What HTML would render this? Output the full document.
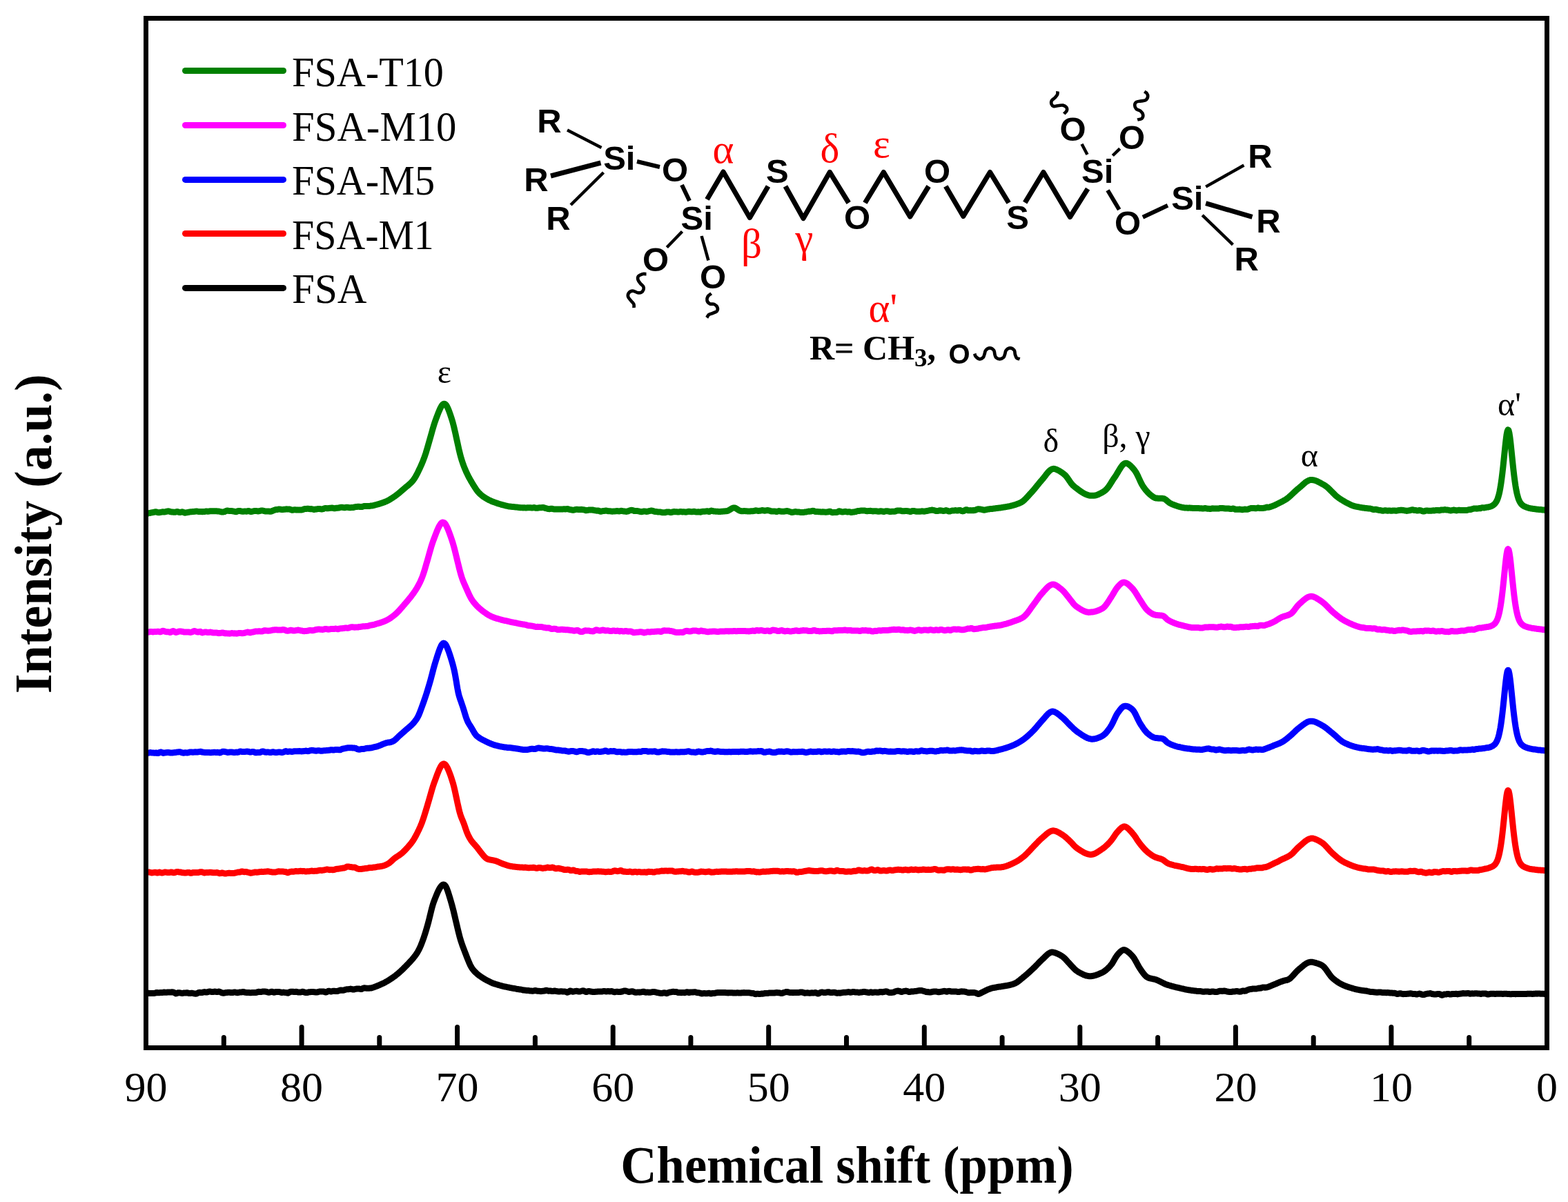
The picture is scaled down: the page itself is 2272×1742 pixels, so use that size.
<!DOCTYPE html>
<html><head><meta charset="utf-8"><title>Chemical shift NMR spectra</title>
<style>
html,body{margin:0;padding:0;background:#fff;}
svg{display:block;}
.serif{font-family:"Liberation Serif","Times New Roman",serif;}
.sans{font-family:"Liberation Sans",Arial,sans-serif;font-weight:bold;}
</style></head><body>
<svg width="2272" height="1742" viewBox="0 0 2272 1742">
<rect width="2272" height="1742" fill="#fff"/>

<g fill="none" stroke-width="9" stroke-linejoin="round" stroke-linecap="butt">
<path d="M212.0 743.6 L213.0 743.8 L214.0 744.0 L215.0 743.9 L216.0 743.7 L217.0 743.5 L218.0 743.3 L219.0 743.0 L220.0 742.8 L221.0 742.7 L222.0 742.6 L223.0 742.3 L224.0 742.0 L225.0 741.8 L226.0 741.8 L227.0 742.1 L228.0 742.4 L229.0 742.7 L230.0 742.8 L231.0 742.7 L232.0 742.6 L233.0 742.3 L234.0 742.1 L235.0 741.9 L236.0 741.8 L237.0 741.9 L238.0 742.0 L239.0 741.9 L240.0 741.7 L241.0 741.4 L242.0 741.1 L243.0 740.9 L244.0 740.8 L245.0 741.0 L246.0 741.3 L247.0 741.7 L248.0 741.9 L249.0 742.0 L250.0 742.0 L251.0 742.2 L252.0 742.3 L253.0 742.3 L254.0 742.2 L255.0 741.9 L256.0 741.7 L257.0 741.5 L258.0 741.8 L259.0 742.2 L260.0 742.6 L261.0 742.6 L262.0 742.3 L263.0 742.0 L264.0 741.8 L265.0 742.1 L266.0 742.6 L267.0 743.1 L268.0 743.2 L269.0 743.1 L270.0 742.9 L271.0 742.7 L272.0 742.6 L273.0 742.4 L274.0 742.1 L275.0 741.9 L276.0 741.8 L277.0 741.7 L278.0 741.7 L279.0 741.6 L280.0 741.5 L281.0 741.4 L282.0 741.3 L283.0 741.2 L284.0 741.1 L285.0 741.0 L286.0 741.2 L287.0 741.4 L288.0 741.6 L289.0 741.5 L290.0 741.4 L291.0 741.5 L292.0 741.6 L293.0 741.7 L294.0 741.6 L295.0 741.6 L296.0 741.6 L297.0 741.3 L298.0 741.1 L299.0 741.0 L300.0 741.1 L301.0 741.3 L302.0 741.2 L303.0 741.0 L304.0 740.8 L305.0 740.7 L306.0 740.7 L307.0 740.7 L308.0 740.7 L309.0 740.8 L310.0 740.8 L311.0 740.8 L312.0 740.8 L313.0 740.7 L314.0 740.8 L315.0 740.9 L316.0 741.0 L317.0 741.1 L318.0 741.2 L319.0 741.5 L320.0 741.8 L321.0 741.9 L322.0 741.9 L323.0 741.9 L324.0 741.9 L325.0 741.7 L326.0 741.3 L327.0 740.8 L328.0 740.4 L329.0 740.1 L330.0 740.1 L331.0 740.3 L332.0 740.4 L333.0 740.5 L334.0 740.5 L335.0 740.5 L336.0 740.6 L337.0 740.8 L338.0 740.9 L339.0 741.1 L340.0 741.3 L341.0 741.6 L342.0 741.7 L343.0 741.4 L344.0 740.9 L345.0 740.6 L346.0 740.4 L347.0 740.5 L348.0 740.6 L349.0 740.9 L350.0 741.1 L351.0 741.2 L352.0 741.2 L353.0 741.2 L354.0 741.1 L355.0 741.0 L356.0 741.1 L357.0 741.2 L358.0 741.1 L359.0 740.7 L360.0 740.5 L361.0 740.7 L362.0 741.1 L363.0 741.4 L364.0 741.5 L365.0 741.3 L366.0 741.1 L367.0 740.9 L368.0 740.7 L369.0 740.5 L370.0 740.4 L371.0 740.4 L372.0 740.6 L373.0 740.8 L374.0 740.9 L375.0 740.8 L376.0 740.6 L377.0 740.3 L378.0 740.1 L379.0 740.0 L380.0 740.0 L381.0 740.2 L382.0 740.4 L383.0 740.7 L384.0 740.9 L385.0 741.0 L386.0 741.0 L387.0 740.9 L388.0 740.9 L389.0 741.0 L390.0 741.1 L391.0 741.3 L392.0 741.3 L393.0 741.1 L394.0 740.7 L395.0 740.3 L396.0 739.9 L397.0 739.5 L398.0 739.1 L399.0 738.7 L400.0 738.6 L401.0 738.6 L402.0 738.5 L403.0 738.2 L404.0 738.0 L405.0 738.0 L406.0 738.2 L407.0 738.3 L408.0 738.4 L409.0 738.4 L410.0 738.4 L411.0 738.3 L412.0 738.3 L413.0 738.2 L414.0 738.0 L415.0 737.8 L416.0 737.9 L417.0 738.0 L418.0 738.0 L419.0 738.0 L420.0 738.1 L421.0 738.5 L422.0 738.9 L423.0 739.2 L424.0 739.2 L425.0 739.1 L426.0 738.9 L427.0 738.7 L428.0 738.8 L429.0 738.9 L430.0 739.1 L431.0 739.1 L432.0 739.1 L433.0 739.0 L434.0 739.0 L435.0 739.0 L436.0 739.0 L437.0 738.9 L438.0 738.8 L439.0 738.5 L440.0 738.0 L441.0 737.6 L442.0 737.4 L443.0 737.4 L444.0 737.4 L445.0 737.3 L446.0 737.2 L447.0 737.3 L448.0 737.5 L449.0 737.7 L450.0 737.7 L451.0 737.6 L452.0 737.7 L453.0 738.0 L454.0 738.3 L455.0 738.4 L456.0 738.3 L457.0 738.1 L458.0 738.0 L459.0 737.9 L460.0 737.7 L461.0 737.5 L462.0 737.4 L463.0 737.5 L464.0 737.7 L465.0 737.8 L466.0 737.9 L467.0 737.9 L468.0 737.7 L469.0 737.3 L470.0 736.8 L471.0 736.5 L472.0 736.5 L473.0 736.7 L474.0 736.8 L475.0 736.8 L476.0 736.6 L477.0 736.5 L478.0 736.3 L479.0 736.2 L480.0 736.2 L481.0 736.1 L482.0 736.2 L483.0 736.4 L484.0 736.7 L485.0 736.8 L486.0 736.6 L487.0 736.3 L488.0 736.2 L489.0 736.2 L490.0 736.2 L491.0 736.0 L492.0 735.6 L493.0 735.4 L494.0 735.3 L495.0 735.3 L496.0 735.3 L497.0 735.4 L498.0 735.6 L499.0 735.8 L500.0 735.7 L501.0 735.4 L502.0 735.2 L503.0 735.2 L504.0 735.3 L505.0 735.5 L506.0 735.7 L507.0 735.8 L508.0 735.7 L509.0 735.6 L510.0 735.6 L511.0 735.6 L512.0 735.5 L513.0 735.2 L514.0 734.8 L515.0 734.6 L516.0 734.6 L517.0 734.5 L518.0 734.3 L519.0 734.2 L520.0 734.2 L521.0 734.4 L522.0 734.5 L523.0 734.6 L524.0 734.5 L525.0 734.4 L526.0 734.0 L527.0 733.7 L528.0 733.5 L529.0 733.6 L530.0 733.6 L531.0 733.5 L532.0 733.5 L533.0 733.5 L534.0 733.6 L535.0 733.5 L536.0 733.3 L537.0 733.1 L538.0 733.0 L539.0 732.9 L540.0 732.8 L541.0 732.6 L542.0 732.3 L543.0 732.0 L544.0 731.8 L545.0 731.5 L546.0 731.2 L547.0 731.0 L548.0 730.7 L549.0 730.4 L550.0 730.1 L551.0 729.8 L552.0 729.4 L553.0 729.1 L554.0 728.8 L555.0 728.4 L556.0 728.1 L557.0 727.7 L558.0 727.3 L559.0 726.9 L560.0 726.4 L561.0 725.9 L562.0 725.4 L563.0 724.9 L564.0 724.4 L565.0 723.8 L566.0 723.2 L567.0 722.6 L568.0 721.9 L569.0 721.3 L570.0 720.6 L571.0 719.9 L572.0 719.3 L573.0 718.6 L574.0 717.8 L575.0 717.1 L576.0 716.3 L577.0 715.5 L578.0 714.7 L579.0 713.8 L580.0 713.0 L581.0 712.1 L582.0 711.3 L583.0 710.4 L584.0 709.5 L585.0 708.7 L586.0 707.8 L587.0 707.0 L588.0 706.1 L589.0 705.3 L590.0 704.5 L591.0 703.7 L592.0 702.8 L593.0 701.9 L594.0 701.0 L595.0 700.1 L596.0 699.1 L597.0 698.0 L598.0 696.8 L599.0 695.6 L600.0 694.2 L601.0 692.7 L602.0 691.0 L603.0 689.2 L604.0 687.4 L605.0 685.4 L606.0 683.4 L607.0 681.3 L608.0 679.2 L609.0 677.1 L610.0 674.9 L611.0 672.6 L612.0 670.3 L613.0 667.8 L614.0 665.2 L615.0 662.5 L616.0 659.6 L617.0 656.6 L618.0 653.3 L619.0 650.0 L620.0 646.6 L621.0 643.1 L622.0 639.6 L623.0 636.1 L624.0 632.5 L625.0 629.0 L626.0 625.4 L627.0 621.8 L628.0 618.4 L629.0 615.1 L630.0 612.1 L631.0 609.2 L632.0 606.5 L633.0 603.9 L634.0 601.2 L635.0 598.7 L636.0 596.2 L637.0 593.9 L638.0 591.7 L639.0 589.8 L640.0 588.1 L641.0 586.8 L642.0 585.8 L643.0 585.3 L644.0 585.3 L645.0 585.6 L646.0 586.5 L647.0 587.8 L648.0 589.6 L649.0 591.7 L650.0 594.1 L651.0 596.7 L652.0 599.5 L653.0 602.5 L654.0 605.5 L655.0 608.7 L656.0 612.1 L657.0 615.8 L658.0 619.9 L659.0 624.2 L660.0 628.6 L661.0 633.2 L662.0 637.7 L663.0 642.3 L664.0 646.9 L665.0 651.4 L666.0 655.6 L667.0 659.6 L668.0 663.3 L669.0 666.6 L670.0 669.7 L671.0 672.6 L672.0 675.3 L673.0 677.8 L674.0 680.2 L675.0 682.6 L676.0 684.8 L677.0 686.9 L678.0 688.9 L679.0 690.9 L680.0 692.8 L681.0 694.6 L682.0 696.4 L683.0 698.1 L684.0 699.8 L685.0 701.5 L686.0 703.1 L687.0 704.7 L688.0 706.3 L689.0 707.8 L690.0 709.3 L691.0 710.7 L692.0 712.0 L693.0 713.2 L694.0 714.3 L695.0 715.3 L696.0 716.3 L697.0 717.1 L698.0 717.9 L699.0 718.7 L700.0 719.5 L701.0 720.2 L702.0 720.8 L703.0 721.5 L704.0 722.1 L705.0 722.7 L706.0 723.3 L707.0 723.8 L708.0 724.4 L709.0 724.9 L710.0 725.3 L711.0 725.8 L712.0 726.3 L713.0 726.7 L714.0 727.1 L715.0 727.4 L716.0 727.8 L717.0 728.1 L718.0 728.5 L719.0 728.8 L720.0 729.2 L721.0 729.6 L722.0 729.9 L723.0 730.2 L724.0 730.5 L725.0 730.8 L726.0 731.1 L727.0 731.4 L728.0 731.7 L729.0 731.9 L730.0 732.2 L731.0 732.4 L732.0 732.7 L733.0 733.0 L734.0 733.2 L735.0 733.4 L736.0 733.6 L737.0 733.8 L738.0 734.0 L739.0 734.1 L740.0 734.2 L741.0 734.3 L742.0 734.4 L743.0 734.6 L744.0 734.6 L745.0 734.7 L746.0 734.8 L747.0 734.9 L748.0 735.0 L749.0 735.1 L750.0 735.2 L751.0 735.3 L752.0 735.5 L753.0 735.6 L754.0 735.8 L755.0 735.8 L756.0 735.8 L757.0 735.8 L758.0 735.9 L759.0 735.8 L760.0 735.8 L761.0 735.9 L762.0 735.9 L763.0 735.9 L764.0 735.8 L765.0 735.7 L766.0 735.7 L767.0 735.7 L768.0 735.7 L769.0 735.8 L770.0 735.9 L771.0 736.0 L772.0 735.9 L773.0 735.7 L774.0 735.6 L775.0 735.9 L776.0 736.2 L777.0 736.3 L778.0 736.3 L779.0 736.2 L780.0 736.1 L781.0 735.9 L782.0 735.7 L783.0 735.7 L784.0 735.8 L785.0 735.7 L786.0 735.5 L787.0 735.5 L788.0 735.7 L789.0 736.1 L790.0 736.4 L791.0 736.7 L792.0 736.9 L793.0 737.2 L794.0 737.5 L795.0 737.6 L796.0 737.7 L797.0 737.6 L798.0 737.3 L799.0 737.2 L800.0 737.3 L801.0 737.6 L802.0 737.8 L803.0 737.9 L804.0 738.0 L805.0 738.1 L806.0 738.1 L807.0 738.0 L808.0 737.9 L809.0 737.9 L810.0 738.0 L811.0 738.0 L812.0 738.0 L813.0 738.0 L814.0 738.1 L815.0 738.0 L816.0 737.8 L817.0 737.8 L818.0 737.8 L819.0 737.9 L820.0 737.8 L821.0 737.7 L822.0 737.6 L823.0 737.6 L824.0 738.0 L825.0 738.4 L826.0 738.6 L827.0 738.7 L828.0 738.8 L829.0 739.1 L830.0 739.3 L831.0 739.3 L832.0 739.0 L833.0 738.6 L834.0 738.4 L835.0 738.3 L836.0 738.3 L837.0 738.3 L838.0 738.5 L839.0 738.6 L840.0 738.6 L841.0 738.5 L842.0 738.3 L843.0 738.4 L844.0 738.6 L845.0 738.7 L846.0 738.8 L847.0 739.0 L848.0 739.3 L849.0 739.7 L850.0 739.7 L851.0 739.5 L852.0 739.3 L853.0 739.1 L854.0 739.0 L855.0 739.0 L856.0 739.0 L857.0 739.0 L858.0 739.0 L859.0 739.1 L860.0 739.4 L861.0 739.6 L862.0 739.7 L863.0 739.9 L864.0 740.1 L865.0 740.2 L866.0 740.1 L867.0 740.0 L868.0 740.3 L869.0 740.9 L870.0 741.2 L871.0 741.2 L872.0 740.9 L873.0 740.7 L874.0 740.6 L875.0 740.5 L876.0 740.3 L877.0 740.2 L878.0 740.1 L879.0 740.2 L880.0 740.4 L881.0 740.7 L882.0 740.8 L883.0 740.8 L884.0 740.8 L885.0 740.9 L886.0 741.1 L887.0 741.2 L888.0 741.2 L889.0 741.0 L890.0 740.9 L891.0 740.9 L892.0 740.8 L893.0 740.7 L894.0 740.6 L895.0 740.7 L896.0 740.8 L897.0 740.9 L898.0 740.8 L899.0 740.6 L900.0 740.3 L901.0 740.4 L902.0 740.7 L903.0 740.9 L904.0 741.1 L905.0 741.1 L906.0 741.2 L907.0 741.3 L908.0 741.4 L909.0 741.2 L910.0 740.9 L911.0 740.4 L912.0 740.0 L913.0 739.7 L914.0 739.5 L915.0 739.3 L916.0 739.4 L917.0 739.6 L918.0 740.1 L919.0 740.5 L920.0 740.6 L921.0 740.5 L922.0 740.4 L923.0 740.5 L924.0 740.6 L925.0 740.8 L926.0 741.0 L927.0 741.3 L928.0 741.5 L929.0 741.7 L930.0 741.7 L931.0 741.5 L932.0 741.2 L933.0 740.9 L934.0 741.0 L935.0 741.2 L936.0 741.3 L937.0 741.4 L938.0 741.3 L939.0 741.1 L940.0 740.8 L941.0 740.5 L942.0 740.3 L943.0 740.1 L944.0 740.1 L945.0 740.2 L946.0 740.4 L947.0 740.8 L948.0 741.2 L949.0 741.5 L950.0 741.6 L951.0 741.6 L952.0 741.7 L953.0 741.9 L954.0 742.0 L955.0 742.0 L956.0 742.0 L957.0 742.0 L958.0 742.3 L959.0 742.6 L960.0 742.8 L961.0 742.8 L962.0 742.8 L963.0 742.8 L964.0 742.7 L965.0 742.4 L966.0 742.0 L967.0 741.9 L968.0 741.9 L969.0 742.0 L970.0 742.2 L971.0 742.5 L972.0 742.7 L973.0 742.5 L974.0 742.2 L975.0 741.8 L976.0 741.6 L977.0 741.6 L978.0 741.7 L979.0 741.7 L980.0 741.7 L981.0 741.8 L982.0 742.0 L983.0 742.0 L984.0 741.9 L985.0 741.7 L986.0 741.5 L987.0 741.6 L988.0 741.8 L989.0 741.9 L990.0 741.8 L991.0 741.8 L992.0 741.9 L993.0 742.1 L994.0 742.2 L995.0 742.0 L996.0 741.7 L997.0 741.4 L998.0 741.3 L999.0 741.3 L1000.0 741.5 L1001.0 741.7 L1002.0 741.8 L1003.0 741.8 L1004.0 741.5 L1005.0 741.3 L1006.0 741.3 L1007.0 741.6 L1008.0 741.9 L1009.0 742.1 L1010.0 742.0 L1011.0 741.8 L1012.0 741.8 L1013.0 741.9 L1014.0 742.1 L1015.0 742.2 L1016.0 741.9 L1017.0 741.5 L1018.0 741.3 L1019.0 741.2 L1020.0 741.2 L1021.0 741.2 L1022.0 741.2 L1023.0 741.0 L1024.0 740.7 L1025.0 740.8 L1026.0 741.2 L1027.0 741.5 L1028.0 741.4 L1029.0 740.8 L1030.0 740.2 L1031.0 740.1 L1032.0 740.3 L1033.0 740.7 L1034.0 741.0 L1035.0 741.1 L1036.0 741.1 L1037.0 741.2 L1038.0 741.2 L1039.0 741.3 L1040.0 741.3 L1041.0 741.4 L1042.0 741.4 L1043.0 741.4 L1044.0 741.4 L1045.0 741.3 L1046.0 741.2 L1047.0 741.2 L1048.0 741.1 L1049.0 741.0 L1050.0 740.9 L1051.0 740.8 L1052.0 740.8 L1053.0 740.7 L1054.0 740.5 L1055.0 740.2 L1056.0 739.6 L1057.0 739.1 L1058.0 738.4 L1059.0 737.8 L1060.0 737.1 L1061.0 736.5 L1062.0 736.2 L1063.0 736.0 L1064.0 736.0 L1065.0 736.1 L1066.0 736.5 L1067.0 737.1 L1068.0 737.8 L1069.0 738.5 L1070.0 739.1 L1071.0 739.7 L1072.0 740.1 L1073.0 740.4 L1074.0 740.7 L1075.0 740.8 L1076.0 740.8 L1077.0 740.7 L1078.0 740.6 L1079.0 740.6 L1080.0 740.7 L1081.0 740.8 L1082.0 740.8 L1083.0 740.9 L1084.0 741.0 L1085.0 741.0 L1086.0 740.9 L1087.0 740.9 L1088.0 740.8 L1089.0 740.8 L1090.0 740.7 L1091.0 740.7 L1092.0 740.6 L1093.0 740.4 L1094.0 740.1 L1095.0 739.8 L1096.0 739.9 L1097.0 740.2 L1098.0 740.4 L1099.0 740.4 L1100.0 740.3 L1101.0 740.3 L1102.0 740.1 L1103.0 739.8 L1104.0 739.6 L1105.0 739.5 L1106.0 739.8 L1107.0 740.1 L1108.0 740.2 L1109.0 740.1 L1110.0 739.9 L1111.0 739.7 L1112.0 739.6 L1113.0 739.6 L1114.0 739.8 L1115.0 740.1 L1116.0 740.4 L1117.0 740.8 L1118.0 741.0 L1119.0 741.1 L1120.0 741.1 L1121.0 741.0 L1122.0 740.9 L1123.0 741.0 L1124.0 741.3 L1125.0 741.5 L1126.0 741.4 L1127.0 741.0 L1128.0 740.7 L1129.0 740.6 L1130.0 740.8 L1131.0 741.1 L1132.0 741.2 L1133.0 741.3 L1134.0 741.3 L1135.0 741.3 L1136.0 741.2 L1137.0 741.1 L1138.0 740.9 L1139.0 740.7 L1140.0 740.6 L1141.0 740.6 L1142.0 740.8 L1143.0 741.1 L1144.0 741.5 L1145.0 741.8 L1146.0 742.1 L1147.0 742.4 L1148.0 742.4 L1149.0 742.3 L1150.0 742.1 L1151.0 741.8 L1152.0 741.6 L1153.0 741.6 L1154.0 741.8 L1155.0 741.9 L1156.0 742.0 L1157.0 742.0 L1158.0 742.1 L1159.0 742.3 L1160.0 742.4 L1161.0 742.5 L1162.0 742.6 L1163.0 742.6 L1164.0 742.5 L1165.0 742.3 L1166.0 742.1 L1167.0 742.0 L1168.0 741.9 L1169.0 741.8 L1170.0 741.5 L1171.0 741.2 L1172.0 741.1 L1173.0 741.2 L1174.0 741.2 L1175.0 741.0 L1176.0 740.6 L1177.0 740.4 L1178.0 740.3 L1179.0 740.5 L1180.0 740.9 L1181.0 741.3 L1182.0 741.5 L1183.0 741.5 L1184.0 741.5 L1185.0 741.6 L1186.0 741.7 L1187.0 741.7 L1188.0 741.7 L1189.0 741.9 L1190.0 742.0 L1191.0 741.9 L1192.0 741.8 L1193.0 741.8 L1194.0 742.0 L1195.0 742.1 L1196.0 742.2 L1197.0 742.2 L1198.0 742.1 L1199.0 742.0 L1200.0 741.8 L1201.0 741.4 L1202.0 741.2 L1203.0 741.3 L1204.0 741.8 L1205.0 742.4 L1206.0 742.7 L1207.0 742.7 L1208.0 742.6 L1209.0 742.4 L1210.0 742.4 L1211.0 742.5 L1212.0 742.6 L1213.0 742.4 L1214.0 741.8 L1215.0 741.2 L1216.0 740.8 L1217.0 740.9 L1218.0 741.3 L1219.0 741.7 L1220.0 742.0 L1221.0 742.1 L1222.0 741.9 L1223.0 741.6 L1224.0 741.4 L1225.0 741.3 L1226.0 741.5 L1227.0 741.8 L1228.0 742.0 L1229.0 741.9 L1230.0 741.7 L1231.0 741.8 L1232.0 742.1 L1233.0 742.4 L1234.0 742.4 L1235.0 742.3 L1236.0 742.1 L1237.0 742.0 L1238.0 741.9 L1239.0 741.7 L1240.0 741.5 L1241.0 741.1 L1242.0 740.8 L1243.0 740.5 L1244.0 740.4 L1245.0 740.4 L1246.0 740.3 L1247.0 740.1 L1248.0 739.9 L1249.0 739.9 L1250.0 739.9 L1251.0 740.0 L1252.0 739.9 L1253.0 740.0 L1254.0 740.3 L1255.0 740.6 L1256.0 740.7 L1257.0 740.7 L1258.0 740.6 L1259.0 740.5 L1260.0 740.4 L1261.0 740.3 L1262.0 740.4 L1263.0 740.6 L1264.0 740.8 L1265.0 740.9 L1266.0 740.8 L1267.0 740.7 L1268.0 740.7 L1269.0 740.7 L1270.0 740.8 L1271.0 741.0 L1272.0 741.2 L1273.0 741.3 L1274.0 741.2 L1275.0 740.9 L1276.0 740.7 L1277.0 740.8 L1278.0 741.0 L1279.0 741.3 L1280.0 741.4 L1281.0 741.4 L1282.0 741.1 L1283.0 740.9 L1284.0 740.7 L1285.0 740.7 L1286.0 740.8 L1287.0 740.9 L1288.0 741.1 L1289.0 741.4 L1290.0 741.5 L1291.0 741.4 L1292.0 741.3 L1293.0 741.2 L1294.0 741.3 L1295.0 741.3 L1296.0 741.3 L1297.0 741.1 L1298.0 740.7 L1299.0 740.3 L1300.0 740.0 L1301.0 739.9 L1302.0 740.0 L1303.0 740.0 L1304.0 740.0 L1305.0 740.1 L1306.0 740.4 L1307.0 740.7 L1308.0 740.8 L1309.0 740.8 L1310.0 740.8 L1311.0 740.6 L1312.0 740.4 L1313.0 740.4 L1314.0 740.6 L1315.0 740.7 L1316.0 740.8 L1317.0 741.0 L1318.0 741.3 L1319.0 741.5 L1320.0 741.3 L1321.0 740.9 L1322.0 740.5 L1323.0 740.5 L1324.0 740.6 L1325.0 740.6 L1326.0 740.8 L1327.0 741.1 L1328.0 741.3 L1329.0 741.3 L1330.0 741.2 L1331.0 741.3 L1332.0 741.3 L1333.0 741.3 L1334.0 741.1 L1335.0 740.9 L1336.0 740.8 L1337.0 740.9 L1338.0 741.1 L1339.0 741.2 L1340.0 741.1 L1341.0 740.9 L1342.0 740.7 L1343.0 740.5 L1344.0 740.3 L1345.0 740.1 L1346.0 739.9 L1347.0 739.7 L1348.0 739.5 L1349.0 739.3 L1350.0 739.1 L1351.0 739.1 L1352.0 739.3 L1353.0 739.5 L1354.0 739.8 L1355.0 740.1 L1356.0 740.4 L1357.0 740.5 L1358.0 740.6 L1359.0 740.5 L1360.0 740.2 L1361.0 739.9 L1362.0 739.7 L1363.0 739.8 L1364.0 740.0 L1365.0 740.2 L1366.0 740.4 L1367.0 740.4 L1368.0 740.4 L1369.0 740.2 L1370.0 739.9 L1371.0 739.6 L1372.0 739.8 L1373.0 740.3 L1374.0 740.8 L1375.0 741.1 L1376.0 741.1 L1377.0 740.8 L1378.0 740.5 L1379.0 740.2 L1380.0 740.0 L1381.0 740.0 L1382.0 740.0 L1383.0 739.8 L1384.0 739.6 L1385.0 739.7 L1386.0 739.9 L1387.0 740.0 L1388.0 739.9 L1389.0 739.6 L1390.0 739.4 L1391.0 739.4 L1392.0 739.7 L1393.0 740.3 L1394.0 740.7 L1395.0 740.9 L1396.0 740.7 L1397.0 740.2 L1398.0 739.5 L1399.0 738.9 L1400.0 738.7 L1401.0 738.8 L1402.0 739.3 L1403.0 739.7 L1404.0 739.8 L1405.0 739.7 L1406.0 739.6 L1407.0 739.8 L1408.0 739.8 L1409.0 739.7 L1410.0 739.6 L1411.0 739.7 L1412.0 739.6 L1413.0 739.4 L1414.0 739.0 L1415.0 738.5 L1416.0 738.0 L1417.0 737.7 L1418.0 737.7 L1419.0 737.9 L1420.0 738.0 L1421.0 738.1 L1422.0 738.3 L1423.0 738.5 L1424.0 738.8 L1425.0 739.1 L1426.0 739.2 L1427.0 739.1 L1428.0 738.9 L1429.0 738.7 L1430.0 738.4 L1431.0 738.2 L1432.0 738.0 L1433.0 737.9 L1434.0 737.7 L1435.0 737.6 L1436.0 737.6 L1437.0 737.5 L1438.0 737.4 L1439.0 737.2 L1440.0 737.1 L1441.0 737.0 L1442.0 736.8 L1443.0 736.7 L1444.0 736.5 L1445.0 736.4 L1446.0 736.3 L1447.0 736.2 L1448.0 736.1 L1449.0 736.0 L1450.0 735.9 L1451.0 735.7 L1452.0 735.5 L1453.0 735.3 L1454.0 735.2 L1455.0 735.0 L1456.0 734.9 L1457.0 734.7 L1458.0 734.6 L1459.0 734.4 L1460.0 734.2 L1461.0 734.0 L1462.0 733.8 L1463.0 733.6 L1464.0 733.4 L1465.0 733.1 L1466.0 732.8 L1467.0 732.6 L1468.0 732.3 L1469.0 732.0 L1470.0 731.8 L1471.0 731.5 L1472.0 731.1 L1473.0 730.8 L1474.0 730.4 L1475.0 730.0 L1476.0 729.7 L1477.0 729.3 L1478.0 728.8 L1479.0 728.4 L1480.0 727.8 L1481.0 727.2 L1482.0 726.5 L1483.0 725.7 L1484.0 724.8 L1485.0 723.9 L1486.0 722.9 L1487.0 721.9 L1488.0 720.8 L1489.0 719.7 L1490.0 718.6 L1491.0 717.5 L1492.0 716.4 L1493.0 715.3 L1494.0 714.2 L1495.0 713.1 L1496.0 712.0 L1497.0 710.8 L1498.0 709.7 L1499.0 708.5 L1500.0 707.3 L1501.0 706.0 L1502.0 704.8 L1503.0 703.5 L1504.0 702.3 L1505.0 701.1 L1506.0 699.9 L1507.0 698.7 L1508.0 697.5 L1509.0 696.3 L1510.0 695.2 L1511.0 694.0 L1512.0 692.8 L1513.0 691.5 L1514.0 690.2 L1515.0 688.9 L1516.0 687.6 L1517.0 686.3 L1518.0 685.1 L1519.0 684.0 L1520.0 683.0 L1521.0 682.0 L1522.0 681.2 L1523.0 680.6 L1524.0 680.0 L1525.0 679.6 L1526.0 679.4 L1527.0 679.3 L1528.0 679.5 L1529.0 679.8 L1530.0 680.1 L1531.0 680.5 L1532.0 680.9 L1533.0 681.4 L1534.0 681.9 L1535.0 682.5 L1536.0 683.1 L1537.0 683.8 L1538.0 684.4 L1539.0 685.1 L1540.0 685.9 L1541.0 686.6 L1542.0 687.4 L1543.0 688.3 L1544.0 689.3 L1545.0 690.4 L1546.0 691.7 L1547.0 693.1 L1548.0 694.5 L1549.0 696.0 L1550.0 697.5 L1551.0 698.9 L1552.0 700.3 L1553.0 701.5 L1554.0 702.7 L1555.0 703.7 L1556.0 704.6 L1557.0 705.4 L1558.0 706.2 L1559.0 707.0 L1560.0 707.8 L1561.0 708.5 L1562.0 709.3 L1563.0 710.0 L1564.0 710.8 L1565.0 711.5 L1566.0 712.2 L1567.0 712.8 L1568.0 713.5 L1569.0 714.1 L1570.0 714.7 L1571.0 715.2 L1572.0 715.7 L1573.0 716.2 L1574.0 716.6 L1575.0 717.0 L1576.0 717.4 L1577.0 717.7 L1578.0 718.0 L1579.0 718.2 L1580.0 718.3 L1581.0 718.3 L1582.0 718.2 L1583.0 718.2 L1584.0 718.2 L1585.0 718.2 L1586.0 718.2 L1587.0 718.0 L1588.0 717.8 L1589.0 717.5 L1590.0 717.1 L1591.0 716.7 L1592.0 716.3 L1593.0 715.8 L1594.0 715.3 L1595.0 714.8 L1596.0 714.3 L1597.0 713.7 L1598.0 713.1 L1599.0 712.5 L1600.0 711.8 L1601.0 711.1 L1602.0 710.3 L1603.0 709.3 L1604.0 708.2 L1605.0 707.0 L1606.0 705.7 L1607.0 704.2 L1608.0 702.7 L1609.0 701.2 L1610.0 699.6 L1611.0 698.0 L1612.0 696.4 L1613.0 694.8 L1614.0 693.3 L1615.0 691.9 L1616.0 690.4 L1617.0 688.9 L1618.0 687.3 L1619.0 685.6 L1620.0 684.0 L1621.0 682.3 L1622.0 680.6 L1623.0 679.0 L1624.0 677.4 L1625.0 676.0 L1626.0 674.7 L1627.0 673.5 L1628.0 672.6 L1629.0 671.9 L1630.0 671.5 L1631.0 671.2 L1632.0 671.3 L1633.0 671.5 L1634.0 672.0 L1635.0 672.5 L1636.0 673.2 L1637.0 674.0 L1638.0 674.9 L1639.0 675.9 L1640.0 676.9 L1641.0 678.0 L1642.0 679.1 L1643.0 680.3 L1644.0 681.6 L1645.0 683.0 L1646.0 684.5 L1647.0 686.3 L1648.0 688.2 L1649.0 690.3 L1650.0 692.5 L1651.0 694.7 L1652.0 696.9 L1653.0 699.0 L1654.0 701.0 L1655.0 702.8 L1656.0 704.4 L1657.0 705.9 L1658.0 707.3 L1659.0 708.7 L1660.0 710.0 L1661.0 711.2 L1662.0 712.3 L1663.0 713.4 L1664.0 714.5 L1665.0 715.4 L1666.0 716.3 L1667.0 717.2 L1668.0 718.0 L1669.0 718.8 L1670.0 719.5 L1671.0 720.2 L1672.0 720.8 L1673.0 721.3 L1674.0 721.7 L1675.0 722.0 L1676.0 722.1 L1677.0 722.1 L1678.0 722.2 L1679.0 722.2 L1680.0 722.2 L1681.0 722.2 L1682.0 722.2 L1683.0 722.2 L1684.0 722.3 L1685.0 722.4 L1686.0 722.6 L1687.0 722.9 L1688.0 723.5 L1689.0 724.1 L1690.0 724.9 L1691.0 725.8 L1692.0 726.7 L1693.0 727.5 L1694.0 728.3 L1695.0 729.0 L1696.0 729.6 L1697.0 730.1 L1698.0 730.5 L1699.0 731.0 L1700.0 731.3 L1701.0 731.7 L1702.0 732.1 L1703.0 732.4 L1704.0 732.8 L1705.0 733.1 L1706.0 733.5 L1707.0 733.8 L1708.0 734.1 L1709.0 734.4 L1710.0 734.6 L1711.0 734.9 L1712.0 735.2 L1713.0 735.4 L1714.0 735.5 L1715.0 735.7 L1716.0 735.8 L1717.0 736.0 L1718.0 736.0 L1719.0 736.1 L1720.0 736.1 L1721.0 736.2 L1722.0 736.2 L1723.0 736.1 L1724.0 736.1 L1725.0 736.2 L1726.0 736.3 L1727.0 736.3 L1728.0 736.4 L1729.0 736.4 L1730.0 736.5 L1731.0 736.6 L1732.0 736.6 L1733.0 736.6 L1734.0 736.5 L1735.0 736.4 L1736.0 736.5 L1737.0 736.6 L1738.0 736.7 L1739.0 736.7 L1740.0 736.8 L1741.0 736.8 L1742.0 736.9 L1743.0 737.0 L1744.0 736.9 L1745.0 736.7 L1746.0 736.6 L1747.0 736.6 L1748.0 736.8 L1749.0 737.1 L1750.0 737.3 L1751.0 737.3 L1752.0 737.3 L1753.0 737.4 L1754.0 737.4 L1755.0 737.3 L1756.0 737.0 L1757.0 736.8 L1758.0 736.9 L1759.0 737.0 L1760.0 737.1 L1761.0 737.1 L1762.0 737.0 L1763.0 736.9 L1764.0 736.9 L1765.0 737.0 L1766.0 737.0 L1767.0 736.7 L1768.0 736.5 L1769.0 736.4 L1770.0 736.5 L1771.0 736.6 L1772.0 736.6 L1773.0 736.7 L1774.0 736.8 L1775.0 736.9 L1776.0 736.9 L1777.0 737.0 L1778.0 737.0 L1779.0 736.9 L1780.0 736.9 L1781.0 737.1 L1782.0 737.4 L1783.0 737.6 L1784.0 737.5 L1785.0 737.3 L1786.0 737.1 L1787.0 737.1 L1788.0 737.4 L1789.0 737.8 L1790.0 738.2 L1791.0 738.3 L1792.0 738.3 L1793.0 738.2 L1794.0 738.2 L1795.0 738.2 L1796.0 738.1 L1797.0 738.2 L1798.0 738.4 L1799.0 738.6 L1800.0 738.7 L1801.0 738.6 L1802.0 738.4 L1803.0 738.2 L1804.0 738.1 L1805.0 738.2 L1806.0 738.2 L1807.0 738.3 L1808.0 738.1 L1809.0 737.8 L1810.0 737.4 L1811.0 737.0 L1812.0 736.7 L1813.0 736.5 L1814.0 736.5 L1815.0 736.5 L1816.0 736.5 L1817.0 736.5 L1818.0 736.6 L1819.0 736.8 L1820.0 736.8 L1821.0 736.5 L1822.0 736.2 L1823.0 736.0 L1824.0 736.2 L1825.0 736.5 L1826.0 736.5 L1827.0 736.4 L1828.0 736.4 L1829.0 736.4 L1830.0 736.4 L1831.0 736.3 L1832.0 736.2 L1833.0 736.0 L1834.0 735.6 L1835.0 735.2 L1836.0 735.1 L1837.0 735.2 L1838.0 735.2 L1839.0 735.1 L1840.0 734.8 L1841.0 734.4 L1842.0 734.1 L1843.0 733.8 L1844.0 733.4 L1845.0 733.0 L1846.0 732.6 L1847.0 732.2 L1848.0 731.7 L1849.0 731.3 L1850.0 730.8 L1851.0 730.3 L1852.0 729.8 L1853.0 729.3 L1854.0 728.8 L1855.0 728.3 L1856.0 727.8 L1857.0 727.3 L1858.0 726.7 L1859.0 726.2 L1860.0 725.6 L1861.0 725.1 L1862.0 724.5 L1863.0 723.9 L1864.0 723.2 L1865.0 722.5 L1866.0 721.7 L1867.0 720.9 L1868.0 720.1 L1869.0 719.2 L1870.0 718.3 L1871.0 717.4 L1872.0 716.4 L1873.0 715.5 L1874.0 714.5 L1875.0 713.6 L1876.0 712.7 L1877.0 711.7 L1878.0 710.8 L1879.0 709.9 L1880.0 709.1 L1881.0 708.2 L1882.0 707.4 L1883.0 706.6 L1884.0 705.8 L1885.0 704.9 L1886.0 704.0 L1887.0 703.1 L1888.0 702.2 L1889.0 701.3 L1890.0 700.5 L1891.0 699.6 L1892.0 698.8 L1893.0 698.1 L1894.0 697.4 L1895.0 696.9 L1896.0 696.4 L1897.0 696.0 L1898.0 695.7 L1899.0 695.5 L1900.0 695.4 L1901.0 695.5 L1902.0 695.6 L1903.0 695.8 L1904.0 695.9 L1905.0 696.2 L1906.0 696.5 L1907.0 696.9 L1908.0 697.3 L1909.0 697.8 L1910.0 698.2 L1911.0 698.7 L1912.0 699.2 L1913.0 699.8 L1914.0 700.3 L1915.0 700.9 L1916.0 701.4 L1917.0 702.0 L1918.0 702.6 L1919.0 703.1 L1920.0 703.8 L1921.0 704.4 L1922.0 705.2 L1923.0 706.0 L1924.0 706.8 L1925.0 707.8 L1926.0 708.7 L1927.0 709.7 L1928.0 710.7 L1929.0 711.7 L1930.0 712.8 L1931.0 713.8 L1932.0 714.8 L1933.0 715.8 L1934.0 716.8 L1935.0 717.8 L1936.0 718.7 L1937.0 719.5 L1938.0 720.3 L1939.0 721.1 L1940.0 721.8 L1941.0 722.5 L1942.0 723.1 L1943.0 723.8 L1944.0 724.4 L1945.0 725.0 L1946.0 725.6 L1947.0 726.2 L1948.0 726.8 L1949.0 727.4 L1950.0 728.0 L1951.0 728.6 L1952.0 729.1 L1953.0 729.6 L1954.0 730.1 L1955.0 730.6 L1956.0 731.1 L1957.0 731.6 L1958.0 732.0 L1959.0 732.4 L1960.0 732.8 L1961.0 733.1 L1962.0 733.4 L1963.0 733.7 L1964.0 734.0 L1965.0 734.2 L1966.0 734.4 L1967.0 734.6 L1968.0 734.7 L1969.0 734.9 L1970.0 735.1 L1971.0 735.3 L1972.0 735.5 L1973.0 735.7 L1974.0 735.8 L1975.0 736.0 L1976.0 736.1 L1977.0 736.2 L1978.0 736.4 L1979.0 736.5 L1980.0 736.6 L1981.0 736.7 L1982.0 736.8 L1983.0 736.9 L1984.0 737.0 L1985.0 737.1 L1986.0 737.2 L1987.0 737.5 L1988.0 737.8 L1989.0 738.2 L1990.0 738.5 L1991.0 738.5 L1992.0 738.3 L1993.0 738.2 L1994.0 738.3 L1995.0 738.6 L1996.0 738.9 L1997.0 739.2 L1998.0 739.4 L1999.0 739.5 L2000.0 739.6 L2001.0 739.7 L2002.0 740.0 L2003.0 740.2 L2004.0 740.3 L2005.0 740.1 L2006.0 739.9 L2007.0 739.7 L2008.0 739.8 L2009.0 740.0 L2010.0 740.2 L2011.0 740.2 L2012.0 740.1 L2013.0 740.1 L2014.0 740.1 L2015.0 740.2 L2016.0 740.2 L2017.0 740.2 L2018.0 740.1 L2019.0 740.0 L2020.0 739.9 L2021.0 740.0 L2022.0 740.2 L2023.0 740.3 L2024.0 740.1 L2025.0 739.9 L2026.0 739.7 L2027.0 739.6 L2028.0 739.5 L2029.0 739.3 L2030.0 739.2 L2031.0 739.2 L2032.0 739.4 L2033.0 739.5 L2034.0 739.6 L2035.0 739.8 L2036.0 740.0 L2037.0 740.2 L2038.0 740.4 L2039.0 740.3 L2040.0 740.1 L2041.0 739.9 L2042.0 739.8 L2043.0 739.7 L2044.0 739.4 L2045.0 739.0 L2046.0 738.7 L2047.0 738.8 L2048.0 739.1 L2049.0 739.4 L2050.0 739.5 L2051.0 739.5 L2052.0 739.7 L2053.0 740.0 L2054.0 740.0 L2055.0 739.8 L2056.0 739.6 L2057.0 739.6 L2058.0 739.7 L2059.0 739.9 L2060.0 740.2 L2061.0 740.7 L2062.0 741.0 L2063.0 741.0 L2064.0 740.8 L2065.0 740.4 L2066.0 740.1 L2067.0 739.9 L2068.0 740.0 L2069.0 740.2 L2070.0 740.2 L2071.0 740.3 L2072.0 740.3 L2073.0 740.2 L2074.0 740.2 L2075.0 740.1 L2076.0 739.9 L2077.0 739.8 L2078.0 739.9 L2079.0 739.9 L2080.0 739.7 L2081.0 739.5 L2082.0 739.4 L2083.0 739.5 L2084.0 739.6 L2085.0 739.7 L2086.0 739.7 L2087.0 739.4 L2088.0 739.1 L2089.0 739.0 L2090.0 739.0 L2091.0 739.0 L2092.0 738.9 L2093.0 738.7 L2094.0 738.6 L2095.0 738.8 L2096.0 739.0 L2097.0 739.1 L2098.0 739.1 L2099.0 739.3 L2100.0 739.6 L2101.0 739.8 L2102.0 739.9 L2103.0 739.8 L2104.0 739.6 L2105.0 739.3 L2106.0 739.1 L2107.0 739.1 L2108.0 739.3 L2109.0 739.7 L2110.0 739.9 L2111.0 739.8 L2112.0 739.6 L2113.0 739.4 L2114.0 739.2 L2115.0 739.3 L2116.0 739.5 L2117.0 739.5 L2118.0 739.5 L2119.0 739.4 L2120.0 739.5 L2121.0 739.5 L2122.0 739.5 L2123.0 739.5 L2124.0 739.6 L2125.0 739.5 L2126.0 739.3 L2127.0 739.0 L2128.0 738.7 L2129.0 738.6 L2130.0 738.5 L2131.0 738.4 L2132.0 738.1 L2133.0 737.8 L2134.0 737.5 L2135.0 737.2 L2136.0 737.0 L2137.0 736.9 L2138.0 736.9 L2139.0 737.1 L2140.0 737.2 L2141.0 737.0 L2142.0 736.8 L2143.0 736.6 L2144.0 736.7 L2145.0 736.7 L2146.0 736.3 L2147.0 735.9 L2148.0 735.7 L2149.0 735.8 L2150.0 735.9 L2151.0 735.9 L2152.0 735.7 L2153.0 735.4 L2154.0 735.2 L2155.0 735.1 L2156.0 735.0 L2157.0 734.8 L2158.0 734.5 L2159.0 734.3 L2160.0 734.0 L2161.0 733.5 L2162.0 733.1 L2163.0 732.5 L2164.0 731.8 L2165.0 731.0 L2166.0 730.1 L2167.0 728.8 L2168.0 727.3 L2169.0 725.4 L2170.0 723.0 L2171.0 720.0 L2172.0 716.4 L2173.0 711.9 L2174.0 706.6 L2175.0 700.3 L2176.0 693.0 L2177.0 684.9 L2178.0 675.9 L2179.0 666.3 L2180.0 656.4 L2181.0 646.6 L2182.0 637.7 L2183.0 630.2 L2184.0 625.0 L2185.0 622.8 L2186.0 623.8 L2187.0 627.9 L2188.0 634.5 L2189.0 643.0 L2190.0 652.6 L2191.0 662.5 L2192.0 672.3 L2193.0 681.5 L2194.0 690.1 L2195.0 697.7 L2196.0 704.4 L2197.0 710.2 L2198.0 715.0 L2199.0 719.0 L2200.0 722.3 L2201.0 724.9 L2202.0 727.0 L2203.0 728.7 L2204.0 730.1 L2205.0 731.2 L2206.0 732.1 L2207.0 732.8 L2208.0 733.5 L2209.0 734.0 L2210.0 734.4 L2211.0 734.8 L2212.0 735.2 L2213.0 735.5 L2214.0 735.9 L2215.0 736.2 L2216.0 736.5 L2217.0 736.7 L2218.0 736.9 L2219.0 737.0 L2220.0 737.2 L2221.0 737.3 L2222.0 737.5 L2223.0 737.6 L2224.0 737.7 L2225.0 737.8 L2226.0 738.0 L2227.0 738.2 L2228.0 738.3 L2229.0 738.3 L2230.0 738.4 L2231.0 738.4 L2232.0 738.5 L2233.0 738.6 L2234.0 738.8 L2235.0 738.9 L2236.0 739.0 L2237.0 739.1 L2238.0 739.2 L2239.0 739.3 L2240.0 739.4 L2241.0 739.5" stroke="#008000"/>
<path d="M212.0 916.5 L213.0 916.5 L214.0 916.4 L215.0 916.2 L216.0 915.9 L217.0 915.7 L218.0 915.5 L219.0 915.5 L220.0 915.6 L221.0 915.8 L222.0 915.9 L223.0 915.7 L224.0 915.5 L225.0 915.5 L226.0 915.6 L227.0 915.5 L228.0 915.2 L229.0 915.2 L230.0 915.4 L231.0 915.7 L232.0 915.9 L233.0 915.7 L234.0 915.2 L235.0 914.6 L236.0 914.3 L237.0 914.4 L238.0 914.8 L239.0 915.2 L240.0 915.5 L241.0 915.7 L242.0 915.8 L243.0 915.8 L244.0 915.8 L245.0 916.0 L246.0 916.4 L247.0 916.5 L248.0 916.0 L249.0 915.3 L250.0 914.7 L251.0 914.6 L252.0 914.9 L253.0 915.5 L254.0 916.1 L255.0 916.4 L256.0 916.3 L257.0 916.0 L258.0 915.5 L259.0 915.1 L260.0 914.9 L261.0 915.0 L262.0 915.1 L263.0 915.2 L264.0 915.3 L265.0 915.5 L266.0 915.8 L267.0 916.1 L268.0 916.1 L269.0 916.0 L270.0 915.9 L271.0 915.9 L272.0 915.9 L273.0 916.0 L274.0 916.2 L275.0 916.3 L276.0 916.4 L277.0 916.3 L278.0 916.0 L279.0 915.6 L280.0 915.0 L281.0 914.6 L282.0 914.6 L283.0 914.9 L284.0 915.3 L285.0 915.6 L286.0 915.9 L287.0 916.0 L288.0 915.9 L289.0 915.5 L290.0 915.3 L291.0 915.7 L292.0 916.4 L293.0 916.9 L294.0 916.8 L295.0 916.5 L296.0 916.2 L297.0 916.1 L298.0 916.0 L299.0 916.1 L300.0 916.3 L301.0 916.6 L302.0 916.6 L303.0 916.5 L304.0 916.2 L305.0 916.1 L306.0 916.3 L307.0 916.6 L308.0 916.9 L309.0 917.1 L310.0 917.1 L311.0 917.0 L312.0 916.9 L313.0 916.9 L314.0 917.0 L315.0 917.3 L316.0 917.5 L317.0 917.7 L318.0 917.6 L319.0 917.5 L320.0 917.3 L321.0 917.1 L322.0 916.9 L323.0 917.0 L324.0 917.4 L325.0 917.7 L326.0 917.9 L327.0 917.8 L328.0 917.8 L329.0 917.9 L330.0 917.9 L331.0 918.0 L332.0 918.2 L333.0 918.2 L334.0 918.0 L335.0 917.7 L336.0 917.6 L337.0 917.7 L338.0 917.9 L339.0 917.9 L340.0 917.8 L341.0 917.9 L342.0 918.1 L343.0 918.2 L344.0 918.0 L345.0 917.7 L346.0 917.6 L347.0 917.6 L348.0 917.6 L349.0 917.6 L350.0 917.7 L351.0 917.7 L352.0 917.7 L353.0 917.6 L354.0 917.4 L355.0 917.1 L356.0 916.8 L357.0 916.5 L358.0 916.2 L359.0 916.1 L360.0 916.4 L361.0 916.7 L362.0 916.9 L363.0 916.8 L364.0 916.4 L365.0 916.2 L366.0 916.1 L367.0 916.0 L368.0 915.7 L369.0 915.3 L370.0 915.0 L371.0 914.9 L372.0 914.9 L373.0 914.9 L374.0 914.9 L375.0 914.8 L376.0 914.8 L377.0 914.9 L378.0 915.0 L379.0 915.0 L380.0 914.9 L381.0 914.6 L382.0 914.2 L383.0 913.8 L384.0 913.7 L385.0 913.8 L386.0 914.0 L387.0 914.1 L388.0 914.2 L389.0 914.2 L390.0 914.1 L391.0 914.0 L392.0 913.8 L393.0 913.6 L394.0 913.3 L395.0 913.1 L396.0 913.0 L397.0 912.9 L398.0 912.8 L399.0 912.8 L400.0 912.8 L401.0 912.8 L402.0 912.9 L403.0 913.0 L404.0 913.0 L405.0 913.1 L406.0 913.0 L407.0 913.0 L408.0 912.9 L409.0 912.7 L410.0 912.6 L411.0 912.7 L412.0 912.8 L413.0 913.1 L414.0 913.6 L415.0 914.0 L416.0 914.2 L417.0 914.2 L418.0 914.1 L419.0 913.9 L420.0 913.6 L421.0 913.3 L422.0 913.2 L423.0 913.5 L424.0 913.9 L425.0 914.1 L426.0 914.1 L427.0 913.9 L428.0 913.8 L429.0 913.6 L430.0 913.5 L431.0 913.2 L432.0 913.1 L433.0 913.2 L434.0 913.5 L435.0 913.8 L436.0 913.9 L437.0 914.0 L438.0 914.2 L439.0 914.5 L440.0 914.7 L441.0 914.7 L442.0 914.6 L443.0 914.4 L444.0 914.4 L445.0 914.3 L446.0 914.2 L447.0 913.9 L448.0 913.6 L449.0 913.4 L450.0 913.4 L451.0 913.6 L452.0 913.8 L453.0 913.8 L454.0 913.6 L455.0 913.3 L456.0 913.1 L457.0 912.7 L458.0 912.5 L459.0 912.3 L460.0 912.2 L461.0 912.1 L462.0 912.1 L463.0 912.1 L464.0 912.2 L465.0 912.2 L466.0 912.3 L467.0 912.4 L468.0 912.4 L469.0 912.2 L470.0 911.8 L471.0 911.5 L472.0 911.4 L473.0 911.6 L474.0 911.9 L475.0 912.1 L476.0 912.2 L477.0 912.0 L478.0 911.8 L479.0 911.6 L480.0 911.4 L481.0 911.5 L482.0 911.6 L483.0 911.6 L484.0 911.5 L485.0 911.3 L486.0 911.1 L487.0 911.2 L488.0 911.5 L489.0 911.8 L490.0 911.7 L491.0 911.3 L492.0 911.0 L493.0 910.9 L494.0 910.8 L495.0 910.8 L496.0 910.7 L497.0 910.6 L498.0 910.4 L499.0 910.3 L500.0 910.1 L501.0 910.1 L502.0 910.1 L503.0 910.2 L504.0 910.2 L505.0 910.1 L506.0 909.8 L507.0 909.3 L508.0 909.0 L509.0 908.8 L510.0 908.8 L511.0 908.8 L512.0 908.9 L513.0 909.1 L514.0 909.2 L515.0 909.1 L516.0 908.9 L517.0 908.9 L518.0 908.9 L519.0 908.9 L520.0 908.6 L521.0 908.5 L522.0 908.4 L523.0 908.3 L524.0 908.1 L525.0 907.9 L526.0 907.8 L527.0 907.8 L528.0 907.8 L529.0 907.7 L530.0 907.6 L531.0 907.4 L532.0 907.4 L533.0 907.3 L534.0 907.1 L535.0 906.7 L536.0 906.4 L537.0 906.2 L538.0 906.0 L539.0 905.8 L540.0 905.7 L541.0 905.5 L542.0 905.3 L543.0 905.0 L544.0 904.6 L545.0 904.3 L546.0 904.0 L547.0 903.7 L548.0 903.5 L549.0 903.2 L550.0 902.9 L551.0 902.6 L552.0 902.2 L553.0 901.9 L554.0 901.5 L555.0 901.2 L556.0 900.8 L557.0 900.4 L558.0 899.9 L559.0 899.5 L560.0 899.1 L561.0 898.6 L562.0 898.0 L563.0 897.4 L564.0 896.8 L565.0 896.2 L566.0 895.5 L567.0 894.8 L568.0 894.1 L569.0 893.3 L570.0 892.6 L571.0 891.8 L572.0 891.0 L573.0 890.1 L574.0 889.2 L575.0 888.2 L576.0 887.2 L577.0 886.2 L578.0 885.2 L579.0 884.1 L580.0 882.9 L581.0 881.8 L582.0 880.7 L583.0 879.5 L584.0 878.3 L585.0 877.2 L586.0 876.0 L587.0 874.8 L588.0 873.7 L589.0 872.5 L590.0 871.3 L591.0 870.1 L592.0 868.9 L593.0 867.7 L594.0 866.5 L595.0 865.2 L596.0 863.9 L597.0 862.6 L598.0 861.3 L599.0 859.9 L600.0 858.4 L601.0 857.0 L602.0 855.5 L603.0 853.9 L604.0 852.3 L605.0 850.6 L606.0 848.8 L607.0 846.9 L608.0 844.9 L609.0 842.9 L610.0 840.7 L611.0 838.3 L612.0 835.8 L613.0 833.0 L614.0 830.0 L615.0 826.9 L616.0 823.5 L617.0 820.1 L618.0 816.6 L619.0 813.2 L620.0 809.7 L621.0 806.1 L622.0 802.6 L623.0 799.0 L624.0 795.5 L625.0 792.1 L626.0 788.9 L627.0 785.9 L628.0 783.1 L629.0 780.4 L630.0 777.7 L631.0 775.1 L632.0 772.5 L633.0 770.0 L634.0 767.6 L635.0 765.4 L636.0 763.3 L637.0 761.4 L638.0 759.9 L639.0 758.6 L640.0 757.7 L641.0 757.1 L642.0 757.1 L643.0 757.3 L644.0 758.0 L645.0 759.1 L646.0 760.6 L647.0 762.4 L648.0 764.4 L649.0 766.8 L650.0 769.3 L651.0 771.9 L652.0 774.7 L653.0 777.5 L654.0 780.4 L655.0 783.4 L656.0 786.5 L657.0 789.9 L658.0 793.5 L659.0 797.4 L660.0 801.4 L661.0 805.5 L662.0 809.6 L663.0 813.7 L664.0 817.8 L665.0 821.9 L666.0 825.9 L667.0 829.7 L668.0 833.2 L669.0 836.4 L670.0 839.3 L671.0 841.9 L672.0 844.4 L673.0 846.6 L674.0 848.9 L675.0 851.1 L676.0 853.3 L677.0 855.6 L678.0 857.8 L679.0 860.1 L680.0 862.3 L681.0 864.3 L682.0 866.2 L683.0 867.9 L684.0 869.5 L685.0 870.9 L686.0 872.3 L687.0 873.5 L688.0 874.8 L689.0 875.9 L690.0 877.0 L691.0 878.1 L692.0 879.1 L693.0 880.0 L694.0 881.0 L695.0 881.8 L696.0 882.7 L697.0 883.5 L698.0 884.4 L699.0 885.2 L700.0 885.9 L701.0 886.7 L702.0 887.4 L703.0 888.1 L704.0 888.8 L705.0 889.5 L706.0 890.2 L707.0 890.8 L708.0 891.4 L709.0 891.9 L710.0 892.5 L711.0 893.0 L712.0 893.4 L713.0 893.9 L714.0 894.3 L715.0 894.7 L716.0 895.1 L717.0 895.4 L718.0 895.8 L719.0 896.1 L720.0 896.4 L721.0 896.7 L722.0 896.9 L723.0 897.2 L724.0 897.5 L725.0 897.8 L726.0 898.1 L727.0 898.4 L728.0 898.7 L729.0 898.9 L730.0 899.2 L731.0 899.4 L732.0 899.5 L733.0 899.7 L734.0 899.9 L735.0 900.2 L736.0 900.4 L737.0 900.7 L738.0 900.9 L739.0 901.1 L740.0 901.4 L741.0 901.6 L742.0 901.8 L743.0 901.9 L744.0 902.1 L745.0 902.3 L746.0 902.5 L747.0 902.7 L748.0 902.9 L749.0 903.2 L750.0 903.4 L751.0 903.6 L752.0 903.8 L753.0 904.0 L754.0 904.2 L755.0 904.4 L756.0 904.6 L757.0 904.7 L758.0 904.9 L759.0 905.0 L760.0 905.1 L761.0 905.3 L762.0 905.5 L763.0 905.8 L764.0 906.2 L765.0 906.5 L766.0 906.7 L767.0 906.8 L768.0 906.8 L769.0 906.9 L770.0 907.1 L771.0 907.2 L772.0 907.4 L773.0 907.6 L774.0 907.9 L775.0 908.2 L776.0 908.4 L777.0 908.5 L778.0 908.4 L779.0 908.3 L780.0 908.4 L781.0 908.5 L782.0 908.6 L783.0 908.6 L784.0 908.5 L785.0 908.6 L786.0 908.8 L787.0 909.1 L788.0 909.3 L789.0 909.5 L790.0 909.7 L791.0 909.9 L792.0 910.0 L793.0 910.0 L794.0 909.9 L795.0 909.9 L796.0 910.2 L797.0 910.6 L798.0 911.2 L799.0 911.5 L800.0 911.5 L801.0 911.4 L802.0 911.3 L803.0 911.3 L804.0 911.3 L805.0 911.4 L806.0 911.7 L807.0 912.1 L808.0 912.5 L809.0 912.5 L810.0 912.5 L811.0 912.4 L812.0 912.4 L813.0 912.2 L814.0 912.2 L815.0 912.2 L816.0 912.4 L817.0 912.5 L818.0 912.6 L819.0 912.7 L820.0 912.7 L821.0 912.7 L822.0 912.8 L823.0 912.8 L824.0 913.0 L825.0 913.2 L826.0 913.3 L827.0 913.4 L828.0 913.5 L829.0 913.6 L830.0 913.8 L831.0 914.1 L832.0 914.2 L833.0 914.1 L834.0 913.9 L835.0 913.6 L836.0 913.4 L837.0 913.5 L838.0 913.9 L839.0 914.6 L840.0 915.1 L841.0 915.4 L842.0 915.5 L843.0 915.5 L844.0 915.4 L845.0 915.1 L846.0 914.6 L847.0 914.1 L848.0 913.8 L849.0 913.8 L850.0 914.0 L851.0 914.1 L852.0 914.0 L853.0 914.0 L854.0 914.2 L855.0 914.5 L856.0 914.7 L857.0 914.8 L858.0 914.8 L859.0 914.9 L860.0 914.8 L861.0 914.4 L862.0 913.7 L863.0 913.1 L864.0 912.8 L865.0 913.0 L866.0 913.4 L867.0 913.7 L868.0 913.9 L869.0 914.0 L870.0 914.0 L871.0 913.7 L872.0 913.3 L873.0 913.0 L874.0 913.0 L875.0 913.3 L876.0 913.7 L877.0 914.1 L878.0 914.1 L879.0 913.9 L880.0 913.7 L881.0 913.8 L882.0 914.1 L883.0 914.3 L884.0 914.4 L885.0 914.5 L886.0 914.5 L887.0 914.3 L888.0 914.0 L889.0 913.9 L890.0 914.0 L891.0 914.3 L892.0 914.5 L893.0 914.4 L894.0 914.2 L895.0 914.1 L896.0 914.5 L897.0 914.8 L898.0 914.9 L899.0 914.6 L900.0 914.5 L901.0 914.5 L902.0 914.8 L903.0 915.0 L904.0 915.1 L905.0 914.9 L906.0 914.5 L907.0 914.4 L908.0 914.6 L909.0 915.0 L910.0 915.2 L911.0 915.2 L912.0 915.0 L913.0 915.0 L914.0 915.1 L915.0 915.4 L916.0 915.8 L917.0 916.3 L918.0 916.7 L919.0 916.7 L920.0 916.7 L921.0 916.5 L922.0 916.3 L923.0 916.2 L924.0 916.2 L925.0 916.2 L926.0 916.0 L927.0 915.8 L928.0 915.7 L929.0 915.8 L930.0 916.0 L931.0 916.2 L932.0 916.6 L933.0 916.9 L934.0 916.9 L935.0 916.7 L936.0 916.3 L937.0 916.1 L938.0 915.8 L939.0 915.7 L940.0 915.9 L941.0 916.1 L942.0 916.1 L943.0 915.9 L944.0 915.5 L945.0 915.4 L946.0 915.4 L947.0 915.4 L948.0 915.4 L949.0 915.3 L950.0 915.3 L951.0 915.2 L952.0 915.1 L953.0 915.0 L954.0 914.9 L955.0 914.9 L956.0 915.1 L957.0 915.4 L958.0 915.4 L959.0 915.1 L960.0 914.5 L961.0 914.0 L962.0 913.8 L963.0 913.8 L964.0 913.9 L965.0 914.0 L966.0 914.1 L967.0 914.1 L968.0 914.0 L969.0 914.0 L970.0 914.2 L971.0 914.5 L972.0 914.6 L973.0 914.6 L974.0 914.8 L975.0 915.1 L976.0 915.4 L977.0 915.7 L978.0 916.1 L979.0 916.3 L980.0 916.4 L981.0 916.4 L982.0 916.5 L983.0 916.6 L984.0 916.6 L985.0 916.4 L986.0 916.2 L987.0 916.2 L988.0 916.4 L989.0 916.5 L990.0 916.3 L991.0 915.7 L992.0 915.1 L993.0 914.7 L994.0 914.5 L995.0 914.3 L996.0 914.4 L997.0 914.6 L998.0 914.9 L999.0 915.1 L1000.0 915.1 L1001.0 914.9 L1002.0 914.6 L1003.0 914.3 L1004.0 914.0 L1005.0 913.9 L1006.0 913.9 L1007.0 914.0 L1008.0 914.0 L1009.0 914.1 L1010.0 914.3 L1011.0 914.6 L1012.0 914.9 L1013.0 915.0 L1014.0 914.7 L1015.0 914.2 L1016.0 913.9 L1017.0 914.1 L1018.0 914.6 L1019.0 914.8 L1020.0 914.8 L1021.0 914.8 L1022.0 915.0 L1023.0 915.3 L1024.0 915.5 L1025.0 915.7 L1026.0 915.8 L1027.0 915.6 L1028.0 915.3 L1029.0 915.2 L1030.0 915.3 L1031.0 915.3 L1032.0 915.1 L1033.0 914.9 L1034.0 914.9 L1035.0 915.0 L1036.0 915.1 L1037.0 915.2 L1038.0 915.3 L1039.0 915.4 L1040.0 915.4 L1041.0 915.4 L1042.0 915.3 L1043.0 915.1 L1044.0 915.1 L1045.0 915.0 L1046.0 915.0 L1047.0 914.9 L1048.0 914.9 L1049.0 914.9 L1050.0 914.9 L1051.0 914.8 L1052.0 914.7 L1053.0 914.7 L1054.0 914.7 L1055.0 914.8 L1056.0 914.9 L1057.0 914.8 L1058.0 914.8 L1059.0 914.8 L1060.0 914.7 L1061.0 914.7 L1062.0 914.7 L1063.0 914.6 L1064.0 914.6 L1065.0 914.6 L1066.0 914.7 L1067.0 914.7 L1068.0 914.7 L1069.0 914.6 L1070.0 914.5 L1071.0 914.5 L1072.0 914.5 L1073.0 914.5 L1074.0 914.6 L1075.0 914.6 L1076.0 914.6 L1077.0 914.6 L1078.0 914.6 L1079.0 914.6 L1080.0 914.6 L1081.0 914.7 L1082.0 914.8 L1083.0 914.8 L1084.0 914.8 L1085.0 914.9 L1086.0 914.8 L1087.0 914.7 L1088.0 914.5 L1089.0 914.3 L1090.0 914.1 L1091.0 914.1 L1092.0 914.2 L1093.0 914.5 L1094.0 914.4 L1095.0 914.0 L1096.0 913.5 L1097.0 913.4 L1098.0 913.6 L1099.0 913.9 L1100.0 913.9 L1101.0 913.8 L1102.0 913.5 L1103.0 913.5 L1104.0 913.7 L1105.0 913.9 L1106.0 914.1 L1107.0 914.3 L1108.0 914.4 L1109.0 914.4 L1110.0 914.3 L1111.0 914.1 L1112.0 914.0 L1113.0 914.0 L1114.0 914.3 L1115.0 914.7 L1116.0 914.8 L1117.0 914.4 L1118.0 913.7 L1119.0 913.2 L1120.0 913.1 L1121.0 913.2 L1122.0 913.3 L1123.0 913.4 L1124.0 913.6 L1125.0 913.9 L1126.0 914.3 L1127.0 914.6 L1128.0 914.6 L1129.0 914.5 L1130.0 914.2 L1131.0 913.8 L1132.0 913.6 L1133.0 913.6 L1134.0 913.9 L1135.0 914.3 L1136.0 914.7 L1137.0 914.9 L1138.0 914.8 L1139.0 914.6 L1140.0 914.4 L1141.0 914.3 L1142.0 914.4 L1143.0 914.6 L1144.0 914.8 L1145.0 915.0 L1146.0 915.0 L1147.0 914.8 L1148.0 914.6 L1149.0 914.4 L1150.0 914.4 L1151.0 914.3 L1152.0 914.0 L1153.0 913.8 L1154.0 913.8 L1155.0 913.9 L1156.0 914.3 L1157.0 914.5 L1158.0 914.5 L1159.0 914.3 L1160.0 914.1 L1161.0 914.0 L1162.0 913.9 L1163.0 913.7 L1164.0 913.6 L1165.0 913.7 L1166.0 913.7 L1167.0 913.7 L1168.0 913.7 L1169.0 913.8 L1170.0 914.1 L1171.0 914.4 L1172.0 914.6 L1173.0 914.6 L1174.0 914.6 L1175.0 914.5 L1176.0 914.5 L1177.0 914.2 L1178.0 913.8 L1179.0 913.4 L1180.0 913.4 L1181.0 913.7 L1182.0 914.1 L1183.0 914.4 L1184.0 914.5 L1185.0 914.5 L1186.0 914.7 L1187.0 914.9 L1188.0 914.9 L1189.0 914.7 L1190.0 914.7 L1191.0 914.7 L1192.0 914.6 L1193.0 914.5 L1194.0 914.5 L1195.0 914.6 L1196.0 914.6 L1197.0 914.4 L1198.0 914.3 L1199.0 914.3 L1200.0 914.3 L1201.0 914.2 L1202.0 914.3 L1203.0 914.4 L1204.0 914.6 L1205.0 914.8 L1206.0 914.7 L1207.0 914.3 L1208.0 913.9 L1209.0 913.7 L1210.0 913.7 L1211.0 913.8 L1212.0 913.8 L1213.0 913.8 L1214.0 913.7 L1215.0 913.5 L1216.0 913.4 L1217.0 913.4 L1218.0 913.4 L1219.0 913.5 L1220.0 913.5 L1221.0 913.4 L1222.0 913.3 L1223.0 913.2 L1224.0 913.1 L1225.0 913.1 L1226.0 913.4 L1227.0 913.6 L1228.0 913.7 L1229.0 913.6 L1230.0 913.5 L1231.0 913.4 L1232.0 913.5 L1233.0 913.6 L1234.0 913.9 L1235.0 914.0 L1236.0 914.1 L1237.0 914.1 L1238.0 914.1 L1239.0 914.1 L1240.0 914.0 L1241.0 913.9 L1242.0 913.9 L1243.0 914.1 L1244.0 914.2 L1245.0 914.4 L1246.0 914.5 L1247.0 914.3 L1248.0 913.9 L1249.0 913.7 L1250.0 913.6 L1251.0 913.7 L1252.0 913.8 L1253.0 913.7 L1254.0 913.6 L1255.0 913.6 L1256.0 913.8 L1257.0 914.1 L1258.0 914.2 L1259.0 914.1 L1260.0 914.0 L1261.0 914.1 L1262.0 914.5 L1263.0 914.9 L1264.0 915.1 L1265.0 915.1 L1266.0 914.8 L1267.0 914.4 L1268.0 914.3 L1269.0 914.4 L1270.0 914.5 L1271.0 914.3 L1272.0 914.0 L1273.0 913.7 L1274.0 913.7 L1275.0 913.8 L1276.0 913.9 L1277.0 913.9 L1278.0 913.7 L1279.0 913.6 L1280.0 913.5 L1281.0 913.5 L1282.0 913.6 L1283.0 913.6 L1284.0 913.5 L1285.0 913.4 L1286.0 913.4 L1287.0 913.4 L1288.0 913.2 L1289.0 913.1 L1290.0 913.1 L1291.0 912.9 L1292.0 912.7 L1293.0 912.5 L1294.0 912.4 L1295.0 912.3 L1296.0 912.3 L1297.0 912.5 L1298.0 912.7 L1299.0 912.6 L1300.0 912.5 L1301.0 912.3 L1302.0 912.2 L1303.0 912.3 L1304.0 912.6 L1305.0 912.9 L1306.0 913.0 L1307.0 912.9 L1308.0 912.8 L1309.0 912.8 L1310.0 913.1 L1311.0 913.4 L1312.0 913.4 L1313.0 913.4 L1314.0 913.5 L1315.0 913.7 L1316.0 913.6 L1317.0 913.3 L1318.0 913.1 L1319.0 913.1 L1320.0 913.1 L1321.0 913.3 L1322.0 913.5 L1323.0 913.8 L1324.0 914.2 L1325.0 914.4 L1326.0 914.3 L1327.0 914.0 L1328.0 913.6 L1329.0 913.3 L1330.0 913.0 L1331.0 912.8 L1332.0 912.9 L1333.0 913.2 L1334.0 913.7 L1335.0 913.9 L1336.0 913.7 L1337.0 913.4 L1338.0 913.2 L1339.0 913.0 L1340.0 913.0 L1341.0 913.1 L1342.0 913.1 L1343.0 913.2 L1344.0 913.4 L1345.0 913.4 L1346.0 913.1 L1347.0 912.8 L1348.0 912.6 L1349.0 912.7 L1350.0 913.0 L1351.0 913.2 L1352.0 913.4 L1353.0 913.5 L1354.0 913.4 L1355.0 913.1 L1356.0 912.8 L1357.0 912.7 L1358.0 913.0 L1359.0 913.3 L1360.0 913.3 L1361.0 913.1 L1362.0 912.7 L1363.0 912.4 L1364.0 912.4 L1365.0 912.6 L1366.0 913.0 L1367.0 913.3 L1368.0 913.6 L1369.0 913.7 L1370.0 913.6 L1371.0 913.4 L1372.0 913.1 L1373.0 912.7 L1374.0 912.7 L1375.0 912.9 L1376.0 913.3 L1377.0 913.5 L1378.0 913.3 L1379.0 912.8 L1380.0 912.3 L1381.0 912.1 L1382.0 911.9 L1383.0 911.9 L1384.0 912.0 L1385.0 912.2 L1386.0 912.3 L1387.0 912.2 L1388.0 912.0 L1389.0 911.9 L1390.0 912.1 L1391.0 912.4 L1392.0 912.6 L1393.0 912.7 L1394.0 912.7 L1395.0 912.8 L1396.0 912.7 L1397.0 912.5 L1398.0 912.3 L1399.0 912.0 L1400.0 911.8 L1401.0 911.5 L1402.0 911.1 L1403.0 911.0 L1404.0 911.0 L1405.0 911.0 L1406.0 910.7 L1407.0 910.5 L1408.0 910.5 L1409.0 910.9 L1410.0 911.4 L1411.0 911.8 L1412.0 911.7 L1413.0 911.5 L1414.0 911.4 L1415.0 911.3 L1416.0 911.3 L1417.0 911.1 L1418.0 910.8 L1419.0 910.5 L1420.0 910.3 L1421.0 910.2 L1422.0 910.1 L1423.0 909.9 L1424.0 909.7 L1425.0 909.5 L1426.0 909.4 L1427.0 909.4 L1428.0 909.4 L1429.0 909.3 L1430.0 909.1 L1431.0 908.9 L1432.0 908.7 L1433.0 908.4 L1434.0 908.3 L1435.0 908.1 L1436.0 908.0 L1437.0 907.8 L1438.0 907.7 L1439.0 907.5 L1440.0 907.4 L1441.0 907.2 L1442.0 907.1 L1443.0 907.0 L1444.0 906.9 L1445.0 906.8 L1446.0 906.6 L1447.0 906.5 L1448.0 906.3 L1449.0 906.2 L1450.0 906.1 L1451.0 905.9 L1452.0 905.6 L1453.0 905.3 L1454.0 905.0 L1455.0 904.8 L1456.0 904.5 L1457.0 904.3 L1458.0 904.1 L1459.0 903.8 L1460.0 903.4 L1461.0 903.1 L1462.0 902.8 L1463.0 902.5 L1464.0 902.2 L1465.0 901.8 L1466.0 901.5 L1467.0 901.1 L1468.0 900.7 L1469.0 900.4 L1470.0 900.0 L1471.0 899.7 L1472.0 899.3 L1473.0 899.0 L1474.0 898.6 L1475.0 898.3 L1476.0 897.9 L1477.0 897.5 L1478.0 897.1 L1479.0 896.6 L1480.0 896.1 L1481.0 895.5 L1482.0 894.9 L1483.0 894.2 L1484.0 893.4 L1485.0 892.5 L1486.0 891.5 L1487.0 890.4 L1488.0 889.3 L1489.0 888.0 L1490.0 886.7 L1491.0 885.3 L1492.0 884.0 L1493.0 882.6 L1494.0 881.1 L1495.0 879.7 L1496.0 878.3 L1497.0 877.0 L1498.0 875.6 L1499.0 874.2 L1500.0 872.9 L1501.0 871.5 L1502.0 870.1 L1503.0 868.7 L1504.0 867.3 L1505.0 865.9 L1506.0 864.5 L1507.0 863.2 L1508.0 862.0 L1509.0 860.8 L1510.0 859.7 L1511.0 858.6 L1512.0 857.4 L1513.0 856.3 L1514.0 855.2 L1515.0 854.1 L1516.0 853.0 L1517.0 852.0 L1518.0 851.0 L1519.0 850.1 L1520.0 849.3 L1521.0 848.6 L1522.0 848.0 L1523.0 847.5 L1524.0 847.2 L1525.0 846.9 L1526.0 846.9 L1527.0 847.0 L1528.0 847.3 L1529.0 847.7 L1530.0 848.2 L1531.0 848.8 L1532.0 849.4 L1533.0 850.1 L1534.0 850.9 L1535.0 851.7 L1536.0 852.5 L1537.0 853.3 L1538.0 854.1 L1539.0 855.0 L1540.0 855.9 L1541.0 856.9 L1542.0 858.0 L1543.0 859.2 L1544.0 860.4 L1545.0 861.6 L1546.0 862.9 L1547.0 864.1 L1548.0 865.4 L1549.0 866.6 L1550.0 867.9 L1551.0 869.2 L1552.0 870.5 L1553.0 871.8 L1554.0 873.1 L1555.0 874.4 L1556.0 875.6 L1557.0 876.6 L1558.0 877.6 L1559.0 878.4 L1560.0 879.2 L1561.0 879.9 L1562.0 880.6 L1563.0 881.2 L1564.0 881.9 L1565.0 882.5 L1566.0 883.1 L1567.0 883.7 L1568.0 884.2 L1569.0 884.7 L1570.0 885.2 L1571.0 885.7 L1572.0 886.1 L1573.0 886.4 L1574.0 886.8 L1575.0 887.0 L1576.0 887.2 L1577.0 887.4 L1578.0 887.4 L1579.0 887.2 L1580.0 887.2 L1581.0 887.1 L1582.0 887.1 L1583.0 886.9 L1584.0 886.8 L1585.0 886.6 L1586.0 886.4 L1587.0 886.2 L1588.0 885.9 L1589.0 885.5 L1590.0 885.2 L1591.0 884.8 L1592.0 884.4 L1593.0 884.0 L1594.0 883.6 L1595.0 883.1 L1596.0 882.6 L1597.0 882.1 L1598.0 881.4 L1599.0 880.6 L1600.0 879.7 L1601.0 878.6 L1602.0 877.4 L1603.0 876.1 L1604.0 874.7 L1605.0 873.2 L1606.0 871.7 L1607.0 870.2 L1608.0 868.6 L1609.0 867.1 L1610.0 865.5 L1611.0 863.9 L1612.0 862.3 L1613.0 860.6 L1614.0 858.9 L1615.0 857.2 L1616.0 855.5 L1617.0 854.0 L1618.0 852.5 L1619.0 851.2 L1620.0 850.1 L1621.0 848.9 L1622.0 847.9 L1623.0 846.9 L1624.0 846.0 L1625.0 845.2 L1626.0 844.6 L1627.0 844.1 L1628.0 843.9 L1629.0 844.0 L1630.0 844.2 L1631.0 844.5 L1632.0 845.0 L1633.0 845.6 L1634.0 846.3 L1635.0 847.1 L1636.0 848.0 L1637.0 848.9 L1638.0 849.9 L1639.0 850.9 L1640.0 851.9 L1641.0 853.0 L1642.0 854.1 L1643.0 855.4 L1644.0 856.8 L1645.0 858.2 L1646.0 859.8 L1647.0 861.4 L1648.0 863.0 L1649.0 864.7 L1650.0 866.3 L1651.0 867.9 L1652.0 869.4 L1653.0 871.0 L1654.0 872.5 L1655.0 874.1 L1656.0 875.7 L1657.0 877.2 L1658.0 878.7 L1659.0 880.1 L1660.0 881.5 L1661.0 882.7 L1662.0 883.8 L1663.0 884.8 L1664.0 885.6 L1665.0 886.4 L1666.0 887.2 L1667.0 887.9 L1668.0 888.6 L1669.0 889.2 L1670.0 889.8 L1671.0 890.2 L1672.0 890.6 L1673.0 890.9 L1674.0 891.2 L1675.0 891.4 L1676.0 891.5 L1677.0 891.6 L1678.0 891.7 L1679.0 891.7 L1680.0 891.8 L1681.0 891.9 L1682.0 892.0 L1683.0 892.1 L1684.0 892.2 L1685.0 892.5 L1686.0 892.9 L1687.0 893.6 L1688.0 894.5 L1689.0 895.5 L1690.0 896.5 L1691.0 897.4 L1692.0 898.2 L1693.0 898.9 L1694.0 899.5 L1695.0 900.0 L1696.0 900.5 L1697.0 901.0 L1698.0 901.5 L1699.0 901.9 L1700.0 902.3 L1701.0 902.7 L1702.0 903.1 L1703.0 903.5 L1704.0 903.9 L1705.0 904.2 L1706.0 904.5 L1707.0 904.9 L1708.0 905.2 L1709.0 905.5 L1710.0 905.7 L1711.0 905.9 L1712.0 906.1 L1713.0 906.4 L1714.0 906.7 L1715.0 906.9 L1716.0 907.2 L1717.0 907.5 L1718.0 907.7 L1719.0 907.9 L1720.0 908.2 L1721.0 908.4 L1722.0 908.7 L1723.0 908.9 L1724.0 909.0 L1725.0 909.2 L1726.0 909.4 L1727.0 909.5 L1728.0 909.6 L1729.0 909.6 L1730.0 909.5 L1731.0 909.4 L1732.0 909.4 L1733.0 909.4 L1734.0 909.4 L1735.0 909.5 L1736.0 909.5 L1737.0 909.7 L1738.0 909.9 L1739.0 910.1 L1740.0 910.1 L1741.0 910.1 L1742.0 910.1 L1743.0 909.9 L1744.0 909.5 L1745.0 909.2 L1746.0 909.1 L1747.0 909.1 L1748.0 909.1 L1749.0 909.1 L1750.0 909.0 L1751.0 908.9 L1752.0 908.7 L1753.0 908.7 L1754.0 908.8 L1755.0 908.8 L1756.0 908.8 L1757.0 908.7 L1758.0 908.7 L1759.0 908.8 L1760.0 909.0 L1761.0 909.1 L1762.0 909.2 L1763.0 909.3 L1764.0 909.2 L1765.0 908.9 L1766.0 908.7 L1767.0 908.5 L1768.0 908.3 L1769.0 908.1 L1770.0 908.1 L1771.0 908.3 L1772.0 908.6 L1773.0 908.8 L1774.0 908.8 L1775.0 908.7 L1776.0 908.6 L1777.0 908.4 L1778.0 908.1 L1779.0 908.1 L1780.0 908.3 L1781.0 908.4 L1782.0 908.3 L1783.0 908.2 L1784.0 908.4 L1785.0 908.8 L1786.0 909.2 L1787.0 909.4 L1788.0 909.4 L1789.0 909.4 L1790.0 909.4 L1791.0 909.4 L1792.0 909.3 L1793.0 909.3 L1794.0 909.3 L1795.0 909.2 L1796.0 908.9 L1797.0 908.8 L1798.0 908.7 L1799.0 908.7 L1800.0 908.7 L1801.0 908.7 L1802.0 908.7 L1803.0 908.6 L1804.0 908.4 L1805.0 908.3 L1806.0 908.2 L1807.0 908.3 L1808.0 908.4 L1809.0 908.6 L1810.0 908.4 L1811.0 908.1 L1812.0 907.8 L1813.0 907.7 L1814.0 907.7 L1815.0 907.6 L1816.0 907.5 L1817.0 907.4 L1818.0 907.3 L1819.0 907.2 L1820.0 907.3 L1821.0 907.5 L1822.0 907.5 L1823.0 907.3 L1824.0 906.9 L1825.0 906.6 L1826.0 906.3 L1827.0 906.2 L1828.0 906.2 L1829.0 906.3 L1830.0 906.4 L1831.0 906.5 L1832.0 906.4 L1833.0 906.1 L1834.0 905.8 L1835.0 905.4 L1836.0 905.1 L1837.0 904.8 L1838.0 904.5 L1839.0 904.2 L1840.0 903.8 L1841.0 903.3 L1842.0 902.9 L1843.0 902.4 L1844.0 901.9 L1845.0 901.4 L1846.0 900.9 L1847.0 900.4 L1848.0 899.9 L1849.0 899.3 L1850.0 898.6 L1851.0 898.0 L1852.0 897.4 L1853.0 896.8 L1854.0 896.2 L1855.0 895.6 L1856.0 895.0 L1857.0 894.6 L1858.0 894.1 L1859.0 893.7 L1860.0 893.4 L1861.0 893.1 L1862.0 892.8 L1863.0 892.5 L1864.0 892.2 L1865.0 891.9 L1866.0 891.6 L1867.0 891.2 L1868.0 890.8 L1869.0 890.3 L1870.0 889.8 L1871.0 889.0 L1872.0 888.2 L1873.0 887.1 L1874.0 886.0 L1875.0 884.7 L1876.0 883.4 L1877.0 882.0 L1878.0 880.7 L1879.0 879.4 L1880.0 878.2 L1881.0 877.1 L1882.0 876.0 L1883.0 875.1 L1884.0 874.2 L1885.0 873.3 L1886.0 872.4 L1887.0 871.5 L1888.0 870.6 L1889.0 869.8 L1890.0 868.9 L1891.0 868.1 L1892.0 867.4 L1893.0 866.7 L1894.0 866.1 L1895.0 865.6 L1896.0 865.1 L1897.0 864.8 L1898.0 864.5 L1899.0 864.3 L1900.0 864.2 L1901.0 864.3 L1902.0 864.5 L1903.0 864.8 L1904.0 865.2 L1905.0 865.6 L1906.0 866.1 L1907.0 866.6 L1908.0 867.2 L1909.0 867.8 L1910.0 868.4 L1911.0 869.0 L1912.0 869.7 L1913.0 870.3 L1914.0 871.0 L1915.0 871.7 L1916.0 872.4 L1917.0 873.2 L1918.0 874.0 L1919.0 874.9 L1920.0 875.8 L1921.0 876.7 L1922.0 877.7 L1923.0 878.8 L1924.0 879.8 L1925.0 880.8 L1926.0 881.9 L1927.0 882.9 L1928.0 883.9 L1929.0 884.8 L1930.0 885.8 L1931.0 886.7 L1932.0 887.5 L1933.0 888.4 L1934.0 889.2 L1935.0 890.0 L1936.0 890.9 L1937.0 891.7 L1938.0 892.5 L1939.0 893.3 L1940.0 894.1 L1941.0 894.8 L1942.0 895.6 L1943.0 896.3 L1944.0 897.0 L1945.0 897.6 L1946.0 898.2 L1947.0 898.8 L1948.0 899.4 L1949.0 899.9 L1950.0 900.4 L1951.0 900.9 L1952.0 901.4 L1953.0 901.9 L1954.0 902.4 L1955.0 902.9 L1956.0 903.4 L1957.0 903.9 L1958.0 904.3 L1959.0 904.7 L1960.0 905.2 L1961.0 905.6 L1962.0 906.0 L1963.0 906.4 L1964.0 906.7 L1965.0 907.1 L1966.0 907.5 L1967.0 907.8 L1968.0 908.1 L1969.0 908.4 L1970.0 908.7 L1971.0 909.0 L1972.0 909.2 L1973.0 909.3 L1974.0 909.4 L1975.0 909.5 L1976.0 909.6 L1977.0 909.8 L1978.0 910.1 L1979.0 910.3 L1980.0 910.4 L1981.0 910.5 L1982.0 910.6 L1983.0 910.6 L1984.0 910.6 L1985.0 910.5 L1986.0 910.6 L1987.0 910.7 L1988.0 910.9 L1989.0 910.9 L1990.0 910.8 L1991.0 910.7 L1992.0 910.8 L1993.0 911.0 L1994.0 911.5 L1995.0 912.0 L1996.0 912.3 L1997.0 912.3 L1998.0 912.1 L1999.0 912.0 L2000.0 912.2 L2001.0 912.5 L2002.0 912.8 L2003.0 912.8 L2004.0 912.6 L2005.0 912.4 L2006.0 912.4 L2007.0 912.6 L2008.0 913.0 L2009.0 913.2 L2010.0 913.3 L2011.0 913.3 L2012.0 913.5 L2013.0 913.8 L2014.0 914.1 L2015.0 914.0 L2016.0 913.7 L2017.0 913.7 L2018.0 914.0 L2019.0 914.4 L2020.0 914.6 L2021.0 914.5 L2022.0 914.3 L2023.0 914.0 L2024.0 913.8 L2025.0 913.6 L2026.0 913.4 L2027.0 913.3 L2028.0 913.3 L2029.0 913.5 L2030.0 913.5 L2031.0 913.2 L2032.0 913.0 L2033.0 913.0 L2034.0 913.2 L2035.0 913.4 L2036.0 913.6 L2037.0 913.7 L2038.0 913.8 L2039.0 914.0 L2040.0 914.3 L2041.0 914.8 L2042.0 915.2 L2043.0 915.3 L2044.0 915.4 L2045.0 915.4 L2046.0 915.3 L2047.0 915.1 L2048.0 914.9 L2049.0 914.9 L2050.0 914.9 L2051.0 915.0 L2052.0 915.0 L2053.0 914.8 L2054.0 914.7 L2055.0 914.7 L2056.0 914.8 L2057.0 914.8 L2058.0 914.6 L2059.0 914.5 L2060.0 914.7 L2061.0 914.9 L2062.0 914.9 L2063.0 914.6 L2064.0 914.1 L2065.0 913.9 L2066.0 914.0 L2067.0 914.2 L2068.0 914.2 L2069.0 914.0 L2070.0 914.1 L2071.0 914.2 L2072.0 914.4 L2073.0 914.4 L2074.0 914.4 L2075.0 914.3 L2076.0 914.1 L2077.0 914.1 L2078.0 914.3 L2079.0 914.8 L2080.0 915.1 L2081.0 915.2 L2082.0 915.1 L2083.0 914.9 L2084.0 914.7 L2085.0 914.8 L2086.0 914.9 L2087.0 914.9 L2088.0 914.7 L2089.0 914.5 L2090.0 914.6 L2091.0 914.8 L2092.0 915.1 L2093.0 915.3 L2094.0 915.4 L2095.0 915.5 L2096.0 915.5 L2097.0 915.5 L2098.0 915.6 L2099.0 915.7 L2100.0 915.6 L2101.0 915.2 L2102.0 914.9 L2103.0 914.6 L2104.0 914.5 L2105.0 914.6 L2106.0 914.8 L2107.0 915.0 L2108.0 915.1 L2109.0 915.1 L2110.0 915.1 L2111.0 915.0 L2112.0 914.9 L2113.0 914.7 L2114.0 914.6 L2115.0 914.4 L2116.0 914.3 L2117.0 914.1 L2118.0 914.0 L2119.0 914.0 L2120.0 914.1 L2121.0 914.2 L2122.0 914.1 L2123.0 913.9 L2124.0 913.5 L2125.0 913.2 L2126.0 912.9 L2127.0 912.7 L2128.0 912.6 L2129.0 912.5 L2130.0 912.5 L2131.0 912.4 L2132.0 912.3 L2133.0 912.3 L2134.0 912.4 L2135.0 912.5 L2136.0 912.5 L2137.0 912.1 L2138.0 911.7 L2139.0 911.4 L2140.0 911.1 L2141.0 910.7 L2142.0 910.3 L2143.0 910.1 L2144.0 910.1 L2145.0 910.1 L2146.0 910.0 L2147.0 909.9 L2148.0 909.7 L2149.0 909.5 L2150.0 909.3 L2151.0 909.1 L2152.0 909.0 L2153.0 908.9 L2154.0 908.7 L2155.0 908.5 L2156.0 908.4 L2157.0 908.3 L2158.0 908.0 L2159.0 907.8 L2160.0 907.4 L2161.0 907.0 L2162.0 906.5 L2163.0 906.0 L2164.0 905.3 L2165.0 904.5 L2166.0 903.5 L2167.0 902.3 L2168.0 900.7 L2169.0 898.8 L2170.0 896.4 L2171.0 893.4 L2172.0 889.7 L2173.0 885.2 L2174.0 879.8 L2175.0 873.5 L2176.0 866.2 L2177.0 858.0 L2178.0 849.0 L2179.0 839.3 L2180.0 829.4 L2181.0 819.6 L2182.0 810.6 L2183.0 803.1 L2184.0 797.9 L2185.0 795.6 L2186.0 796.6 L2187.0 800.7 L2188.0 807.4 L2189.0 815.9 L2190.0 825.5 L2191.0 835.5 L2192.0 845.3 L2193.0 854.6 L2194.0 863.2 L2195.0 870.8 L2196.0 877.6 L2197.0 883.3 L2198.0 888.2 L2199.0 892.2 L2200.0 895.5 L2201.0 898.1 L2202.0 900.2 L2203.0 901.9 L2204.0 903.3 L2205.0 904.4 L2206.0 905.3 L2207.0 906.0 L2208.0 906.7 L2209.0 907.2 L2210.0 907.6 L2211.0 908.0 L2212.0 908.3 L2213.0 908.7 L2214.0 909.0 L2215.0 909.2 L2216.0 909.5 L2217.0 909.7 L2218.0 909.9 L2219.0 910.1 L2220.0 910.3 L2221.0 910.5 L2222.0 910.6 L2223.0 910.7 L2224.0 910.9 L2225.0 911.0 L2226.0 911.2 L2227.0 911.4 L2228.0 911.5 L2229.0 911.6 L2230.0 911.7 L2231.0 911.8 L2232.0 911.9 L2233.0 912.0 L2234.0 912.2 L2235.0 912.4 L2236.0 912.5 L2237.0 912.6 L2238.0 912.7 L2239.0 912.7 L2240.0 912.7 L2241.0 912.8" stroke="#ff00ff"/>
<path d="M212.0 1090.9 L213.0 1091.1 L214.0 1091.3 L215.0 1091.3 L216.0 1091.0 L217.0 1090.7 L218.0 1090.6 L219.0 1090.8 L220.0 1090.9 L221.0 1090.9 L222.0 1091.0 L223.0 1091.2 L224.0 1091.3 L225.0 1091.2 L226.0 1091.0 L227.0 1091.1 L228.0 1091.5 L229.0 1091.6 L230.0 1091.3 L231.0 1090.6 L232.0 1090.1 L233.0 1089.9 L234.0 1090.2 L235.0 1090.8 L236.0 1091.3 L237.0 1091.4 L238.0 1091.2 L239.0 1090.9 L240.0 1090.8 L241.0 1090.7 L242.0 1090.6 L243.0 1090.4 L244.0 1090.4 L245.0 1090.6 L246.0 1090.9 L247.0 1091.1 L248.0 1091.1 L249.0 1091.0 L250.0 1090.9 L251.0 1090.8 L252.0 1090.7 L253.0 1090.6 L254.0 1090.5 L255.0 1090.4 L256.0 1090.2 L257.0 1090.0 L258.0 1089.9 L259.0 1089.8 L260.0 1089.8 L261.0 1089.8 L262.0 1090.1 L263.0 1090.5 L264.0 1090.9 L265.0 1091.1 L266.0 1091.2 L267.0 1091.1 L268.0 1090.8 L269.0 1090.7 L270.0 1090.9 L271.0 1091.1 L272.0 1091.0 L273.0 1090.7 L274.0 1090.3 L275.0 1090.0 L276.0 1089.9 L277.0 1089.9 L278.0 1090.1 L279.0 1090.2 L280.0 1090.2 L281.0 1090.1 L282.0 1089.9 L283.0 1089.8 L284.0 1089.9 L285.0 1090.1 L286.0 1090.1 L287.0 1089.9 L288.0 1089.7 L289.0 1089.5 L290.0 1089.3 L291.0 1089.3 L292.0 1089.6 L293.0 1090.0 L294.0 1090.2 L295.0 1090.2 L296.0 1090.4 L297.0 1090.6 L298.0 1090.6 L299.0 1090.6 L300.0 1090.4 L301.0 1090.4 L302.0 1090.4 L303.0 1090.5 L304.0 1090.7 L305.0 1090.8 L306.0 1090.7 L307.0 1090.6 L308.0 1090.5 L309.0 1090.4 L310.0 1090.2 L311.0 1090.2 L312.0 1090.4 L313.0 1090.4 L314.0 1090.4 L315.0 1090.3 L316.0 1090.4 L317.0 1090.7 L318.0 1090.9 L319.0 1090.9 L320.0 1090.5 L321.0 1089.9 L322.0 1089.4 L323.0 1089.2 L324.0 1089.2 L325.0 1089.3 L326.0 1089.5 L327.0 1089.7 L328.0 1090.0 L329.0 1090.3 L330.0 1090.4 L331.0 1090.3 L332.0 1090.2 L333.0 1090.1 L334.0 1090.1 L335.0 1090.1 L336.0 1090.1 L337.0 1090.2 L338.0 1090.3 L339.0 1090.5 L340.0 1090.5 L341.0 1090.3 L342.0 1090.1 L343.0 1090.2 L344.0 1090.4 L345.0 1090.2 L346.0 1089.8 L347.0 1089.4 L348.0 1089.0 L349.0 1089.0 L350.0 1089.3 L351.0 1089.6 L352.0 1089.6 L353.0 1089.6 L354.0 1089.5 L355.0 1089.4 L356.0 1089.3 L357.0 1089.2 L358.0 1089.1 L359.0 1089.2 L360.0 1089.3 L361.0 1089.7 L362.0 1090.0 L363.0 1090.1 L364.0 1089.9 L365.0 1089.7 L366.0 1089.5 L367.0 1089.5 L368.0 1089.8 L369.0 1090.2 L370.0 1090.7 L371.0 1090.8 L372.0 1090.7 L373.0 1090.5 L374.0 1090.4 L375.0 1090.5 L376.0 1090.5 L377.0 1090.4 L378.0 1090.0 L379.0 1089.4 L380.0 1089.1 L381.0 1089.0 L382.0 1089.2 L383.0 1089.6 L384.0 1090.0 L385.0 1090.2 L386.0 1090.2 L387.0 1090.1 L388.0 1090.1 L389.0 1090.1 L390.0 1090.3 L391.0 1090.4 L392.0 1090.5 L393.0 1090.4 L394.0 1090.0 L395.0 1089.7 L396.0 1089.8 L397.0 1090.1 L398.0 1090.3 L399.0 1090.4 L400.0 1090.4 L401.0 1090.4 L402.0 1090.3 L403.0 1090.1 L404.0 1089.9 L405.0 1089.9 L406.0 1090.1 L407.0 1090.3 L408.0 1090.4 L409.0 1090.4 L410.0 1090.3 L411.0 1090.0 L412.0 1089.4 L413.0 1088.8 L414.0 1088.6 L415.0 1088.9 L416.0 1089.3 L417.0 1089.4 L418.0 1089.3 L419.0 1089.1 L420.0 1089.0 L421.0 1089.2 L422.0 1089.3 L423.0 1089.4 L424.0 1089.3 L425.0 1089.1 L426.0 1088.8 L427.0 1088.7 L428.0 1088.7 L429.0 1088.7 L430.0 1088.7 L431.0 1088.8 L432.0 1088.8 L433.0 1088.6 L434.0 1088.6 L435.0 1088.7 L436.0 1088.8 L437.0 1088.9 L438.0 1088.8 L439.0 1088.8 L440.0 1088.6 L441.0 1088.5 L442.0 1088.3 L443.0 1088.1 L444.0 1088.2 L445.0 1088.5 L446.0 1088.7 L447.0 1088.6 L448.0 1088.2 L449.0 1087.9 L450.0 1087.6 L451.0 1087.4 L452.0 1087.3 L453.0 1087.5 L454.0 1087.6 L455.0 1087.8 L456.0 1087.9 L457.0 1088.1 L458.0 1088.2 L459.0 1088.1 L460.0 1087.9 L461.0 1087.7 L462.0 1087.7 L463.0 1087.9 L464.0 1088.1 L465.0 1088.3 L466.0 1088.3 L467.0 1088.2 L468.0 1088.0 L469.0 1087.8 L470.0 1087.8 L471.0 1087.8 L472.0 1087.7 L473.0 1087.6 L474.0 1087.5 L475.0 1087.4 L476.0 1087.3 L477.0 1087.3 L478.0 1087.1 L479.0 1086.8 L480.0 1086.7 L481.0 1086.7 L482.0 1086.9 L483.0 1087.0 L484.0 1086.9 L485.0 1086.7 L486.0 1086.6 L487.0 1086.5 L488.0 1086.4 L489.0 1086.4 L490.0 1086.6 L491.0 1086.7 L492.0 1086.8 L493.0 1086.7 L494.0 1086.3 L495.0 1085.8 L496.0 1085.4 L497.0 1085.1 L498.0 1084.9 L499.0 1084.8 L500.0 1084.6 L501.0 1084.4 L502.0 1084.1 L503.0 1083.9 L504.0 1083.8 L505.0 1083.7 L506.0 1083.7 L507.0 1083.7 L508.0 1083.7 L509.0 1083.7 L510.0 1083.8 L511.0 1083.9 L512.0 1084.0 L513.0 1084.1 L514.0 1084.1 L515.0 1084.3 L516.0 1084.7 L517.0 1085.2 L518.0 1085.7 L519.0 1086.0 L520.0 1086.2 L521.0 1086.2 L522.0 1086.0 L523.0 1085.7 L524.0 1085.5 L525.0 1085.4 L526.0 1085.4 L527.0 1085.4 L528.0 1085.3 L529.0 1085.0 L530.0 1084.7 L531.0 1084.4 L532.0 1084.3 L533.0 1084.3 L534.0 1084.3 L535.0 1084.2 L536.0 1084.0 L537.0 1083.9 L538.0 1083.8 L539.0 1083.6 L540.0 1083.3 L541.0 1083.0 L542.0 1082.8 L543.0 1082.5 L544.0 1082.3 L545.0 1082.2 L546.0 1081.9 L547.0 1081.6 L548.0 1081.3 L549.0 1080.9 L550.0 1080.5 L551.0 1080.1 L552.0 1079.7 L553.0 1079.2 L554.0 1078.8 L555.0 1078.4 L556.0 1078.0 L557.0 1077.6 L558.0 1077.3 L559.0 1076.9 L560.0 1076.6 L561.0 1076.4 L562.0 1076.2 L563.0 1076.0 L564.0 1075.9 L565.0 1075.8 L566.0 1075.6 L567.0 1075.2 L568.0 1074.9 L569.0 1074.5 L570.0 1074.0 L571.0 1073.4 L572.0 1072.6 L573.0 1071.8 L574.0 1070.8 L575.0 1069.9 L576.0 1068.9 L577.0 1067.9 L578.0 1066.9 L579.0 1066.0 L580.0 1065.1 L581.0 1064.2 L582.0 1063.3 L583.0 1062.5 L584.0 1061.6 L585.0 1060.7 L586.0 1059.8 L587.0 1058.9 L588.0 1058.0 L589.0 1057.2 L590.0 1056.3 L591.0 1055.5 L592.0 1054.6 L593.0 1053.8 L594.0 1052.9 L595.0 1052.0 L596.0 1051.1 L597.0 1050.1 L598.0 1049.1 L599.0 1048.0 L600.0 1046.8 L601.0 1045.6 L602.0 1044.3 L603.0 1042.9 L604.0 1041.4 L605.0 1039.7 L606.0 1037.8 L607.0 1035.7 L608.0 1033.3 L609.0 1030.7 L610.0 1028.0 L611.0 1025.3 L612.0 1022.5 L613.0 1019.7 L614.0 1016.9 L615.0 1014.0 L616.0 1011.1 L617.0 1008.1 L618.0 1005.1 L619.0 1001.9 L620.0 998.7 L621.0 995.3 L622.0 991.9 L623.0 988.4 L624.0 984.9 L625.0 981.1 L626.0 977.3 L627.0 973.5 L628.0 969.6 L629.0 966.0 L630.0 962.5 L631.0 959.2 L632.0 956.0 L633.0 952.8 L634.0 949.7 L635.0 946.7 L636.0 943.8 L637.0 941.0 L638.0 938.5 L639.0 936.3 L640.0 934.5 L641.0 933.2 L642.0 932.4 L643.0 932.1 L644.0 932.5 L645.0 933.3 L646.0 934.6 L647.0 936.3 L648.0 938.5 L649.0 940.9 L650.0 943.6 L651.0 946.5 L652.0 949.5 L653.0 952.7 L654.0 955.9 L655.0 959.2 L656.0 962.8 L657.0 966.6 L658.0 970.8 L659.0 975.5 L660.0 980.8 L661.0 986.6 L662.0 992.7 L663.0 998.5 L664.0 1003.6 L665.0 1007.7 L666.0 1011.0 L667.0 1014.0 L668.0 1016.8 L669.0 1019.7 L670.0 1022.7 L671.0 1025.7 L672.0 1028.9 L673.0 1032.1 L674.0 1035.5 L675.0 1038.7 L676.0 1041.6 L677.0 1044.1 L678.0 1046.3 L679.0 1048.2 L680.0 1049.8 L681.0 1051.4 L682.0 1053.0 L683.0 1054.6 L684.0 1056.3 L685.0 1058.0 L686.0 1059.8 L687.0 1061.5 L688.0 1063.1 L689.0 1064.5 L690.0 1065.7 L691.0 1066.7 L692.0 1067.5 L693.0 1068.3 L694.0 1069.0 L695.0 1069.7 L696.0 1070.3 L697.0 1070.9 L698.0 1071.5 L699.0 1072.0 L700.0 1072.6 L701.0 1073.1 L702.0 1073.6 L703.0 1074.1 L704.0 1074.6 L705.0 1075.0 L706.0 1075.5 L707.0 1076.0 L708.0 1076.4 L709.0 1076.9 L710.0 1077.3 L711.0 1077.7 L712.0 1078.1 L713.0 1078.5 L714.0 1078.9 L715.0 1079.2 L716.0 1079.6 L717.0 1079.9 L718.0 1080.2 L719.0 1080.4 L720.0 1080.6 L721.0 1080.9 L722.0 1081.1 L723.0 1081.4 L724.0 1081.6 L725.0 1081.8 L726.0 1082.0 L727.0 1082.2 L728.0 1082.4 L729.0 1082.6 L730.0 1082.7 L731.0 1082.9 L732.0 1083.0 L733.0 1083.1 L734.0 1083.2 L735.0 1083.4 L736.0 1083.5 L737.0 1083.6 L738.0 1083.6 L739.0 1083.6 L740.0 1083.7 L741.0 1083.8 L742.0 1084.0 L743.0 1084.2 L744.0 1084.3 L745.0 1084.4 L746.0 1084.6 L747.0 1084.7 L748.0 1084.8 L749.0 1085.0 L750.0 1085.1 L751.0 1085.3 L752.0 1085.4 L753.0 1085.6 L754.0 1085.8 L755.0 1086.0 L756.0 1086.2 L757.0 1086.3 L758.0 1086.4 L759.0 1086.5 L760.0 1086.5 L761.0 1086.6 L762.0 1086.5 L763.0 1086.5 L764.0 1086.4 L765.0 1086.3 L766.0 1086.1 L767.0 1085.9 L768.0 1085.6 L769.0 1085.4 L770.0 1085.3 L771.0 1085.3 L772.0 1085.3 L773.0 1085.4 L774.0 1085.5 L775.0 1085.6 L776.0 1085.4 L777.0 1085.0 L778.0 1084.5 L779.0 1084.2 L780.0 1084.1 L781.0 1084.1 L782.0 1084.2 L783.0 1084.3 L784.0 1084.5 L785.0 1084.7 L786.0 1084.8 L787.0 1084.9 L788.0 1085.0 L789.0 1085.0 L790.0 1084.9 L791.0 1084.8 L792.0 1084.7 L793.0 1084.8 L794.0 1084.9 L795.0 1085.1 L796.0 1085.3 L797.0 1085.5 L798.0 1085.6 L799.0 1085.6 L800.0 1085.7 L801.0 1085.9 L802.0 1086.0 L803.0 1086.3 L804.0 1086.6 L805.0 1086.8 L806.0 1086.9 L807.0 1087.0 L808.0 1087.1 L809.0 1087.1 L810.0 1087.2 L811.0 1087.3 L812.0 1087.5 L813.0 1087.7 L814.0 1087.9 L815.0 1087.9 L816.0 1087.9 L817.0 1088.0 L818.0 1088.0 L819.0 1088.1 L820.0 1088.4 L821.0 1088.7 L822.0 1088.9 L823.0 1089.1 L824.0 1089.2 L825.0 1089.1 L826.0 1088.8 L827.0 1088.6 L828.0 1088.5 L829.0 1088.5 L830.0 1088.6 L831.0 1088.6 L832.0 1088.8 L833.0 1089.1 L834.0 1089.5 L835.0 1089.8 L836.0 1089.7 L837.0 1089.4 L838.0 1089.0 L839.0 1088.7 L840.0 1088.5 L841.0 1088.4 L842.0 1088.5 L843.0 1088.5 L844.0 1088.6 L845.0 1088.8 L846.0 1088.9 L847.0 1089.0 L848.0 1089.2 L849.0 1089.6 L850.0 1090.0 L851.0 1090.4 L852.0 1090.6 L853.0 1090.6 L854.0 1090.3 L855.0 1090.0 L856.0 1089.8 L857.0 1089.6 L858.0 1089.2 L859.0 1088.8 L860.0 1088.8 L861.0 1089.2 L862.0 1089.5 L863.0 1089.5 L864.0 1089.2 L865.0 1089.0 L866.0 1089.0 L867.0 1089.2 L868.0 1089.5 L869.0 1089.6 L870.0 1089.5 L871.0 1089.3 L872.0 1089.2 L873.0 1089.1 L874.0 1089.0 L875.0 1088.7 L876.0 1088.2 L877.0 1088.0 L878.0 1088.1 L879.0 1088.6 L880.0 1089.1 L881.0 1089.3 L882.0 1089.3 L883.0 1089.0 L884.0 1088.7 L885.0 1088.6 L886.0 1088.7 L887.0 1088.8 L888.0 1088.7 L889.0 1088.6 L890.0 1088.6 L891.0 1088.9 L892.0 1089.2 L893.0 1089.6 L894.0 1089.8 L895.0 1089.8 L896.0 1089.6 L897.0 1089.4 L898.0 1089.4 L899.0 1089.6 L900.0 1089.9 L901.0 1090.2 L902.0 1090.2 L903.0 1090.1 L904.0 1090.1 L905.0 1090.2 L906.0 1090.3 L907.0 1090.3 L908.0 1090.2 L909.0 1090.0 L910.0 1089.6 L911.0 1089.4 L912.0 1089.4 L913.0 1089.5 L914.0 1089.6 L915.0 1089.6 L916.0 1089.6 L917.0 1089.7 L918.0 1089.7 L919.0 1089.7 L920.0 1089.7 L921.0 1089.7 L922.0 1089.7 L923.0 1089.7 L924.0 1089.6 L925.0 1089.3 L926.0 1089.2 L927.0 1089.4 L928.0 1089.6 L929.0 1089.5 L930.0 1089.0 L931.0 1088.5 L932.0 1088.4 L933.0 1088.5 L934.0 1088.6 L935.0 1088.5 L936.0 1088.4 L937.0 1088.6 L938.0 1088.9 L939.0 1089.3 L940.0 1089.3 L941.0 1089.0 L942.0 1088.9 L943.0 1088.9 L944.0 1089.1 L945.0 1089.2 L946.0 1089.1 L947.0 1088.9 L948.0 1088.8 L949.0 1088.8 L950.0 1089.2 L951.0 1089.7 L952.0 1090.0 L953.0 1090.1 L954.0 1090.0 L955.0 1089.9 L956.0 1089.7 L957.0 1089.5 L958.0 1089.2 L959.0 1088.9 L960.0 1088.8 L961.0 1088.9 L962.0 1089.1 L963.0 1089.1 L964.0 1089.1 L965.0 1089.1 L966.0 1089.3 L967.0 1089.4 L968.0 1089.6 L969.0 1089.6 L970.0 1089.7 L971.0 1089.9 L972.0 1090.0 L973.0 1090.0 L974.0 1090.0 L975.0 1090.0 L976.0 1090.0 L977.0 1090.0 L978.0 1089.9 L979.0 1089.8 L980.0 1089.7 L981.0 1089.9 L982.0 1090.0 L983.0 1090.0 L984.0 1090.0 L985.0 1089.9 L986.0 1089.8 L987.0 1089.8 L988.0 1089.7 L989.0 1089.7 L990.0 1089.7 L991.0 1089.7 L992.0 1089.7 L993.0 1089.6 L994.0 1089.4 L995.0 1089.3 L996.0 1089.0 L997.0 1088.7 L998.0 1088.7 L999.0 1089.1 L1000.0 1089.5 L1001.0 1089.8 L1002.0 1089.9 L1003.0 1090.0 L1004.0 1090.1 L1005.0 1090.1 L1006.0 1090.2 L1007.0 1090.3 L1008.0 1090.4 L1009.0 1090.2 L1010.0 1089.7 L1011.0 1089.3 L1012.0 1089.1 L1013.0 1089.2 L1014.0 1089.4 L1015.0 1089.6 L1016.0 1089.9 L1017.0 1090.1 L1018.0 1090.1 L1019.0 1089.9 L1020.0 1089.7 L1021.0 1089.5 L1022.0 1089.1 L1023.0 1088.8 L1024.0 1088.6 L1025.0 1088.6 L1026.0 1088.6 L1027.0 1088.6 L1028.0 1088.5 L1029.0 1088.2 L1030.0 1088.1 L1031.0 1088.3 L1032.0 1088.7 L1033.0 1089.0 L1034.0 1089.2 L1035.0 1089.3 L1036.0 1089.4 L1037.0 1089.3 L1038.0 1089.2 L1039.0 1088.9 L1040.0 1088.8 L1041.0 1088.9 L1042.0 1089.1 L1043.0 1089.3 L1044.0 1089.4 L1045.0 1089.4 L1046.0 1089.4 L1047.0 1089.4 L1048.0 1089.5 L1049.0 1089.7 L1050.0 1089.7 L1051.0 1089.7 L1052.0 1089.7 L1053.0 1089.7 L1054.0 1089.7 L1055.0 1089.7 L1056.0 1089.6 L1057.0 1089.6 L1058.0 1089.7 L1059.0 1089.7 L1060.0 1089.7 L1061.0 1089.6 L1062.0 1089.6 L1063.0 1089.6 L1064.0 1089.6 L1065.0 1089.6 L1066.0 1089.5 L1067.0 1089.5 L1068.0 1089.6 L1069.0 1089.6 L1070.0 1089.7 L1071.0 1089.6 L1072.0 1089.4 L1073.0 1089.3 L1074.0 1089.3 L1075.0 1089.2 L1076.0 1089.2 L1077.0 1089.3 L1078.0 1089.3 L1079.0 1089.4 L1080.0 1089.4 L1081.0 1089.4 L1082.0 1089.4 L1083.0 1089.4 L1084.0 1089.3 L1085.0 1089.1 L1086.0 1088.9 L1087.0 1088.8 L1088.0 1088.8 L1089.0 1089.0 L1090.0 1089.2 L1091.0 1089.2 L1092.0 1089.1 L1093.0 1089.0 L1094.0 1089.0 L1095.0 1089.0 L1096.0 1089.0 L1097.0 1088.8 L1098.0 1088.6 L1099.0 1088.6 L1100.0 1088.7 L1101.0 1088.7 L1102.0 1088.6 L1103.0 1088.5 L1104.0 1088.7 L1105.0 1089.3 L1106.0 1089.9 L1107.0 1090.3 L1108.0 1090.3 L1109.0 1090.2 L1110.0 1089.9 L1111.0 1089.6 L1112.0 1089.5 L1113.0 1089.4 L1114.0 1089.2 L1115.0 1089.1 L1116.0 1089.4 L1117.0 1089.7 L1118.0 1090.1 L1119.0 1090.3 L1120.0 1090.4 L1121.0 1090.4 L1122.0 1090.4 L1123.0 1090.4 L1124.0 1090.3 L1125.0 1090.1 L1126.0 1089.6 L1127.0 1089.3 L1128.0 1089.1 L1129.0 1089.1 L1130.0 1089.2 L1131.0 1089.2 L1132.0 1089.1 L1133.0 1089.2 L1134.0 1089.3 L1135.0 1089.4 L1136.0 1089.5 L1137.0 1089.4 L1138.0 1089.2 L1139.0 1088.9 L1140.0 1088.8 L1141.0 1088.8 L1142.0 1089.0 L1143.0 1089.2 L1144.0 1089.5 L1145.0 1089.8 L1146.0 1090.0 L1147.0 1090.0 L1148.0 1089.8 L1149.0 1089.6 L1150.0 1089.6 L1151.0 1089.7 L1152.0 1089.8 L1153.0 1089.8 L1154.0 1089.7 L1155.0 1089.7 L1156.0 1089.7 L1157.0 1089.6 L1158.0 1089.4 L1159.0 1089.4 L1160.0 1089.4 L1161.0 1089.4 L1162.0 1089.3 L1163.0 1089.3 L1164.0 1089.5 L1165.0 1089.8 L1166.0 1090.2 L1167.0 1090.4 L1168.0 1090.5 L1169.0 1090.4 L1170.0 1090.2 L1171.0 1090.0 L1172.0 1089.7 L1173.0 1089.4 L1174.0 1089.2 L1175.0 1089.1 L1176.0 1089.3 L1177.0 1089.5 L1178.0 1089.7 L1179.0 1089.6 L1180.0 1089.5 L1181.0 1089.5 L1182.0 1089.6 L1183.0 1089.6 L1184.0 1089.4 L1185.0 1089.1 L1186.0 1089.0 L1187.0 1089.0 L1188.0 1089.1 L1189.0 1089.3 L1190.0 1089.7 L1191.0 1089.7 L1192.0 1089.5 L1193.0 1089.2 L1194.0 1089.1 L1195.0 1089.1 L1196.0 1089.1 L1197.0 1089.2 L1198.0 1089.3 L1199.0 1089.3 L1200.0 1089.2 L1201.0 1089.0 L1202.0 1089.1 L1203.0 1089.2 L1204.0 1089.5 L1205.0 1089.5 L1206.0 1089.3 L1207.0 1089.1 L1208.0 1088.9 L1209.0 1089.1 L1210.0 1089.3 L1211.0 1089.4 L1212.0 1089.5 L1213.0 1089.6 L1214.0 1089.7 L1215.0 1089.9 L1216.0 1090.0 L1217.0 1089.7 L1218.0 1089.3 L1219.0 1089.0 L1220.0 1089.1 L1221.0 1089.2 L1222.0 1089.1 L1223.0 1089.0 L1224.0 1089.2 L1225.0 1089.3 L1226.0 1089.2 L1227.0 1088.9 L1228.0 1088.7 L1229.0 1088.5 L1230.0 1088.4 L1231.0 1088.6 L1232.0 1088.8 L1233.0 1088.8 L1234.0 1088.7 L1235.0 1088.6 L1236.0 1088.7 L1237.0 1088.8 L1238.0 1088.9 L1239.0 1089.0 L1240.0 1089.2 L1241.0 1089.3 L1242.0 1089.3 L1243.0 1089.2 L1244.0 1089.1 L1245.0 1089.3 L1246.0 1089.6 L1247.0 1090.0 L1248.0 1090.4 L1249.0 1090.7 L1250.0 1090.8 L1251.0 1090.8 L1252.0 1090.7 L1253.0 1090.5 L1254.0 1090.2 L1255.0 1089.8 L1256.0 1089.5 L1257.0 1089.3 L1258.0 1089.2 L1259.0 1089.3 L1260.0 1089.4 L1261.0 1089.6 L1262.0 1089.6 L1263.0 1089.4 L1264.0 1089.1 L1265.0 1089.0 L1266.0 1089.1 L1267.0 1089.0 L1268.0 1088.6 L1269.0 1088.2 L1270.0 1088.0 L1271.0 1088.1 L1272.0 1088.2 L1273.0 1088.2 L1274.0 1088.1 L1275.0 1088.1 L1276.0 1088.1 L1277.0 1088.4 L1278.0 1088.7 L1279.0 1088.9 L1280.0 1088.7 L1281.0 1088.4 L1282.0 1088.3 L1283.0 1088.5 L1284.0 1088.7 L1285.0 1088.9 L1286.0 1088.9 L1287.0 1089.1 L1288.0 1089.3 L1289.0 1089.2 L1290.0 1089.1 L1291.0 1089.1 L1292.0 1089.3 L1293.0 1089.3 L1294.0 1089.2 L1295.0 1089.2 L1296.0 1089.3 L1297.0 1089.2 L1298.0 1088.9 L1299.0 1088.7 L1300.0 1088.6 L1301.0 1088.6 L1302.0 1088.6 L1303.0 1088.6 L1304.0 1088.7 L1305.0 1088.9 L1306.0 1088.9 L1307.0 1088.9 L1308.0 1088.8 L1309.0 1088.8 L1310.0 1088.8 L1311.0 1088.9 L1312.0 1089.0 L1313.0 1089.2 L1314.0 1089.4 L1315.0 1089.5 L1316.0 1089.3 L1317.0 1089.1 L1318.0 1088.9 L1319.0 1089.0 L1320.0 1089.0 L1321.0 1089.1 L1322.0 1089.2 L1323.0 1089.4 L1324.0 1089.5 L1325.0 1089.3 L1326.0 1088.9 L1327.0 1088.7 L1328.0 1088.7 L1329.0 1088.9 L1330.0 1089.0 L1331.0 1089.1 L1332.0 1089.0 L1333.0 1088.5 L1334.0 1088.0 L1335.0 1087.7 L1336.0 1087.9 L1337.0 1088.2 L1338.0 1088.4 L1339.0 1088.5 L1340.0 1088.6 L1341.0 1088.7 L1342.0 1088.8 L1343.0 1088.9 L1344.0 1088.8 L1345.0 1088.6 L1346.0 1088.4 L1347.0 1088.3 L1348.0 1088.3 L1349.0 1088.3 L1350.0 1088.3 L1351.0 1088.3 L1352.0 1088.4 L1353.0 1088.6 L1354.0 1088.8 L1355.0 1089.0 L1356.0 1089.0 L1357.0 1088.8 L1358.0 1088.5 L1359.0 1088.4 L1360.0 1088.4 L1361.0 1088.2 L1362.0 1087.7 L1363.0 1087.4 L1364.0 1087.4 L1365.0 1087.7 L1366.0 1087.8 L1367.0 1087.7 L1368.0 1087.6 L1369.0 1087.5 L1370.0 1087.6 L1371.0 1087.4 L1372.0 1087.1 L1373.0 1087.0 L1374.0 1087.4 L1375.0 1087.8 L1376.0 1088.0 L1377.0 1087.9 L1378.0 1087.9 L1379.0 1087.9 L1380.0 1087.9 L1381.0 1087.8 L1382.0 1087.8 L1383.0 1087.9 L1384.0 1087.9 L1385.0 1087.9 L1386.0 1087.7 L1387.0 1087.4 L1388.0 1087.2 L1389.0 1087.2 L1390.0 1087.1 L1391.0 1087.1 L1392.0 1086.9 L1393.0 1086.8 L1394.0 1086.9 L1395.0 1086.9 L1396.0 1087.1 L1397.0 1087.3 L1398.0 1087.6 L1399.0 1087.8 L1400.0 1087.8 L1401.0 1087.9 L1402.0 1087.9 L1403.0 1088.0 L1404.0 1087.9 L1405.0 1088.0 L1406.0 1088.1 L1407.0 1088.4 L1408.0 1088.8 L1409.0 1089.0 L1410.0 1089.0 L1411.0 1088.6 L1412.0 1088.3 L1413.0 1088.3 L1414.0 1088.5 L1415.0 1088.6 L1416.0 1088.7 L1417.0 1088.7 L1418.0 1088.7 L1419.0 1088.8 L1420.0 1088.6 L1421.0 1088.3 L1422.0 1088.0 L1423.0 1088.1 L1424.0 1088.2 L1425.0 1088.3 L1426.0 1088.4 L1427.0 1088.5 L1428.0 1088.4 L1429.0 1088.3 L1430.0 1088.1 L1431.0 1088.0 L1432.0 1087.9 L1433.0 1088.0 L1434.0 1088.1 L1435.0 1088.3 L1436.0 1088.4 L1437.0 1088.5 L1438.0 1088.6 L1439.0 1088.5 L1440.0 1088.4 L1441.0 1088.2 L1442.0 1088.1 L1443.0 1087.9 L1444.0 1087.7 L1445.0 1087.4 L1446.0 1087.1 L1447.0 1086.8 L1448.0 1086.5 L1449.0 1086.3 L1450.0 1086.0 L1451.0 1085.8 L1452.0 1085.6 L1453.0 1085.3 L1454.0 1085.0 L1455.0 1084.7 L1456.0 1084.4 L1457.0 1084.2 L1458.0 1083.8 L1459.0 1083.5 L1460.0 1083.1 L1461.0 1082.8 L1462.0 1082.5 L1463.0 1082.1 L1464.0 1081.7 L1465.0 1081.4 L1466.0 1081.0 L1467.0 1080.5 L1468.0 1080.1 L1469.0 1079.7 L1470.0 1079.2 L1471.0 1078.7 L1472.0 1078.3 L1473.0 1077.8 L1474.0 1077.2 L1475.0 1076.7 L1476.0 1076.1 L1477.0 1075.5 L1478.0 1074.9 L1479.0 1074.3 L1480.0 1073.6 L1481.0 1073.0 L1482.0 1072.3 L1483.0 1071.6 L1484.0 1070.9 L1485.0 1070.1 L1486.0 1069.3 L1487.0 1068.5 L1488.0 1067.6 L1489.0 1066.8 L1490.0 1065.9 L1491.0 1064.9 L1492.0 1064.0 L1493.0 1063.1 L1494.0 1062.1 L1495.0 1061.1 L1496.0 1060.1 L1497.0 1059.1 L1498.0 1058.1 L1499.0 1057.0 L1500.0 1055.9 L1501.0 1054.8 L1502.0 1053.6 L1503.0 1052.4 L1504.0 1051.2 L1505.0 1050.0 L1506.0 1048.8 L1507.0 1047.6 L1508.0 1046.5 L1509.0 1045.3 L1510.0 1044.2 L1511.0 1043.1 L1512.0 1042.0 L1513.0 1040.8 L1514.0 1039.7 L1515.0 1038.5 L1516.0 1037.4 L1517.0 1036.3 L1518.0 1035.2 L1519.0 1034.3 L1520.0 1033.4 L1521.0 1032.7 L1522.0 1032.1 L1523.0 1031.6 L1524.0 1031.2 L1525.0 1031.0 L1526.0 1031.1 L1527.0 1031.3 L1528.0 1031.7 L1529.0 1032.2 L1530.0 1032.7 L1531.0 1033.3 L1532.0 1034.0 L1533.0 1034.8 L1534.0 1035.5 L1535.0 1036.3 L1536.0 1037.1 L1537.0 1037.9 L1538.0 1038.7 L1539.0 1039.6 L1540.0 1040.4 L1541.0 1041.3 L1542.0 1042.3 L1543.0 1043.3 L1544.0 1044.3 L1545.0 1045.3 L1546.0 1046.4 L1547.0 1047.4 L1548.0 1048.5 L1549.0 1049.5 L1550.0 1050.5 L1551.0 1051.5 L1552.0 1052.5 L1553.0 1053.4 L1554.0 1054.4 L1555.0 1055.4 L1556.0 1056.4 L1557.0 1057.3 L1558.0 1058.1 L1559.0 1059.0 L1560.0 1059.7 L1561.0 1060.5 L1562.0 1061.2 L1563.0 1061.9 L1564.0 1062.5 L1565.0 1063.2 L1566.0 1063.9 L1567.0 1064.6 L1568.0 1065.3 L1569.0 1065.9 L1570.0 1066.5 L1571.0 1067.1 L1572.0 1067.7 L1573.0 1068.3 L1574.0 1068.8 L1575.0 1069.2 L1576.0 1069.7 L1577.0 1070.0 L1578.0 1070.4 L1579.0 1070.7 L1580.0 1070.9 L1581.0 1071.1 L1582.0 1071.2 L1583.0 1071.2 L1584.0 1071.1 L1585.0 1071.1 L1586.0 1070.9 L1587.0 1070.7 L1588.0 1070.4 L1589.0 1070.1 L1590.0 1069.8 L1591.0 1069.4 L1592.0 1069.0 L1593.0 1068.6 L1594.0 1068.2 L1595.0 1067.7 L1596.0 1067.2 L1597.0 1066.7 L1598.0 1066.1 L1599.0 1065.4 L1600.0 1064.6 L1601.0 1063.7 L1602.0 1062.7 L1603.0 1061.6 L1604.0 1060.4 L1605.0 1059.1 L1606.0 1057.8 L1607.0 1056.4 L1608.0 1055.0 L1609.0 1053.5 L1610.0 1051.9 L1611.0 1050.1 L1612.0 1048.2 L1613.0 1046.2 L1614.0 1044.0 L1615.0 1041.8 L1616.0 1039.7 L1617.0 1037.6 L1618.0 1035.8 L1619.0 1034.1 L1620.0 1032.7 L1621.0 1031.3 L1622.0 1029.9 L1623.0 1028.6 L1624.0 1027.4 L1625.0 1026.3 L1626.0 1025.3 L1627.0 1024.5 L1628.0 1023.8 L1629.0 1023.4 L1630.0 1023.3 L1631.0 1023.3 L1632.0 1023.3 L1633.0 1023.5 L1634.0 1023.8 L1635.0 1024.2 L1636.0 1024.7 L1637.0 1025.4 L1638.0 1026.0 L1639.0 1026.8 L1640.0 1027.6 L1641.0 1028.5 L1642.0 1029.7 L1643.0 1031.0 L1644.0 1032.7 L1645.0 1034.5 L1646.0 1036.5 L1647.0 1038.6 L1648.0 1040.7 L1649.0 1042.8 L1650.0 1044.8 L1651.0 1046.7 L1652.0 1048.4 L1653.0 1050.0 L1654.0 1051.6 L1655.0 1053.1 L1656.0 1054.6 L1657.0 1056.0 L1658.0 1057.4 L1659.0 1058.7 L1660.0 1059.9 L1661.0 1061.0 L1662.0 1062.1 L1663.0 1063.0 L1664.0 1063.8 L1665.0 1064.6 L1666.0 1065.4 L1667.0 1066.1 L1668.0 1066.8 L1669.0 1067.4 L1670.0 1068.0 L1671.0 1068.4 L1672.0 1068.8 L1673.0 1069.1 L1674.0 1069.3 L1675.0 1069.5 L1676.0 1069.6 L1677.0 1069.7 L1678.0 1069.8 L1679.0 1069.9 L1680.0 1070.0 L1681.0 1070.0 L1682.0 1070.1 L1683.0 1070.2 L1684.0 1070.4 L1685.0 1070.7 L1686.0 1071.1 L1687.0 1071.9 L1688.0 1072.8 L1689.0 1073.8 L1690.0 1074.8 L1691.0 1075.7 L1692.0 1076.4 L1693.0 1077.1 L1694.0 1077.6 L1695.0 1078.1 L1696.0 1078.6 L1697.0 1079.0 L1698.0 1079.4 L1699.0 1079.7 L1700.0 1080.1 L1701.0 1080.5 L1702.0 1080.8 L1703.0 1081.2 L1704.0 1081.5 L1705.0 1081.8 L1706.0 1082.1 L1707.0 1082.3 L1708.0 1082.5 L1709.0 1082.6 L1710.0 1082.9 L1711.0 1083.1 L1712.0 1083.3 L1713.0 1083.5 L1714.0 1083.8 L1715.0 1084.0 L1716.0 1084.2 L1717.0 1084.3 L1718.0 1084.5 L1719.0 1084.7 L1720.0 1084.8 L1721.0 1084.9 L1722.0 1085.0 L1723.0 1085.1 L1724.0 1085.2 L1725.0 1085.4 L1726.0 1085.6 L1727.0 1085.7 L1728.0 1085.8 L1729.0 1085.9 L1730.0 1086.0 L1731.0 1086.1 L1732.0 1086.1 L1733.0 1086.2 L1734.0 1086.2 L1735.0 1086.2 L1736.0 1086.2 L1737.0 1086.2 L1738.0 1086.3 L1739.0 1086.4 L1740.0 1086.5 L1741.0 1086.5 L1742.0 1086.4 L1743.0 1086.3 L1744.0 1086.0 L1745.0 1085.8 L1746.0 1085.6 L1747.0 1085.4 L1748.0 1085.2 L1749.0 1085.1 L1750.0 1085.0 L1751.0 1084.8 L1752.0 1084.9 L1753.0 1085.3 L1754.0 1085.7 L1755.0 1085.9 L1756.0 1085.9 L1757.0 1086.0 L1758.0 1086.1 L1759.0 1086.1 L1760.0 1086.4 L1761.0 1086.8 L1762.0 1087.0 L1763.0 1086.9 L1764.0 1086.7 L1765.0 1086.3 L1766.0 1086.1 L1767.0 1086.0 L1768.0 1086.2 L1769.0 1086.5 L1770.0 1086.8 L1771.0 1087.0 L1772.0 1087.2 L1773.0 1087.5 L1774.0 1087.7 L1775.0 1087.8 L1776.0 1087.8 L1777.0 1087.6 L1778.0 1087.5 L1779.0 1087.3 L1780.0 1087.3 L1781.0 1087.4 L1782.0 1087.6 L1783.0 1087.7 L1784.0 1087.8 L1785.0 1087.7 L1786.0 1087.5 L1787.0 1087.5 L1788.0 1087.5 L1789.0 1087.6 L1790.0 1087.6 L1791.0 1087.6 L1792.0 1087.6 L1793.0 1087.7 L1794.0 1087.8 L1795.0 1087.9 L1796.0 1087.9 L1797.0 1087.9 L1798.0 1087.8 L1799.0 1087.7 L1800.0 1087.6 L1801.0 1087.5 L1802.0 1087.6 L1803.0 1087.7 L1804.0 1087.7 L1805.0 1087.6 L1806.0 1087.3 L1807.0 1086.9 L1808.0 1086.5 L1809.0 1086.2 L1810.0 1086.1 L1811.0 1086.2 L1812.0 1086.5 L1813.0 1086.7 L1814.0 1086.9 L1815.0 1087.0 L1816.0 1086.9 L1817.0 1086.7 L1818.0 1086.5 L1819.0 1086.2 L1820.0 1086.1 L1821.0 1086.2 L1822.0 1086.3 L1823.0 1086.4 L1824.0 1086.3 L1825.0 1086.3 L1826.0 1086.3 L1827.0 1086.3 L1828.0 1086.5 L1829.0 1086.6 L1830.0 1086.5 L1831.0 1086.2 L1832.0 1085.8 L1833.0 1085.4 L1834.0 1085.1 L1835.0 1084.8 L1836.0 1084.3 L1837.0 1083.9 L1838.0 1083.6 L1839.0 1083.2 L1840.0 1082.8 L1841.0 1082.4 L1842.0 1082.0 L1843.0 1081.6 L1844.0 1081.2 L1845.0 1080.8 L1846.0 1080.3 L1847.0 1079.9 L1848.0 1079.5 L1849.0 1079.2 L1850.0 1078.8 L1851.0 1078.4 L1852.0 1078.0 L1853.0 1077.6 L1854.0 1077.2 L1855.0 1076.8 L1856.0 1076.3 L1857.0 1075.8 L1858.0 1075.2 L1859.0 1074.6 L1860.0 1074.0 L1861.0 1073.3 L1862.0 1072.6 L1863.0 1071.8 L1864.0 1071.1 L1865.0 1070.3 L1866.0 1069.4 L1867.0 1068.6 L1868.0 1067.8 L1869.0 1066.9 L1870.0 1066.1 L1871.0 1065.2 L1872.0 1064.3 L1873.0 1063.3 L1874.0 1062.4 L1875.0 1061.4 L1876.0 1060.5 L1877.0 1059.5 L1878.0 1058.5 L1879.0 1057.6 L1880.0 1056.8 L1881.0 1055.9 L1882.0 1055.1 L1883.0 1054.4 L1884.0 1053.6 L1885.0 1052.8 L1886.0 1052.1 L1887.0 1051.3 L1888.0 1050.5 L1889.0 1049.8 L1890.0 1049.1 L1891.0 1048.4 L1892.0 1047.7 L1893.0 1047.2 L1894.0 1046.6 L1895.0 1046.1 L1896.0 1045.8 L1897.0 1045.5 L1898.0 1045.3 L1899.0 1045.2 L1900.0 1045.2 L1901.0 1045.2 L1902.0 1045.3 L1903.0 1045.5 L1904.0 1045.7 L1905.0 1046.0 L1906.0 1046.4 L1907.0 1046.8 L1908.0 1047.3 L1909.0 1047.8 L1910.0 1048.3 L1911.0 1048.8 L1912.0 1049.3 L1913.0 1049.8 L1914.0 1050.3 L1915.0 1050.9 L1916.0 1051.4 L1917.0 1052.0 L1918.0 1052.7 L1919.0 1053.3 L1920.0 1054.0 L1921.0 1054.8 L1922.0 1055.5 L1923.0 1056.3 L1924.0 1057.1 L1925.0 1057.9 L1926.0 1058.7 L1927.0 1059.6 L1928.0 1060.4 L1929.0 1061.2 L1930.0 1062.0 L1931.0 1062.8 L1932.0 1063.7 L1933.0 1064.5 L1934.0 1065.4 L1935.0 1066.2 L1936.0 1067.1 L1937.0 1068.1 L1938.0 1069.0 L1939.0 1069.9 L1940.0 1070.8 L1941.0 1071.7 L1942.0 1072.5 L1943.0 1073.3 L1944.0 1074.1 L1945.0 1074.8 L1946.0 1075.4 L1947.0 1076.0 L1948.0 1076.5 L1949.0 1077.0 L1950.0 1077.5 L1951.0 1077.9 L1952.0 1078.3 L1953.0 1078.8 L1954.0 1079.2 L1955.0 1079.6 L1956.0 1080.0 L1957.0 1080.3 L1958.0 1080.7 L1959.0 1081.0 L1960.0 1081.3 L1961.0 1081.7 L1962.0 1082.0 L1963.0 1082.2 L1964.0 1082.5 L1965.0 1082.7 L1966.0 1083.0 L1967.0 1083.2 L1968.0 1083.4 L1969.0 1083.7 L1970.0 1083.9 L1971.0 1084.0 L1972.0 1084.1 L1973.0 1084.3 L1974.0 1084.4 L1975.0 1084.5 L1976.0 1084.6 L1977.0 1084.7 L1978.0 1084.8 L1979.0 1085.0 L1980.0 1085.1 L1981.0 1085.3 L1982.0 1085.5 L1983.0 1085.7 L1984.0 1085.8 L1985.0 1085.8 L1986.0 1085.9 L1987.0 1086.0 L1988.0 1086.2 L1989.0 1086.2 L1990.0 1086.2 L1991.0 1086.1 L1992.0 1086.0 L1993.0 1085.9 L1994.0 1085.9 L1995.0 1085.7 L1996.0 1085.6 L1997.0 1085.7 L1998.0 1086.0 L1999.0 1086.4 L2000.0 1086.7 L2001.0 1086.8 L2002.0 1086.8 L2003.0 1087.0 L2004.0 1087.3 L2005.0 1087.6 L2006.0 1087.8 L2007.0 1087.8 L2008.0 1087.6 L2009.0 1087.6 L2010.0 1087.7 L2011.0 1088.0 L2012.0 1088.1 L2013.0 1087.8 L2014.0 1087.4 L2015.0 1087.4 L2016.0 1087.9 L2017.0 1088.3 L2018.0 1088.4 L2019.0 1088.2 L2020.0 1087.9 L2021.0 1087.8 L2022.0 1087.9 L2023.0 1087.8 L2024.0 1087.7 L2025.0 1087.5 L2026.0 1087.3 L2027.0 1087.2 L2028.0 1087.2 L2029.0 1087.3 L2030.0 1087.5 L2031.0 1087.7 L2032.0 1087.9 L2033.0 1088.0 L2034.0 1088.0 L2035.0 1088.1 L2036.0 1088.1 L2037.0 1088.1 L2038.0 1088.2 L2039.0 1088.0 L2040.0 1087.6 L2041.0 1087.2 L2042.0 1087.1 L2043.0 1087.3 L2044.0 1087.7 L2045.0 1088.1 L2046.0 1088.3 L2047.0 1088.3 L2048.0 1088.3 L2049.0 1088.2 L2050.0 1088.2 L2051.0 1088.2 L2052.0 1088.1 L2053.0 1088.0 L2054.0 1088.2 L2055.0 1088.4 L2056.0 1088.7 L2057.0 1088.7 L2058.0 1088.6 L2059.0 1088.3 L2060.0 1087.8 L2061.0 1087.4 L2062.0 1087.3 L2063.0 1087.5 L2064.0 1087.7 L2065.0 1087.9 L2066.0 1088.1 L2067.0 1088.3 L2068.0 1088.7 L2069.0 1089.0 L2070.0 1089.0 L2071.0 1088.9 L2072.0 1088.7 L2073.0 1088.4 L2074.0 1088.1 L2075.0 1088.0 L2076.0 1088.0 L2077.0 1088.1 L2078.0 1088.2 L2079.0 1088.1 L2080.0 1088.1 L2081.0 1088.1 L2082.0 1088.1 L2083.0 1088.2 L2084.0 1088.2 L2085.0 1088.0 L2086.0 1087.9 L2087.0 1088.0 L2088.0 1088.2 L2089.0 1088.3 L2090.0 1088.3 L2091.0 1088.4 L2092.0 1088.5 L2093.0 1088.4 L2094.0 1088.3 L2095.0 1088.1 L2096.0 1088.0 L2097.0 1087.9 L2098.0 1087.9 L2099.0 1087.8 L2100.0 1087.7 L2101.0 1087.5 L2102.0 1087.4 L2103.0 1087.5 L2104.0 1087.8 L2105.0 1088.1 L2106.0 1088.2 L2107.0 1088.2 L2108.0 1088.1 L2109.0 1088.0 L2110.0 1088.0 L2111.0 1088.0 L2112.0 1087.9 L2113.0 1087.8 L2114.0 1087.4 L2115.0 1087.0 L2116.0 1086.8 L2117.0 1086.9 L2118.0 1087.1 L2119.0 1087.2 L2120.0 1087.2 L2121.0 1087.1 L2122.0 1087.1 L2123.0 1087.1 L2124.0 1087.1 L2125.0 1087.1 L2126.0 1087.0 L2127.0 1086.8 L2128.0 1086.7 L2129.0 1086.8 L2130.0 1086.8 L2131.0 1086.6 L2132.0 1086.3 L2133.0 1086.1 L2134.0 1086.1 L2135.0 1086.4 L2136.0 1086.5 L2137.0 1086.2 L2138.0 1085.8 L2139.0 1085.5 L2140.0 1085.4 L2141.0 1085.4 L2142.0 1085.3 L2143.0 1085.1 L2144.0 1085.0 L2145.0 1084.9 L2146.0 1084.9 L2147.0 1084.8 L2148.0 1084.7 L2149.0 1084.6 L2150.0 1084.5 L2151.0 1084.3 L2152.0 1084.1 L2153.0 1083.9 L2154.0 1083.7 L2155.0 1083.6 L2156.0 1083.5 L2157.0 1083.4 L2158.0 1083.2 L2159.0 1082.9 L2160.0 1082.5 L2161.0 1082.0 L2162.0 1081.5 L2163.0 1081.0 L2164.0 1080.3 L2165.0 1079.5 L2166.0 1078.5 L2167.0 1077.3 L2168.0 1075.8 L2169.0 1073.8 L2170.0 1071.4 L2171.0 1068.5 L2172.0 1064.8 L2173.0 1060.3 L2174.0 1055.0 L2175.0 1048.7 L2176.0 1041.4 L2177.0 1033.2 L2178.0 1024.3 L2179.0 1014.7 L2180.0 1004.8 L2181.0 995.0 L2182.0 986.0 L2183.0 978.6 L2184.0 973.4 L2185.0 971.2 L2186.0 972.1 L2187.0 976.2 L2188.0 982.9 L2189.0 991.4 L2190.0 1000.9 L2191.0 1010.8 L2192.0 1020.6 L2193.0 1029.9 L2194.0 1038.4 L2195.0 1046.0 L2196.0 1052.7 L2197.0 1058.5 L2198.0 1063.3 L2199.0 1067.3 L2200.0 1070.6 L2201.0 1073.2 L2202.0 1075.3 L2203.0 1077.0 L2204.0 1078.4 L2205.0 1079.5 L2206.0 1080.3 L2207.0 1081.1 L2208.0 1081.7 L2209.0 1082.2 L2210.0 1082.7 L2211.0 1083.1 L2212.0 1083.5 L2213.0 1083.9 L2214.0 1084.2 L2215.0 1084.5 L2216.0 1084.7 L2217.0 1085.0 L2218.0 1085.2 L2219.0 1085.4 L2220.0 1085.6 L2221.0 1085.8 L2222.0 1085.9 L2223.0 1086.0 L2224.0 1086.1 L2225.0 1086.2 L2226.0 1086.4 L2227.0 1086.6 L2228.0 1086.8 L2229.0 1086.9 L2230.0 1086.9 L2231.0 1087.0 L2232.0 1087.1 L2233.0 1087.3 L2234.0 1087.4 L2235.0 1087.5 L2236.0 1087.6 L2237.0 1087.7 L2238.0 1087.8 L2239.0 1087.8 L2240.0 1087.9 L2241.0 1088.1" stroke="#0000ff"/>
<path d="M212.0 1264.2 L213.0 1264.2 L214.0 1264.1 L215.0 1264.0 L216.0 1264.0 L217.0 1264.2 L218.0 1264.5 L219.0 1264.8 L220.0 1264.9 L221.0 1264.8 L222.0 1264.6 L223.0 1264.4 L224.0 1264.3 L225.0 1264.2 L226.0 1264.4 L227.0 1264.8 L228.0 1265.0 L229.0 1264.8 L230.0 1264.4 L231.0 1264.1 L232.0 1264.2 L233.0 1264.7 L234.0 1265.0 L235.0 1265.1 L236.0 1264.9 L237.0 1264.5 L238.0 1264.2 L239.0 1264.0 L240.0 1264.1 L241.0 1264.2 L242.0 1264.4 L243.0 1264.6 L244.0 1264.6 L245.0 1264.5 L246.0 1264.3 L247.0 1264.1 L248.0 1264.0 L249.0 1264.1 L250.0 1264.4 L251.0 1264.7 L252.0 1264.8 L253.0 1264.6 L254.0 1264.3 L255.0 1263.9 L256.0 1263.6 L257.0 1263.4 L258.0 1263.5 L259.0 1263.8 L260.0 1264.0 L261.0 1264.0 L262.0 1264.1 L263.0 1264.4 L264.0 1264.7 L265.0 1264.8 L266.0 1264.8 L267.0 1264.9 L268.0 1265.0 L269.0 1265.0 L270.0 1264.8 L271.0 1264.7 L272.0 1264.5 L273.0 1264.4 L274.0 1264.5 L275.0 1264.9 L276.0 1265.3 L277.0 1265.3 L278.0 1265.1 L279.0 1264.7 L280.0 1264.5 L281.0 1264.4 L282.0 1264.5 L283.0 1264.6 L284.0 1264.5 L285.0 1264.4 L286.0 1264.5 L287.0 1264.5 L288.0 1264.3 L289.0 1264.0 L290.0 1263.8 L291.0 1263.7 L292.0 1263.7 L293.0 1263.9 L294.0 1264.2 L295.0 1264.6 L296.0 1264.9 L297.0 1264.9 L298.0 1264.7 L299.0 1264.5 L300.0 1264.5 L301.0 1264.6 L302.0 1264.6 L303.0 1264.4 L304.0 1264.2 L305.0 1264.2 L306.0 1264.3 L307.0 1264.5 L308.0 1264.7 L309.0 1264.8 L310.0 1264.8 L311.0 1264.7 L312.0 1264.7 L313.0 1264.7 L314.0 1264.6 L315.0 1264.6 L316.0 1265.0 L317.0 1265.4 L318.0 1265.7 L319.0 1265.7 L320.0 1265.5 L321.0 1265.1 L322.0 1265.0 L323.0 1265.2 L324.0 1265.5 L325.0 1265.9 L326.0 1266.1 L327.0 1266.1 L328.0 1265.9 L329.0 1265.7 L330.0 1265.5 L331.0 1265.3 L332.0 1265.2 L333.0 1265.3 L334.0 1265.5 L335.0 1265.6 L336.0 1265.5 L337.0 1265.4 L338.0 1265.4 L339.0 1265.4 L340.0 1265.3 L341.0 1265.0 L342.0 1264.8 L343.0 1264.5 L344.0 1264.2 L345.0 1264.1 L346.0 1264.1 L347.0 1264.0 L348.0 1263.8 L349.0 1263.4 L350.0 1263.0 L351.0 1262.9 L352.0 1263.2 L353.0 1263.6 L354.0 1263.7 L355.0 1263.6 L356.0 1263.5 L357.0 1263.6 L358.0 1263.9 L359.0 1264.2 L360.0 1264.4 L361.0 1264.6 L362.0 1264.9 L363.0 1265.2 L364.0 1265.2 L365.0 1265.0 L366.0 1264.7 L367.0 1264.6 L368.0 1264.4 L369.0 1264.1 L370.0 1264.0 L371.0 1264.1 L372.0 1264.2 L373.0 1264.2 L374.0 1264.0 L375.0 1263.8 L376.0 1263.7 L377.0 1263.5 L378.0 1263.4 L379.0 1263.3 L380.0 1263.4 L381.0 1263.4 L382.0 1263.4 L383.0 1263.3 L384.0 1263.3 L385.0 1263.2 L386.0 1263.1 L387.0 1262.9 L388.0 1262.8 L389.0 1262.9 L390.0 1263.1 L391.0 1263.3 L392.0 1263.5 L393.0 1263.7 L394.0 1263.8 L395.0 1264.0 L396.0 1264.0 L397.0 1264.0 L398.0 1264.0 L399.0 1263.9 L400.0 1263.8 L401.0 1263.5 L402.0 1263.1 L403.0 1262.9 L404.0 1262.8 L405.0 1262.9 L406.0 1263.1 L407.0 1263.0 L408.0 1263.0 L409.0 1262.9 L410.0 1263.1 L411.0 1263.2 L412.0 1263.4 L413.0 1263.5 L414.0 1263.6 L415.0 1263.9 L416.0 1264.4 L417.0 1264.7 L418.0 1264.4 L419.0 1264.0 L420.0 1263.5 L421.0 1263.3 L422.0 1263.2 L423.0 1263.1 L424.0 1263.2 L425.0 1263.3 L426.0 1263.1 L427.0 1262.8 L428.0 1262.6 L429.0 1262.6 L430.0 1262.7 L431.0 1262.8 L432.0 1262.8 L433.0 1262.7 L434.0 1262.5 L435.0 1262.3 L436.0 1262.3 L437.0 1262.5 L438.0 1262.7 L439.0 1262.6 L440.0 1262.5 L441.0 1262.6 L442.0 1262.8 L443.0 1263.0 L444.0 1262.9 L445.0 1262.8 L446.0 1262.8 L447.0 1262.8 L448.0 1262.7 L449.0 1262.6 L450.0 1262.4 L451.0 1262.2 L452.0 1262.1 L453.0 1262.3 L454.0 1262.4 L455.0 1262.4 L456.0 1262.3 L457.0 1262.2 L458.0 1262.2 L459.0 1262.2 L460.0 1262.1 L461.0 1261.8 L462.0 1261.5 L463.0 1261.3 L464.0 1261.2 L465.0 1261.3 L466.0 1261.4 L467.0 1261.4 L468.0 1261.2 L469.0 1261.0 L470.0 1260.8 L471.0 1260.6 L472.0 1260.3 L473.0 1260.1 L474.0 1260.0 L475.0 1260.2 L476.0 1260.4 L477.0 1260.6 L478.0 1260.7 L479.0 1260.5 L480.0 1260.5 L481.0 1260.6 L482.0 1260.7 L483.0 1260.7 L484.0 1260.5 L485.0 1260.2 L486.0 1259.8 L487.0 1259.5 L488.0 1259.3 L489.0 1259.3 L490.0 1259.2 L491.0 1259.1 L492.0 1258.9 L493.0 1258.7 L494.0 1258.6 L495.0 1258.4 L496.0 1258.2 L497.0 1258.1 L498.0 1258.0 L499.0 1257.8 L500.0 1257.5 L501.0 1257.0 L502.0 1256.4 L503.0 1256.0 L504.0 1255.9 L505.0 1255.9 L506.0 1256.1 L507.0 1256.3 L508.0 1256.5 L509.0 1256.6 L510.0 1256.8 L511.0 1256.9 L512.0 1256.9 L513.0 1256.9 L514.0 1257.0 L515.0 1257.4 L516.0 1257.9 L517.0 1258.5 L518.0 1259.0 L519.0 1259.3 L520.0 1259.4 L521.0 1259.5 L522.0 1259.6 L523.0 1259.5 L524.0 1259.4 L525.0 1259.2 L526.0 1259.1 L527.0 1258.9 L528.0 1258.8 L529.0 1258.6 L530.0 1258.5 L531.0 1258.4 L532.0 1258.3 L533.0 1258.1 L534.0 1257.9 L535.0 1257.6 L536.0 1257.5 L537.0 1257.6 L538.0 1257.6 L539.0 1257.4 L540.0 1257.3 L541.0 1257.1 L542.0 1257.0 L543.0 1256.9 L544.0 1256.8 L545.0 1256.6 L546.0 1256.4 L547.0 1256.2 L548.0 1256.0 L549.0 1255.9 L550.0 1255.8 L551.0 1255.7 L552.0 1255.5 L553.0 1255.3 L554.0 1255.1 L555.0 1254.8 L556.0 1254.6 L557.0 1254.3 L558.0 1253.9 L559.0 1253.5 L560.0 1253.0 L561.0 1252.5 L562.0 1252.0 L563.0 1251.4 L564.0 1250.7 L565.0 1249.9 L566.0 1249.1 L567.0 1248.2 L568.0 1247.2 L569.0 1246.3 L570.0 1245.4 L571.0 1244.5 L572.0 1243.7 L573.0 1243.0 L574.0 1242.3 L575.0 1241.6 L576.0 1241.0 L577.0 1240.4 L578.0 1239.7 L579.0 1239.0 L580.0 1238.3 L581.0 1237.6 L582.0 1236.8 L583.0 1235.9 L584.0 1235.0 L585.0 1234.0 L586.0 1233.0 L587.0 1232.0 L588.0 1231.0 L589.0 1229.9 L590.0 1228.8 L591.0 1227.7 L592.0 1226.5 L593.0 1225.4 L594.0 1224.2 L595.0 1223.0 L596.0 1221.7 L597.0 1220.3 L598.0 1218.9 L599.0 1217.4 L600.0 1215.8 L601.0 1214.1 L602.0 1212.3 L603.0 1210.4 L604.0 1208.5 L605.0 1206.5 L606.0 1204.4 L607.0 1202.4 L608.0 1200.2 L609.0 1198.0 L610.0 1195.6 L611.0 1193.1 L612.0 1190.4 L613.0 1187.5 L614.0 1184.5 L615.0 1181.4 L616.0 1178.2 L617.0 1174.9 L618.0 1171.6 L619.0 1168.2 L620.0 1164.8 L621.0 1161.4 L622.0 1157.9 L623.0 1154.4 L624.0 1150.9 L625.0 1147.4 L626.0 1144.0 L627.0 1140.7 L628.0 1137.7 L629.0 1134.7 L630.0 1131.9 L631.0 1129.2 L632.0 1126.5 L633.0 1123.8 L634.0 1121.1 L635.0 1118.6 L636.0 1116.1 L637.0 1113.9 L638.0 1111.9 L639.0 1110.2 L640.0 1108.8 L641.0 1107.8 L642.0 1107.2 L643.0 1106.9 L644.0 1107.2 L645.0 1107.9 L646.0 1109.0 L647.0 1110.5 L648.0 1112.2 L649.0 1114.3 L650.0 1116.6 L651.0 1119.1 L652.0 1121.8 L653.0 1124.6 L654.0 1127.5 L655.0 1130.6 L656.0 1133.8 L657.0 1137.3 L658.0 1141.2 L659.0 1145.5 L660.0 1150.0 L661.0 1154.7 L662.0 1159.4 L663.0 1164.1 L664.0 1168.6 L665.0 1172.9 L666.0 1176.9 L667.0 1180.3 L668.0 1183.3 L669.0 1185.9 L670.0 1188.3 L671.0 1190.7 L672.0 1193.2 L673.0 1196.0 L674.0 1199.0 L675.0 1201.9 L676.0 1204.8 L677.0 1207.3 L678.0 1209.6 L679.0 1211.7 L680.0 1213.6 L681.0 1215.3 L682.0 1216.9 L683.0 1218.4 L684.0 1219.7 L685.0 1221.0 L686.0 1222.2 L687.0 1223.3 L688.0 1224.4 L689.0 1225.5 L690.0 1226.6 L691.0 1227.8 L692.0 1229.1 L693.0 1230.4 L694.0 1231.7 L695.0 1233.1 L696.0 1234.4 L697.0 1235.6 L698.0 1236.9 L699.0 1238.1 L700.0 1239.3 L701.0 1240.5 L702.0 1241.6 L703.0 1242.6 L704.0 1243.5 L705.0 1244.3 L706.0 1244.8 L707.0 1245.2 L708.0 1245.5 L709.0 1245.7 L710.0 1246.0 L711.0 1246.2 L712.0 1246.4 L713.0 1246.6 L714.0 1246.7 L715.0 1246.9 L716.0 1247.1 L717.0 1247.4 L718.0 1247.6 L719.0 1247.9 L720.0 1248.3 L721.0 1248.7 L722.0 1249.1 L723.0 1249.6 L724.0 1250.0 L725.0 1250.5 L726.0 1250.9 L727.0 1251.3 L728.0 1251.7 L729.0 1252.1 L730.0 1252.4 L731.0 1252.7 L732.0 1253.1 L733.0 1253.4 L734.0 1253.8 L735.0 1254.1 L736.0 1254.4 L737.0 1254.7 L738.0 1255.0 L739.0 1255.2 L740.0 1255.4 L741.0 1255.5 L742.0 1255.7 L743.0 1255.9 L744.0 1256.0 L745.0 1256.1 L746.0 1256.2 L747.0 1256.3 L748.0 1256.4 L749.0 1256.6 L750.0 1256.7 L751.0 1256.7 L752.0 1256.8 L753.0 1256.9 L754.0 1257.0 L755.0 1257.1 L756.0 1257.1 L757.0 1257.1 L758.0 1257.2 L759.0 1257.2 L760.0 1257.2 L761.0 1257.1 L762.0 1257.2 L763.0 1257.3 L764.0 1257.5 L765.0 1257.7 L766.0 1257.8 L767.0 1257.7 L768.0 1257.6 L769.0 1257.6 L770.0 1257.6 L771.0 1257.5 L772.0 1257.3 L773.0 1257.2 L774.0 1257.4 L775.0 1257.7 L776.0 1258.0 L777.0 1258.2 L778.0 1258.2 L779.0 1258.1 L780.0 1257.7 L781.0 1257.4 L782.0 1257.4 L783.0 1257.6 L784.0 1257.9 L785.0 1258.2 L786.0 1258.4 L787.0 1258.4 L788.0 1258.2 L789.0 1258.0 L790.0 1258.0 L791.0 1257.8 L792.0 1257.3 L793.0 1257.1 L794.0 1257.1 L795.0 1257.3 L796.0 1257.5 L797.0 1257.6 L798.0 1257.6 L799.0 1257.4 L800.0 1257.1 L801.0 1257.1 L802.0 1257.5 L803.0 1258.0 L804.0 1258.4 L805.0 1258.7 L806.0 1258.8 L807.0 1258.6 L808.0 1258.4 L809.0 1258.3 L810.0 1258.4 L811.0 1258.6 L812.0 1259.0 L813.0 1259.2 L814.0 1259.4 L815.0 1259.6 L816.0 1259.9 L817.0 1260.3 L818.0 1260.5 L819.0 1260.6 L820.0 1260.5 L821.0 1260.4 L822.0 1260.3 L823.0 1260.3 L824.0 1260.4 L825.0 1260.8 L826.0 1261.3 L827.0 1261.6 L828.0 1261.6 L829.0 1261.3 L830.0 1261.0 L831.0 1261.0 L832.0 1261.4 L833.0 1261.9 L834.0 1262.3 L835.0 1262.4 L836.0 1262.5 L837.0 1262.5 L838.0 1262.8 L839.0 1263.1 L840.0 1263.4 L841.0 1263.4 L842.0 1263.2 L843.0 1263.0 L844.0 1263.0 L845.0 1263.0 L846.0 1263.0 L847.0 1262.9 L848.0 1263.0 L849.0 1263.1 L850.0 1263.1 L851.0 1263.2 L852.0 1263.5 L853.0 1263.7 L854.0 1263.7 L855.0 1263.6 L856.0 1263.5 L857.0 1263.4 L858.0 1263.3 L859.0 1263.1 L860.0 1263.1 L861.0 1263.1 L862.0 1263.1 L863.0 1263.1 L864.0 1263.0 L865.0 1262.9 L866.0 1262.8 L867.0 1262.8 L868.0 1262.9 L869.0 1263.0 L870.0 1262.9 L871.0 1263.0 L872.0 1263.2 L873.0 1263.3 L874.0 1263.3 L875.0 1263.3 L876.0 1263.5 L877.0 1263.8 L878.0 1263.7 L879.0 1263.6 L880.0 1263.4 L881.0 1263.3 L882.0 1263.3 L883.0 1263.4 L884.0 1263.4 L885.0 1263.5 L886.0 1263.4 L887.0 1263.2 L888.0 1262.7 L889.0 1262.3 L890.0 1261.9 L891.0 1261.8 L892.0 1262.0 L893.0 1262.4 L894.0 1262.6 L895.0 1262.7 L896.0 1262.5 L897.0 1262.2 L898.0 1261.9 L899.0 1261.6 L900.0 1261.6 L901.0 1262.1 L902.0 1262.7 L903.0 1263.1 L904.0 1263.2 L905.0 1263.1 L906.0 1263.2 L907.0 1263.4 L908.0 1263.6 L909.0 1263.6 L910.0 1263.5 L911.0 1263.4 L912.0 1263.2 L913.0 1263.1 L914.0 1263.3 L915.0 1263.6 L916.0 1264.0 L917.0 1264.1 L918.0 1263.9 L919.0 1263.5 L920.0 1263.3 L921.0 1263.4 L922.0 1263.7 L923.0 1264.0 L924.0 1263.8 L925.0 1263.6 L926.0 1263.5 L927.0 1263.6 L928.0 1263.8 L929.0 1264.0 L930.0 1264.1 L931.0 1264.1 L932.0 1264.0 L933.0 1263.8 L934.0 1263.8 L935.0 1263.9 L936.0 1264.2 L937.0 1264.2 L938.0 1263.8 L939.0 1263.4 L940.0 1263.2 L941.0 1263.4 L942.0 1263.6 L943.0 1263.6 L944.0 1263.5 L945.0 1263.7 L946.0 1264.0 L947.0 1264.1 L948.0 1264.0 L949.0 1263.6 L950.0 1263.3 L951.0 1263.1 L952.0 1263.1 L953.0 1263.0 L954.0 1263.0 L955.0 1262.9 L956.0 1262.8 L957.0 1262.5 L958.0 1262.2 L959.0 1262.1 L960.0 1262.2 L961.0 1262.3 L962.0 1262.3 L963.0 1262.1 L964.0 1262.0 L965.0 1262.0 L966.0 1262.1 L967.0 1262.2 L968.0 1262.2 L969.0 1262.1 L970.0 1262.1 L971.0 1262.1 L972.0 1262.0 L973.0 1261.9 L974.0 1262.0 L975.0 1262.4 L976.0 1262.8 L977.0 1263.1 L978.0 1263.2 L979.0 1263.2 L980.0 1263.2 L981.0 1263.1 L982.0 1263.0 L983.0 1262.9 L984.0 1262.8 L985.0 1262.8 L986.0 1262.8 L987.0 1262.7 L988.0 1262.4 L989.0 1262.3 L990.0 1262.5 L991.0 1262.8 L992.0 1263.1 L993.0 1263.1 L994.0 1263.1 L995.0 1263.2 L996.0 1263.4 L997.0 1263.8 L998.0 1264.0 L999.0 1264.1 L1000.0 1263.8 L1001.0 1263.3 L1002.0 1263.1 L1003.0 1263.1 L1004.0 1263.4 L1005.0 1263.8 L1006.0 1264.1 L1007.0 1264.2 L1008.0 1264.3 L1009.0 1264.3 L1010.0 1264.2 L1011.0 1264.2 L1012.0 1264.1 L1013.0 1263.9 L1014.0 1263.6 L1015.0 1263.2 L1016.0 1263.1 L1017.0 1263.2 L1018.0 1263.3 L1019.0 1263.3 L1020.0 1263.4 L1021.0 1263.6 L1022.0 1263.8 L1023.0 1263.7 L1024.0 1263.5 L1025.0 1263.3 L1026.0 1263.2 L1027.0 1263.1 L1028.0 1263.1 L1029.0 1263.5 L1030.0 1264.0 L1031.0 1264.2 L1032.0 1264.1 L1033.0 1264.1 L1034.0 1264.1 L1035.0 1263.9 L1036.0 1263.7 L1037.0 1263.4 L1038.0 1263.3 L1039.0 1263.3 L1040.0 1263.4 L1041.0 1263.4 L1042.0 1263.3 L1043.0 1263.2 L1044.0 1263.2 L1045.0 1263.1 L1046.0 1263.1 L1047.0 1263.1 L1048.0 1263.1 L1049.0 1263.0 L1050.0 1262.9 L1051.0 1262.9 L1052.0 1263.0 L1053.0 1263.2 L1054.0 1263.3 L1055.0 1263.3 L1056.0 1263.3 L1057.0 1263.3 L1058.0 1263.3 L1059.0 1263.3 L1060.0 1263.2 L1061.0 1263.2 L1062.0 1263.1 L1063.0 1263.0 L1064.0 1262.9 L1065.0 1262.9 L1066.0 1262.8 L1067.0 1262.8 L1068.0 1262.8 L1069.0 1262.9 L1070.0 1262.9 L1071.0 1263.0 L1072.0 1263.1 L1073.0 1263.1 L1074.0 1263.1 L1075.0 1263.0 L1076.0 1263.0 L1077.0 1263.0 L1078.0 1262.9 L1079.0 1262.9 L1080.0 1262.8 L1081.0 1262.7 L1082.0 1262.5 L1083.0 1262.4 L1084.0 1262.4 L1085.0 1262.4 L1086.0 1262.5 L1087.0 1262.6 L1088.0 1262.8 L1089.0 1262.9 L1090.0 1262.9 L1091.0 1262.9 L1092.0 1262.8 L1093.0 1262.9 L1094.0 1263.3 L1095.0 1263.7 L1096.0 1263.9 L1097.0 1263.8 L1098.0 1263.7 L1099.0 1263.8 L1100.0 1264.0 L1101.0 1263.9 L1102.0 1263.8 L1103.0 1263.6 L1104.0 1263.4 L1105.0 1263.2 L1106.0 1263.1 L1107.0 1263.2 L1108.0 1263.3 L1109.0 1263.3 L1110.0 1263.2 L1111.0 1263.0 L1112.0 1262.9 L1113.0 1262.9 L1114.0 1262.9 L1115.0 1262.8 L1116.0 1262.7 L1117.0 1262.6 L1118.0 1262.5 L1119.0 1262.4 L1120.0 1262.3 L1121.0 1262.2 L1122.0 1262.2 L1123.0 1262.2 L1124.0 1262.2 L1125.0 1262.2 L1126.0 1262.2 L1127.0 1262.3 L1128.0 1262.4 L1129.0 1262.7 L1130.0 1263.0 L1131.0 1263.0 L1132.0 1262.9 L1133.0 1262.8 L1134.0 1262.8 L1135.0 1262.9 L1136.0 1262.9 L1137.0 1262.8 L1138.0 1262.7 L1139.0 1262.6 L1140.0 1262.5 L1141.0 1262.5 L1142.0 1262.6 L1143.0 1262.7 L1144.0 1262.7 L1145.0 1262.7 L1146.0 1262.8 L1147.0 1262.9 L1148.0 1262.9 L1149.0 1262.8 L1150.0 1262.7 L1151.0 1262.9 L1152.0 1263.3 L1153.0 1263.8 L1154.0 1264.2 L1155.0 1264.3 L1156.0 1264.2 L1157.0 1263.9 L1158.0 1263.7 L1159.0 1263.5 L1160.0 1263.4 L1161.0 1263.4 L1162.0 1263.4 L1163.0 1263.2 L1164.0 1263.0 L1165.0 1262.7 L1166.0 1262.5 L1167.0 1262.3 L1168.0 1262.2 L1169.0 1262.1 L1170.0 1261.9 L1171.0 1261.7 L1172.0 1261.5 L1173.0 1261.6 L1174.0 1261.9 L1175.0 1262.1 L1176.0 1262.1 L1177.0 1262.2 L1178.0 1262.2 L1179.0 1262.3 L1180.0 1262.5 L1181.0 1262.6 L1182.0 1262.6 L1183.0 1262.6 L1184.0 1262.6 L1185.0 1262.5 L1186.0 1262.3 L1187.0 1262.0 L1188.0 1261.9 L1189.0 1261.8 L1190.0 1261.7 L1191.0 1261.7 L1192.0 1261.9 L1193.0 1262.2 L1194.0 1262.5 L1195.0 1262.7 L1196.0 1262.7 L1197.0 1262.7 L1198.0 1262.7 L1199.0 1262.6 L1200.0 1262.4 L1201.0 1262.2 L1202.0 1262.1 L1203.0 1262.0 L1204.0 1262.0 L1205.0 1262.1 L1206.0 1262.3 L1207.0 1262.4 L1208.0 1262.6 L1209.0 1262.8 L1210.0 1262.6 L1211.0 1262.0 L1212.0 1261.4 L1213.0 1261.3 L1214.0 1261.6 L1215.0 1262.0 L1216.0 1262.3 L1217.0 1262.4 L1218.0 1262.5 L1219.0 1262.5 L1220.0 1262.4 L1221.0 1262.4 L1222.0 1262.5 L1223.0 1262.8 L1224.0 1263.1 L1225.0 1263.2 L1226.0 1263.2 L1227.0 1263.2 L1228.0 1263.2 L1229.0 1263.0 L1230.0 1262.9 L1231.0 1263.0 L1232.0 1263.2 L1233.0 1263.2 L1234.0 1263.1 L1235.0 1262.9 L1236.0 1262.6 L1237.0 1262.3 L1238.0 1262.3 L1239.0 1262.4 L1240.0 1262.4 L1241.0 1262.2 L1242.0 1261.7 L1243.0 1261.2 L1244.0 1260.9 L1245.0 1261.0 L1246.0 1261.4 L1247.0 1261.7 L1248.0 1261.8 L1249.0 1261.9 L1250.0 1262.0 L1251.0 1261.9 L1252.0 1261.7 L1253.0 1261.6 L1254.0 1261.8 L1255.0 1262.0 L1256.0 1262.1 L1257.0 1262.0 L1258.0 1261.8 L1259.0 1261.6 L1260.0 1261.1 L1261.0 1260.6 L1262.0 1260.1 L1263.0 1259.9 L1264.0 1260.2 L1265.0 1260.8 L1266.0 1261.4 L1267.0 1261.6 L1268.0 1261.6 L1269.0 1261.4 L1270.0 1261.2 L1271.0 1260.9 L1272.0 1260.6 L1273.0 1260.8 L1274.0 1261.4 L1275.0 1262.0 L1276.0 1262.1 L1277.0 1262.0 L1278.0 1261.8 L1279.0 1261.7 L1280.0 1261.6 L1281.0 1261.6 L1282.0 1261.7 L1283.0 1261.9 L1284.0 1262.1 L1285.0 1262.0 L1286.0 1261.8 L1287.0 1261.4 L1288.0 1261.1 L1289.0 1260.9 L1290.0 1260.9 L1291.0 1261.2 L1292.0 1261.5 L1293.0 1261.6 L1294.0 1261.5 L1295.0 1261.2 L1296.0 1260.9 L1297.0 1260.8 L1298.0 1260.7 L1299.0 1260.6 L1300.0 1260.4 L1301.0 1260.3 L1302.0 1260.3 L1303.0 1260.4 L1304.0 1260.5 L1305.0 1260.6 L1306.0 1260.7 L1307.0 1260.9 L1308.0 1261.0 L1309.0 1260.9 L1310.0 1260.6 L1311.0 1260.4 L1312.0 1260.3 L1313.0 1260.4 L1314.0 1260.6 L1315.0 1260.9 L1316.0 1261.0 L1317.0 1261.0 L1318.0 1260.7 L1319.0 1260.3 L1320.0 1260.1 L1321.0 1260.1 L1322.0 1260.3 L1323.0 1260.6 L1324.0 1260.5 L1325.0 1260.4 L1326.0 1260.2 L1327.0 1260.1 L1328.0 1260.3 L1329.0 1260.6 L1330.0 1260.8 L1331.0 1260.9 L1332.0 1260.7 L1333.0 1260.6 L1334.0 1260.6 L1335.0 1260.5 L1336.0 1260.3 L1337.0 1260.1 L1338.0 1260.1 L1339.0 1260.2 L1340.0 1260.3 L1341.0 1260.4 L1342.0 1260.5 L1343.0 1260.5 L1344.0 1260.4 L1345.0 1260.3 L1346.0 1260.4 L1347.0 1260.5 L1348.0 1260.5 L1349.0 1260.4 L1350.0 1260.3 L1351.0 1260.2 L1352.0 1260.0 L1353.0 1259.7 L1354.0 1259.5 L1355.0 1259.4 L1356.0 1259.8 L1357.0 1260.3 L1358.0 1260.7 L1359.0 1261.1 L1360.0 1261.3 L1361.0 1261.2 L1362.0 1261.0 L1363.0 1261.0 L1364.0 1261.0 L1365.0 1261.0 L1366.0 1261.2 L1367.0 1261.3 L1368.0 1261.2 L1369.0 1260.8 L1370.0 1260.3 L1371.0 1260.0 L1372.0 1259.8 L1373.0 1259.8 L1374.0 1259.7 L1375.0 1259.7 L1376.0 1259.9 L1377.0 1260.1 L1378.0 1260.2 L1379.0 1260.0 L1380.0 1259.7 L1381.0 1259.7 L1382.0 1259.9 L1383.0 1260.2 L1384.0 1260.3 L1385.0 1260.3 L1386.0 1260.2 L1387.0 1260.1 L1388.0 1260.2 L1389.0 1260.3 L1390.0 1260.5 L1391.0 1260.7 L1392.0 1260.7 L1393.0 1260.6 L1394.0 1260.3 L1395.0 1260.1 L1396.0 1260.0 L1397.0 1259.9 L1398.0 1259.9 L1399.0 1260.0 L1400.0 1260.2 L1401.0 1260.2 L1402.0 1260.1 L1403.0 1260.0 L1404.0 1260.2 L1405.0 1260.6 L1406.0 1261.0 L1407.0 1261.1 L1408.0 1260.9 L1409.0 1260.5 L1410.0 1260.1 L1411.0 1259.8 L1412.0 1259.7 L1413.0 1259.7 L1414.0 1259.6 L1415.0 1259.5 L1416.0 1259.3 L1417.0 1259.3 L1418.0 1259.3 L1419.0 1259.4 L1420.0 1259.5 L1421.0 1259.8 L1422.0 1259.8 L1423.0 1259.7 L1424.0 1259.6 L1425.0 1259.6 L1426.0 1259.8 L1427.0 1259.9 L1428.0 1259.8 L1429.0 1259.6 L1430.0 1259.4 L1431.0 1259.1 L1432.0 1258.8 L1433.0 1258.6 L1434.0 1258.3 L1435.0 1258.1 L1436.0 1257.8 L1437.0 1257.6 L1438.0 1257.5 L1439.0 1257.4 L1440.0 1257.3 L1441.0 1257.2 L1442.0 1257.2 L1443.0 1257.2 L1444.0 1257.1 L1445.0 1257.0 L1446.0 1256.9 L1447.0 1256.9 L1448.0 1257.0 L1449.0 1257.0 L1450.0 1256.9 L1451.0 1256.8 L1452.0 1256.6 L1453.0 1256.5 L1454.0 1256.3 L1455.0 1256.0 L1456.0 1255.8 L1457.0 1255.5 L1458.0 1255.2 L1459.0 1254.9 L1460.0 1254.5 L1461.0 1254.1 L1462.0 1253.7 L1463.0 1253.3 L1464.0 1252.9 L1465.0 1252.4 L1466.0 1252.0 L1467.0 1251.5 L1468.0 1251.0 L1469.0 1250.6 L1470.0 1250.1 L1471.0 1249.6 L1472.0 1249.0 L1473.0 1248.5 L1474.0 1247.9 L1475.0 1247.3 L1476.0 1246.6 L1477.0 1246.0 L1478.0 1245.3 L1479.0 1244.6 L1480.0 1243.8 L1481.0 1243.1 L1482.0 1242.3 L1483.0 1241.5 L1484.0 1240.7 L1485.0 1239.8 L1486.0 1238.8 L1487.0 1237.9 L1488.0 1236.9 L1489.0 1235.9 L1490.0 1234.8 L1491.0 1233.8 L1492.0 1232.7 L1493.0 1231.6 L1494.0 1230.5 L1495.0 1229.5 L1496.0 1228.4 L1497.0 1227.4 L1498.0 1226.3 L1499.0 1225.3 L1500.0 1224.2 L1501.0 1223.2 L1502.0 1222.1 L1503.0 1221.1 L1504.0 1220.1 L1505.0 1219.0 L1506.0 1218.0 L1507.0 1217.1 L1508.0 1216.1 L1509.0 1215.2 L1510.0 1214.4 L1511.0 1213.5 L1512.0 1212.6 L1513.0 1211.7 L1514.0 1210.9 L1515.0 1210.0 L1516.0 1209.1 L1517.0 1208.3 L1518.0 1207.5 L1519.0 1206.7 L1520.0 1206.1 L1521.0 1205.5 L1522.0 1204.9 L1523.0 1204.5 L1524.0 1204.1 L1525.0 1203.9 L1526.0 1203.8 L1527.0 1203.9 L1528.0 1204.1 L1529.0 1204.3 L1530.0 1204.6 L1531.0 1205.1 L1532.0 1205.5 L1533.0 1206.0 L1534.0 1206.6 L1535.0 1207.1 L1536.0 1207.7 L1537.0 1208.3 L1538.0 1208.9 L1539.0 1209.5 L1540.0 1210.2 L1541.0 1210.9 L1542.0 1211.6 L1543.0 1212.4 L1544.0 1213.3 L1545.0 1214.1 L1546.0 1215.0 L1547.0 1215.9 L1548.0 1216.8 L1549.0 1217.8 L1550.0 1218.7 L1551.0 1219.7 L1552.0 1220.7 L1553.0 1221.8 L1554.0 1222.9 L1555.0 1224.0 L1556.0 1225.1 L1557.0 1226.1 L1558.0 1227.1 L1559.0 1228.0 L1560.0 1228.8 L1561.0 1229.5 L1562.0 1230.2 L1563.0 1230.9 L1564.0 1231.5 L1565.0 1232.2 L1566.0 1232.8 L1567.0 1233.4 L1568.0 1234.0 L1569.0 1234.6 L1570.0 1235.2 L1571.0 1235.7 L1572.0 1236.2 L1573.0 1236.6 L1574.0 1237.0 L1575.0 1237.4 L1576.0 1237.7 L1577.0 1238.0 L1578.0 1238.2 L1579.0 1238.4 L1580.0 1238.4 L1581.0 1238.4 L1582.0 1238.3 L1583.0 1238.2 L1584.0 1237.9 L1585.0 1237.6 L1586.0 1237.2 L1587.0 1236.7 L1588.0 1236.2 L1589.0 1235.7 L1590.0 1235.1 L1591.0 1234.4 L1592.0 1233.8 L1593.0 1233.1 L1594.0 1232.5 L1595.0 1231.8 L1596.0 1231.1 L1597.0 1230.4 L1598.0 1229.7 L1599.0 1229.0 L1600.0 1228.2 L1601.0 1227.4 L1602.0 1226.5 L1603.0 1225.6 L1604.0 1224.7 L1605.0 1223.7 L1606.0 1222.7 L1607.0 1221.6 L1608.0 1220.6 L1609.0 1219.4 L1610.0 1218.3 L1611.0 1217.0 L1612.0 1215.6 L1613.0 1214.2 L1614.0 1212.7 L1615.0 1211.2 L1616.0 1209.7 L1617.0 1208.3 L1618.0 1207.0 L1619.0 1205.8 L1620.0 1204.7 L1621.0 1203.6 L1622.0 1202.5 L1623.0 1201.5 L1624.0 1200.6 L1625.0 1199.7 L1626.0 1199.0 L1627.0 1198.5 L1628.0 1198.0 L1629.0 1197.8 L1630.0 1197.9 L1631.0 1198.3 L1632.0 1198.8 L1633.0 1199.4 L1634.0 1200.2 L1635.0 1201.1 L1636.0 1202.1 L1637.0 1203.1 L1638.0 1204.2 L1639.0 1205.3 L1640.0 1206.4 L1641.0 1207.6 L1642.0 1208.8 L1643.0 1210.0 L1644.0 1211.4 L1645.0 1212.8 L1646.0 1214.3 L1647.0 1215.9 L1648.0 1217.4 L1649.0 1218.9 L1650.0 1220.3 L1651.0 1221.7 L1652.0 1223.0 L1653.0 1224.3 L1654.0 1225.5 L1655.0 1226.7 L1656.0 1227.9 L1657.0 1229.0 L1658.0 1230.1 L1659.0 1231.2 L1660.0 1232.2 L1661.0 1233.1 L1662.0 1234.1 L1663.0 1234.9 L1664.0 1235.8 L1665.0 1236.6 L1666.0 1237.3 L1667.0 1238.1 L1668.0 1238.8 L1669.0 1239.5 L1670.0 1240.1 L1671.0 1240.7 L1672.0 1241.2 L1673.0 1241.7 L1674.0 1242.2 L1675.0 1242.6 L1676.0 1242.9 L1677.0 1243.3 L1678.0 1243.6 L1679.0 1243.9 L1680.0 1244.1 L1681.0 1244.4 L1682.0 1244.7 L1683.0 1245.1 L1684.0 1245.5 L1685.0 1246.1 L1686.0 1246.7 L1687.0 1247.4 L1688.0 1248.2 L1689.0 1249.0 L1690.0 1249.8 L1691.0 1250.5 L1692.0 1251.1 L1693.0 1251.6 L1694.0 1252.0 L1695.0 1252.3 L1696.0 1252.6 L1697.0 1252.9 L1698.0 1253.2 L1699.0 1253.4 L1700.0 1253.7 L1701.0 1254.0 L1702.0 1254.3 L1703.0 1254.5 L1704.0 1254.6 L1705.0 1254.8 L1706.0 1255.0 L1707.0 1255.2 L1708.0 1255.5 L1709.0 1255.7 L1710.0 1255.9 L1711.0 1256.1 L1712.0 1256.3 L1713.0 1256.5 L1714.0 1256.7 L1715.0 1256.9 L1716.0 1257.2 L1717.0 1257.5 L1718.0 1257.8 L1719.0 1258.0 L1720.0 1258.3 L1721.0 1258.6 L1722.0 1258.8 L1723.0 1258.9 L1724.0 1259.1 L1725.0 1259.3 L1726.0 1259.4 L1727.0 1259.4 L1728.0 1259.4 L1729.0 1259.4 L1730.0 1259.4 L1731.0 1259.3 L1732.0 1259.3 L1733.0 1259.3 L1734.0 1259.4 L1735.0 1259.6 L1736.0 1259.7 L1737.0 1259.7 L1738.0 1259.6 L1739.0 1259.6 L1740.0 1259.7 L1741.0 1259.8 L1742.0 1259.7 L1743.0 1259.5 L1744.0 1259.4 L1745.0 1259.6 L1746.0 1259.9 L1747.0 1260.2 L1748.0 1260.3 L1749.0 1260.4 L1750.0 1260.4 L1751.0 1260.2 L1752.0 1259.9 L1753.0 1259.5 L1754.0 1259.5 L1755.0 1259.8 L1756.0 1260.1 L1757.0 1260.2 L1758.0 1260.1 L1759.0 1259.9 L1760.0 1259.8 L1761.0 1259.5 L1762.0 1259.1 L1763.0 1258.8 L1764.0 1258.9 L1765.0 1259.2 L1766.0 1259.2 L1767.0 1259.0 L1768.0 1258.9 L1769.0 1258.9 L1770.0 1259.0 L1771.0 1259.0 L1772.0 1258.8 L1773.0 1258.5 L1774.0 1258.4 L1775.0 1258.5 L1776.0 1258.6 L1777.0 1258.7 L1778.0 1258.7 L1779.0 1258.5 L1780.0 1258.4 L1781.0 1258.4 L1782.0 1258.4 L1783.0 1258.5 L1784.0 1258.8 L1785.0 1259.0 L1786.0 1259.0 L1787.0 1258.8 L1788.0 1258.6 L1789.0 1258.7 L1790.0 1258.8 L1791.0 1259.1 L1792.0 1259.3 L1793.0 1259.5 L1794.0 1259.6 L1795.0 1259.8 L1796.0 1259.9 L1797.0 1259.9 L1798.0 1259.9 L1799.0 1259.9 L1800.0 1259.8 L1801.0 1259.6 L1802.0 1259.5 L1803.0 1259.4 L1804.0 1259.3 L1805.0 1259.5 L1806.0 1259.8 L1807.0 1260.0 L1808.0 1259.8 L1809.0 1259.5 L1810.0 1259.2 L1811.0 1259.2 L1812.0 1259.3 L1813.0 1259.2 L1814.0 1258.9 L1815.0 1258.7 L1816.0 1258.7 L1817.0 1258.7 L1818.0 1258.6 L1819.0 1258.3 L1820.0 1258.0 L1821.0 1257.7 L1822.0 1257.7 L1823.0 1257.7 L1824.0 1257.7 L1825.0 1257.7 L1826.0 1257.7 L1827.0 1257.8 L1828.0 1257.8 L1829.0 1257.7 L1830.0 1257.4 L1831.0 1257.0 L1832.0 1256.8 L1833.0 1256.8 L1834.0 1256.7 L1835.0 1256.4 L1836.0 1256.0 L1837.0 1255.6 L1838.0 1255.2 L1839.0 1254.7 L1840.0 1254.2 L1841.0 1253.7 L1842.0 1253.2 L1843.0 1252.7 L1844.0 1252.2 L1845.0 1251.7 L1846.0 1251.3 L1847.0 1250.8 L1848.0 1250.3 L1849.0 1249.9 L1850.0 1249.4 L1851.0 1248.9 L1852.0 1248.4 L1853.0 1247.9 L1854.0 1247.3 L1855.0 1246.8 L1856.0 1246.3 L1857.0 1245.8 L1858.0 1245.3 L1859.0 1244.8 L1860.0 1244.4 L1861.0 1243.9 L1862.0 1243.4 L1863.0 1243.0 L1864.0 1242.5 L1865.0 1242.1 L1866.0 1241.5 L1867.0 1241.0 L1868.0 1240.4 L1869.0 1239.8 L1870.0 1239.1 L1871.0 1238.3 L1872.0 1237.5 L1873.0 1236.6 L1874.0 1235.5 L1875.0 1234.5 L1876.0 1233.4 L1877.0 1232.3 L1878.0 1231.2 L1879.0 1230.2 L1880.0 1229.1 L1881.0 1228.2 L1882.0 1227.3 L1883.0 1226.4 L1884.0 1225.5 L1885.0 1224.7 L1886.0 1223.8 L1887.0 1222.9 L1888.0 1222.0 L1889.0 1221.2 L1890.0 1220.3 L1891.0 1219.5 L1892.0 1218.8 L1893.0 1218.0 L1894.0 1217.4 L1895.0 1216.8 L1896.0 1216.3 L1897.0 1215.8 L1898.0 1215.5 L1899.0 1215.2 L1900.0 1215.0 L1901.0 1214.9 L1902.0 1215.0 L1903.0 1215.2 L1904.0 1215.5 L1905.0 1215.8 L1906.0 1216.2 L1907.0 1216.6 L1908.0 1217.0 L1909.0 1217.5 L1910.0 1218.0 L1911.0 1218.6 L1912.0 1219.1 L1913.0 1219.7 L1914.0 1220.3 L1915.0 1220.9 L1916.0 1221.6 L1917.0 1222.3 L1918.0 1223.2 L1919.0 1224.1 L1920.0 1225.0 L1921.0 1226.1 L1922.0 1227.2 L1923.0 1228.3 L1924.0 1229.4 L1925.0 1230.5 L1926.0 1231.7 L1927.0 1232.8 L1928.0 1233.9 L1929.0 1234.9 L1930.0 1235.9 L1931.0 1236.8 L1932.0 1237.7 L1933.0 1238.6 L1934.0 1239.5 L1935.0 1240.3 L1936.0 1241.2 L1937.0 1242.0 L1938.0 1242.9 L1939.0 1243.7 L1940.0 1244.5 L1941.0 1245.2 L1942.0 1246.0 L1943.0 1246.7 L1944.0 1247.3 L1945.0 1248.0 L1946.0 1248.6 L1947.0 1249.1 L1948.0 1249.7 L1949.0 1250.2 L1950.0 1250.6 L1951.0 1251.1 L1952.0 1251.6 L1953.0 1252.0 L1954.0 1252.5 L1955.0 1252.9 L1956.0 1253.3 L1957.0 1253.7 L1958.0 1254.1 L1959.0 1254.5 L1960.0 1254.9 L1961.0 1255.3 L1962.0 1255.6 L1963.0 1255.9 L1964.0 1256.2 L1965.0 1256.5 L1966.0 1256.8 L1967.0 1257.1 L1968.0 1257.3 L1969.0 1257.6 L1970.0 1257.8 L1971.0 1258.0 L1972.0 1258.2 L1973.0 1258.4 L1974.0 1258.6 L1975.0 1258.8 L1976.0 1258.9 L1977.0 1259.0 L1978.0 1259.1 L1979.0 1259.2 L1980.0 1259.4 L1981.0 1259.7 L1982.0 1259.9 L1983.0 1260.0 L1984.0 1260.0 L1985.0 1260.0 L1986.0 1260.0 L1987.0 1260.0 L1988.0 1260.0 L1989.0 1259.9 L1990.0 1259.9 L1991.0 1260.1 L1992.0 1260.3 L1993.0 1260.6 L1994.0 1260.8 L1995.0 1261.1 L1996.0 1261.3 L1997.0 1261.6 L1998.0 1261.7 L1999.0 1261.8 L2000.0 1261.9 L2001.0 1262.0 L2002.0 1262.0 L2003.0 1261.9 L2004.0 1261.9 L2005.0 1262.1 L2006.0 1262.5 L2007.0 1262.9 L2008.0 1263.1 L2009.0 1263.0 L2010.0 1262.7 L2011.0 1262.6 L2012.0 1262.6 L2013.0 1263.0 L2014.0 1263.3 L2015.0 1263.5 L2016.0 1263.5 L2017.0 1263.3 L2018.0 1263.1 L2019.0 1263.1 L2020.0 1263.1 L2021.0 1262.9 L2022.0 1262.8 L2023.0 1262.8 L2024.0 1262.9 L2025.0 1263.0 L2026.0 1263.1 L2027.0 1263.2 L2028.0 1263.2 L2029.0 1263.0 L2030.0 1262.9 L2031.0 1262.8 L2032.0 1262.8 L2033.0 1263.0 L2034.0 1263.2 L2035.0 1263.3 L2036.0 1263.3 L2037.0 1263.3 L2038.0 1263.3 L2039.0 1263.3 L2040.0 1263.2 L2041.0 1262.9 L2042.0 1262.5 L2043.0 1262.2 L2044.0 1262.3 L2045.0 1262.5 L2046.0 1262.6 L2047.0 1262.6 L2048.0 1262.4 L2049.0 1262.2 L2050.0 1262.2 L2051.0 1262.4 L2052.0 1262.8 L2053.0 1263.2 L2054.0 1263.5 L2055.0 1263.8 L2056.0 1263.8 L2057.0 1263.6 L2058.0 1263.3 L2059.0 1263.2 L2060.0 1263.4 L2061.0 1263.9 L2062.0 1264.3 L2063.0 1264.5 L2064.0 1264.7 L2065.0 1265.0 L2066.0 1265.2 L2067.0 1265.1 L2068.0 1264.9 L2069.0 1264.5 L2070.0 1264.2 L2071.0 1264.0 L2072.0 1264.2 L2073.0 1264.5 L2074.0 1264.7 L2075.0 1264.7 L2076.0 1264.4 L2077.0 1263.9 L2078.0 1263.6 L2079.0 1263.6 L2080.0 1263.7 L2081.0 1263.7 L2082.0 1263.8 L2083.0 1264.1 L2084.0 1264.3 L2085.0 1264.3 L2086.0 1264.0 L2087.0 1263.7 L2088.0 1263.3 L2089.0 1263.0 L2090.0 1262.7 L2091.0 1262.6 L2092.0 1262.6 L2093.0 1262.7 L2094.0 1262.7 L2095.0 1262.7 L2096.0 1262.6 L2097.0 1262.5 L2098.0 1262.4 L2099.0 1262.4 L2100.0 1262.4 L2101.0 1262.7 L2102.0 1263.2 L2103.0 1263.5 L2104.0 1263.3 L2105.0 1262.9 L2106.0 1262.5 L2107.0 1262.4 L2108.0 1262.5 L2109.0 1262.6 L2110.0 1262.7 L2111.0 1262.7 L2112.0 1262.7 L2113.0 1262.6 L2114.0 1262.5 L2115.0 1262.3 L2116.0 1262.2 L2117.0 1262.2 L2118.0 1262.1 L2119.0 1262.1 L2120.0 1262.1 L2121.0 1262.1 L2122.0 1262.0 L2123.0 1262.0 L2124.0 1262.1 L2125.0 1262.3 L2126.0 1262.3 L2127.0 1262.2 L2128.0 1262.0 L2129.0 1261.6 L2130.0 1261.2 L2131.0 1260.9 L2132.0 1260.9 L2133.0 1261.1 L2134.0 1261.4 L2135.0 1261.5 L2136.0 1261.6 L2137.0 1261.6 L2138.0 1261.5 L2139.0 1261.5 L2140.0 1261.5 L2141.0 1261.5 L2142.0 1261.4 L2143.0 1261.1 L2144.0 1260.7 L2145.0 1260.5 L2146.0 1260.4 L2147.0 1260.3 L2148.0 1260.1 L2149.0 1259.9 L2150.0 1259.6 L2151.0 1259.4 L2152.0 1259.1 L2153.0 1259.0 L2154.0 1258.8 L2155.0 1258.6 L2156.0 1258.3 L2157.0 1258.0 L2158.0 1257.6 L2159.0 1257.2 L2160.0 1256.8 L2161.0 1256.5 L2162.0 1256.0 L2163.0 1255.5 L2164.0 1254.8 L2165.0 1254.0 L2166.0 1253.0 L2167.0 1251.8 L2168.0 1250.2 L2169.0 1248.3 L2170.0 1245.9 L2171.0 1242.9 L2172.0 1239.2 L2173.0 1234.8 L2174.0 1229.4 L2175.0 1223.1 L2176.0 1215.8 L2177.0 1207.6 L2178.0 1198.6 L2179.0 1189.0 L2180.0 1179.1 L2181.0 1169.3 L2182.0 1160.4 L2183.0 1152.9 L2184.0 1147.7 L2185.0 1145.4 L2186.0 1146.4 L2187.0 1150.5 L2188.0 1157.2 L2189.0 1165.7 L2190.0 1175.2 L2191.0 1185.1 L2192.0 1194.9 L2193.0 1204.2 L2194.0 1212.8 L2195.0 1220.4 L2196.0 1227.1 L2197.0 1232.9 L2198.0 1237.7 L2199.0 1241.7 L2200.0 1245.0 L2201.0 1247.6 L2202.0 1249.7 L2203.0 1251.4 L2204.0 1252.8 L2205.0 1253.8 L2206.0 1254.7 L2207.0 1255.5 L2208.0 1256.1 L2209.0 1256.6 L2210.0 1257.0 L2211.0 1257.4 L2212.0 1257.8 L2213.0 1258.1 L2214.0 1258.5 L2215.0 1258.8 L2216.0 1259.1 L2217.0 1259.3 L2218.0 1259.5 L2219.0 1259.7 L2220.0 1259.8 L2221.0 1259.9 L2222.0 1260.0 L2223.0 1260.1 L2224.0 1260.3 L2225.0 1260.4 L2226.0 1260.6 L2227.0 1260.7 L2228.0 1260.8 L2229.0 1260.9 L2230.0 1261.0 L2231.0 1261.0 L2232.0 1261.1 L2233.0 1261.2 L2234.0 1261.2 L2235.0 1261.3 L2236.0 1261.3 L2237.0 1261.4 L2238.0 1261.4 L2239.0 1261.4 L2240.0 1261.5 L2241.0 1261.6" stroke="#ff0000"/>
<path d="M212.0 1439.2 L213.0 1439.2 L214.0 1439.2 L215.0 1439.3 L216.0 1439.4 L217.0 1439.5 L218.0 1439.6 L219.0 1439.6 L220.0 1439.6 L221.0 1439.6 L222.0 1439.6 L223.0 1439.5 L224.0 1439.3 L225.0 1439.1 L226.0 1438.7 L227.0 1438.5 L228.0 1438.6 L229.0 1438.7 L230.0 1438.8 L231.0 1438.7 L232.0 1438.6 L233.0 1438.6 L234.0 1438.5 L235.0 1438.5 L236.0 1438.3 L237.0 1438.1 L238.0 1438.1 L239.0 1438.2 L240.0 1438.3 L241.0 1438.3 L242.0 1438.2 L243.0 1438.0 L244.0 1437.9 L245.0 1438.0 L246.0 1438.0 L247.0 1438.0 L248.0 1437.9 L249.0 1437.8 L250.0 1437.8 L251.0 1438.0 L252.0 1438.3 L253.0 1438.9 L254.0 1439.6 L255.0 1439.9 L256.0 1439.7 L257.0 1439.2 L258.0 1438.8 L259.0 1438.7 L260.0 1438.8 L261.0 1438.9 L262.0 1439.1 L263.0 1439.3 L264.0 1439.5 L265.0 1439.3 L266.0 1439.1 L267.0 1439.0 L268.0 1439.0 L269.0 1439.0 L270.0 1438.8 L271.0 1438.7 L272.0 1438.9 L273.0 1439.3 L274.0 1439.6 L275.0 1439.6 L276.0 1439.4 L277.0 1439.3 L278.0 1439.2 L279.0 1439.4 L280.0 1439.6 L281.0 1439.8 L282.0 1440.0 L283.0 1440.2 L284.0 1440.2 L285.0 1440.0 L286.0 1439.5 L287.0 1438.9 L288.0 1438.5 L289.0 1438.3 L290.0 1438.3 L291.0 1438.5 L292.0 1438.6 L293.0 1438.5 L294.0 1438.2 L295.0 1437.8 L296.0 1437.6 L297.0 1437.7 L298.0 1438.0 L299.0 1438.1 L300.0 1438.0 L301.0 1437.7 L302.0 1437.3 L303.0 1437.0 L304.0 1437.0 L305.0 1437.2 L306.0 1437.4 L307.0 1437.5 L308.0 1437.5 L309.0 1437.4 L310.0 1437.3 L311.0 1437.1 L312.0 1437.2 L313.0 1437.3 L314.0 1437.5 L315.0 1437.6 L316.0 1437.4 L317.0 1437.1 L318.0 1437.2 L319.0 1437.5 L320.0 1438.1 L321.0 1438.7 L322.0 1439.0 L323.0 1439.2 L324.0 1439.2 L325.0 1439.1 L326.0 1438.8 L327.0 1438.6 L328.0 1438.5 L329.0 1438.4 L330.0 1438.3 L331.0 1438.3 L332.0 1438.3 L333.0 1438.3 L334.0 1438.4 L335.0 1438.5 L336.0 1438.6 L337.0 1438.6 L338.0 1438.3 L339.0 1438.0 L340.0 1438.0 L341.0 1438.1 L342.0 1438.3 L343.0 1438.6 L344.0 1438.7 L345.0 1438.6 L346.0 1438.3 L347.0 1438.1 L348.0 1438.0 L349.0 1438.0 L350.0 1437.9 L351.0 1437.7 L352.0 1437.5 L353.0 1437.6 L354.0 1437.9 L355.0 1438.2 L356.0 1438.3 L357.0 1438.4 L358.0 1438.5 L359.0 1438.6 L360.0 1438.6 L361.0 1438.6 L362.0 1438.7 L363.0 1438.7 L364.0 1438.7 L365.0 1438.6 L366.0 1438.6 L367.0 1438.6 L368.0 1438.6 L369.0 1438.6 L370.0 1438.6 L371.0 1438.5 L372.0 1438.2 L373.0 1437.8 L374.0 1437.4 L375.0 1437.3 L376.0 1437.4 L377.0 1437.5 L378.0 1437.5 L379.0 1437.4 L380.0 1437.2 L381.0 1437.0 L382.0 1436.9 L383.0 1437.0 L384.0 1437.1 L385.0 1437.2 L386.0 1437.3 L387.0 1437.6 L388.0 1438.0 L389.0 1438.3 L390.0 1438.3 L391.0 1438.0 L392.0 1437.6 L393.0 1437.2 L394.0 1437.2 L395.0 1437.4 L396.0 1437.9 L397.0 1438.2 L398.0 1438.1 L399.0 1437.7 L400.0 1437.4 L401.0 1437.4 L402.0 1437.5 L403.0 1437.6 L404.0 1437.6 L405.0 1437.6 L406.0 1437.8 L407.0 1438.2 L408.0 1438.5 L409.0 1438.4 L410.0 1438.2 L411.0 1438.1 L412.0 1438.3 L413.0 1438.4 L414.0 1438.4 L415.0 1438.7 L416.0 1439.0 L417.0 1439.2 L418.0 1438.8 L419.0 1438.2 L420.0 1437.5 L421.0 1437.2 L422.0 1437.2 L423.0 1437.2 L424.0 1437.2 L425.0 1437.3 L426.0 1437.5 L427.0 1437.5 L428.0 1437.4 L429.0 1437.3 L430.0 1437.4 L431.0 1437.7 L432.0 1438.0 L433.0 1438.0 L434.0 1438.0 L435.0 1438.0 L436.0 1437.8 L437.0 1437.6 L438.0 1437.3 L439.0 1437.2 L440.0 1437.5 L441.0 1438.0 L442.0 1438.4 L443.0 1438.6 L444.0 1438.6 L445.0 1438.5 L446.0 1438.3 L447.0 1437.9 L448.0 1437.7 L449.0 1437.7 L450.0 1437.7 L451.0 1437.5 L452.0 1437.4 L453.0 1437.5 L454.0 1437.6 L455.0 1437.7 L456.0 1437.8 L457.0 1437.9 L458.0 1438.0 L459.0 1438.1 L460.0 1437.9 L461.0 1437.6 L462.0 1437.3 L463.0 1437.0 L464.0 1436.9 L465.0 1437.0 L466.0 1437.1 L467.0 1437.1 L468.0 1437.0 L469.0 1437.1 L470.0 1437.4 L471.0 1437.8 L472.0 1438.1 L473.0 1437.9 L474.0 1437.3 L475.0 1436.6 L476.0 1436.2 L477.0 1436.3 L478.0 1436.7 L479.0 1436.9 L480.0 1437.0 L481.0 1436.7 L482.0 1436.4 L483.0 1436.2 L484.0 1436.2 L485.0 1436.3 L486.0 1436.5 L487.0 1436.6 L488.0 1436.5 L489.0 1436.4 L490.0 1436.1 L491.0 1435.8 L492.0 1435.4 L493.0 1435.1 L494.0 1435.0 L495.0 1435.1 L496.0 1435.3 L497.0 1435.3 L498.0 1435.1 L499.0 1434.7 L500.0 1434.4 L501.0 1434.1 L502.0 1433.9 L503.0 1433.7 L504.0 1433.7 L505.0 1433.7 L506.0 1433.6 L507.0 1433.3 L508.0 1433.1 L509.0 1433.3 L510.0 1433.6 L511.0 1433.9 L512.0 1434.0 L513.0 1433.9 L514.0 1433.6 L515.0 1433.4 L516.0 1433.2 L517.0 1433.1 L518.0 1433.1 L519.0 1433.0 L520.0 1433.0 L521.0 1433.2 L522.0 1433.4 L523.0 1433.6 L524.0 1433.5 L525.0 1432.9 L526.0 1432.3 L527.0 1431.9 L528.0 1431.8 L529.0 1431.9 L530.0 1432.1 L531.0 1432.2 L532.0 1432.3 L533.0 1432.3 L534.0 1432.3 L535.0 1432.2 L536.0 1432.1 L537.0 1432.0 L538.0 1431.9 L539.0 1431.6 L540.0 1431.3 L541.0 1431.0 L542.0 1430.6 L543.0 1430.3 L544.0 1429.9 L545.0 1429.5 L546.0 1429.1 L547.0 1428.7 L548.0 1428.3 L549.0 1427.9 L550.0 1427.4 L551.0 1427.0 L552.0 1426.5 L553.0 1426.1 L554.0 1425.6 L555.0 1425.2 L556.0 1424.7 L557.0 1424.2 L558.0 1423.7 L559.0 1423.1 L560.0 1422.6 L561.0 1422.0 L562.0 1421.4 L563.0 1420.8 L564.0 1420.1 L565.0 1419.5 L566.0 1418.8 L567.0 1418.2 L568.0 1417.5 L569.0 1416.8 L570.0 1416.1 L571.0 1415.4 L572.0 1414.7 L573.0 1413.9 L574.0 1413.1 L575.0 1412.3 L576.0 1411.5 L577.0 1410.7 L578.0 1409.8 L579.0 1408.9 L580.0 1408.0 L581.0 1407.1 L582.0 1406.2 L583.0 1405.2 L584.0 1404.3 L585.0 1403.3 L586.0 1402.3 L587.0 1401.3 L588.0 1400.2 L589.0 1399.2 L590.0 1398.2 L591.0 1397.1 L592.0 1396.1 L593.0 1395.0 L594.0 1394.0 L595.0 1392.9 L596.0 1391.8 L597.0 1390.7 L598.0 1389.5 L599.0 1388.3 L600.0 1387.0 L601.0 1385.7 L602.0 1384.4 L603.0 1382.9 L604.0 1381.4 L605.0 1379.9 L606.0 1378.1 L607.0 1376.3 L608.0 1374.3 L609.0 1372.0 L610.0 1369.7 L611.0 1367.1 L612.0 1364.5 L613.0 1361.7 L614.0 1358.9 L615.0 1355.9 L616.0 1352.8 L617.0 1349.6 L618.0 1346.2 L619.0 1342.8 L620.0 1339.2 L621.0 1335.5 L622.0 1331.5 L623.0 1327.4 L624.0 1323.2 L625.0 1319.1 L626.0 1315.2 L627.0 1311.7 L628.0 1308.6 L629.0 1305.8 L630.0 1303.1 L631.0 1300.6 L632.0 1298.1 L633.0 1295.7 L634.0 1293.4 L635.0 1291.3 L636.0 1289.3 L637.0 1287.5 L638.0 1285.9 L639.0 1284.5 L640.0 1283.4 L641.0 1282.6 L642.0 1282.1 L643.0 1282.1 L644.0 1282.4 L645.0 1283.3 L646.0 1284.8 L647.0 1286.8 L648.0 1289.2 L649.0 1292.0 L650.0 1295.1 L651.0 1298.3 L652.0 1301.6 L653.0 1305.0 L654.0 1308.4 L655.0 1312.0 L656.0 1315.8 L657.0 1319.7 L658.0 1323.9 L659.0 1328.1 L660.0 1332.4 L661.0 1336.7 L662.0 1340.9 L663.0 1345.2 L664.0 1349.4 L665.0 1353.4 L666.0 1357.3 L667.0 1360.9 L668.0 1364.2 L669.0 1367.2 L670.0 1370.1 L671.0 1372.8 L672.0 1375.4 L673.0 1378.0 L674.0 1380.6 L675.0 1383.2 L676.0 1385.8 L677.0 1388.4 L678.0 1390.9 L679.0 1393.3 L680.0 1395.7 L681.0 1397.9 L682.0 1399.9 L683.0 1401.7 L684.0 1403.3 L685.0 1404.7 L686.0 1405.9 L687.0 1407.1 L688.0 1408.2 L689.0 1409.2 L690.0 1410.1 L691.0 1411.0 L692.0 1411.9 L693.0 1412.7 L694.0 1413.5 L695.0 1414.2 L696.0 1414.9 L697.0 1415.6 L698.0 1416.3 L699.0 1416.9 L700.0 1417.6 L701.0 1418.2 L702.0 1418.8 L703.0 1419.4 L704.0 1420.0 L705.0 1420.5 L706.0 1421.1 L707.0 1421.6 L708.0 1422.1 L709.0 1422.6 L710.0 1423.1 L711.0 1423.6 L712.0 1424.0 L713.0 1424.4 L714.0 1424.9 L715.0 1425.2 L716.0 1425.6 L717.0 1425.9 L718.0 1426.2 L719.0 1426.5 L720.0 1426.8 L721.0 1427.1 L722.0 1427.4 L723.0 1427.7 L724.0 1428.0 L725.0 1428.3 L726.0 1428.5 L727.0 1428.8 L728.0 1429.1 L729.0 1429.3 L730.0 1429.6 L731.0 1429.8 L732.0 1430.0 L733.0 1430.2 L734.0 1430.4 L735.0 1430.6 L736.0 1430.8 L737.0 1431.0 L738.0 1431.2 L739.0 1431.5 L740.0 1431.7 L741.0 1431.9 L742.0 1432.1 L743.0 1432.2 L744.0 1432.4 L745.0 1432.5 L746.0 1432.7 L747.0 1432.9 L748.0 1433.1 L749.0 1433.3 L750.0 1433.5 L751.0 1433.6 L752.0 1433.8 L753.0 1433.9 L754.0 1434.0 L755.0 1434.2 L756.0 1434.4 L757.0 1434.6 L758.0 1434.9 L759.0 1435.0 L760.0 1435.1 L761.0 1435.2 L762.0 1435.3 L763.0 1435.4 L764.0 1435.4 L765.0 1435.5 L766.0 1435.6 L767.0 1435.8 L768.0 1435.9 L769.0 1436.0 L770.0 1436.1 L771.0 1436.2 L772.0 1436.2 L773.0 1436.1 L774.0 1435.9 L775.0 1435.6 L776.0 1435.6 L777.0 1435.7 L778.0 1436.1 L779.0 1436.3 L780.0 1436.3 L781.0 1436.3 L782.0 1436.4 L783.0 1436.6 L784.0 1436.7 L785.0 1436.5 L786.0 1436.2 L787.0 1436.2 L788.0 1436.2 L789.0 1436.0 L790.0 1435.6 L791.0 1435.2 L792.0 1435.2 L793.0 1435.6 L794.0 1436.1 L795.0 1436.2 L796.0 1436.1 L797.0 1436.0 L798.0 1436.1 L799.0 1436.4 L800.0 1436.6 L801.0 1436.6 L802.0 1436.4 L803.0 1436.1 L804.0 1436.1 L805.0 1436.2 L806.0 1436.5 L807.0 1436.7 L808.0 1436.8 L809.0 1436.9 L810.0 1437.0 L811.0 1436.9 L812.0 1436.8 L813.0 1436.7 L814.0 1436.8 L815.0 1436.9 L816.0 1436.9 L817.0 1436.9 L818.0 1437.0 L819.0 1437.2 L820.0 1437.4 L821.0 1437.8 L822.0 1438.2 L823.0 1438.1 L824.0 1437.6 L825.0 1436.7 L826.0 1436.0 L827.0 1435.9 L828.0 1436.4 L829.0 1436.9 L830.0 1437.2 L831.0 1437.1 L832.0 1436.9 L833.0 1436.7 L834.0 1436.4 L835.0 1436.3 L836.0 1436.3 L837.0 1436.6 L838.0 1436.9 L839.0 1437.0 L840.0 1437.0 L841.0 1436.8 L842.0 1436.5 L843.0 1436.2 L844.0 1435.9 L845.0 1435.8 L846.0 1436.0 L847.0 1436.5 L848.0 1437.1 L849.0 1437.4 L850.0 1437.4 L851.0 1437.1 L852.0 1436.7 L853.0 1436.5 L854.0 1436.5 L855.0 1436.8 L856.0 1437.0 L857.0 1437.2 L858.0 1437.3 L859.0 1437.5 L860.0 1437.5 L861.0 1437.5 L862.0 1437.4 L863.0 1437.3 L864.0 1437.3 L865.0 1437.2 L866.0 1437.1 L867.0 1437.0 L868.0 1436.9 L869.0 1437.0 L870.0 1437.0 L871.0 1437.1 L872.0 1437.0 L873.0 1436.8 L874.0 1436.6 L875.0 1436.5 L876.0 1436.6 L877.0 1436.7 L878.0 1436.9 L879.0 1436.9 L880.0 1436.7 L881.0 1436.6 L882.0 1436.7 L883.0 1436.8 L884.0 1436.9 L885.0 1436.7 L886.0 1436.6 L887.0 1436.7 L888.0 1437.1 L889.0 1437.5 L890.0 1437.8 L891.0 1437.8 L892.0 1437.5 L893.0 1437.2 L894.0 1437.2 L895.0 1437.3 L896.0 1437.5 L897.0 1437.6 L898.0 1437.4 L899.0 1437.3 L900.0 1437.4 L901.0 1437.2 L902.0 1436.8 L903.0 1436.3 L904.0 1436.1 L905.0 1436.0 L906.0 1435.9 L907.0 1436.1 L908.0 1436.5 L909.0 1436.8 L910.0 1437.1 L911.0 1437.4 L912.0 1437.4 L913.0 1437.3 L914.0 1437.0 L915.0 1436.8 L916.0 1436.7 L917.0 1436.9 L918.0 1437.2 L919.0 1437.7 L920.0 1438.1 L921.0 1438.3 L922.0 1438.3 L923.0 1438.1 L924.0 1437.9 L925.0 1438.0 L926.0 1438.1 L927.0 1438.2 L928.0 1438.0 L929.0 1437.8 L930.0 1437.6 L931.0 1437.4 L932.0 1437.2 L933.0 1437.3 L934.0 1437.7 L935.0 1438.1 L936.0 1438.2 L937.0 1438.1 L938.0 1438.0 L939.0 1438.1 L940.0 1438.3 L941.0 1438.3 L942.0 1438.3 L943.0 1438.1 L944.0 1437.9 L945.0 1437.7 L946.0 1437.6 L947.0 1437.5 L948.0 1437.6 L949.0 1437.7 L950.0 1437.9 L951.0 1438.2 L952.0 1438.5 L953.0 1438.7 L954.0 1438.9 L955.0 1439.1 L956.0 1439.2 L957.0 1439.4 L958.0 1439.5 L959.0 1439.5 L960.0 1439.3 L961.0 1439.0 L962.0 1438.8 L963.0 1438.8 L964.0 1439.0 L965.0 1439.4 L966.0 1439.7 L967.0 1439.5 L968.0 1438.9 L969.0 1438.3 L970.0 1438.1 L971.0 1438.0 L972.0 1437.8 L973.0 1437.6 L974.0 1437.4 L975.0 1437.3 L976.0 1437.3 L977.0 1437.4 L978.0 1437.4 L979.0 1437.4 L980.0 1437.5 L981.0 1437.9 L982.0 1438.3 L983.0 1438.6 L984.0 1438.6 L985.0 1438.5 L986.0 1438.6 L987.0 1438.7 L988.0 1438.6 L989.0 1438.5 L990.0 1438.4 L991.0 1438.6 L992.0 1438.7 L993.0 1438.6 L994.0 1438.1 L995.0 1437.7 L996.0 1437.7 L997.0 1438.1 L998.0 1438.4 L999.0 1438.4 L1000.0 1438.1 L1001.0 1438.0 L1002.0 1438.0 L1003.0 1438.1 L1004.0 1438.1 L1005.0 1437.9 L1006.0 1437.7 L1007.0 1437.7 L1008.0 1437.9 L1009.0 1438.3 L1010.0 1438.6 L1011.0 1438.7 L1012.0 1438.7 L1013.0 1438.9 L1014.0 1439.1 L1015.0 1439.4 L1016.0 1439.8 L1017.0 1439.9 L1018.0 1439.8 L1019.0 1439.7 L1020.0 1439.6 L1021.0 1439.6 L1022.0 1439.7 L1023.0 1439.8 L1024.0 1439.8 L1025.0 1439.7 L1026.0 1439.5 L1027.0 1439.2 L1028.0 1439.4 L1029.0 1439.8 L1030.0 1440.0 L1031.0 1439.9 L1032.0 1439.6 L1033.0 1439.5 L1034.0 1439.5 L1035.0 1439.5 L1036.0 1439.3 L1037.0 1439.0 L1038.0 1438.8 L1039.0 1438.7 L1040.0 1438.5 L1041.0 1438.4 L1042.0 1438.4 L1043.0 1438.4 L1044.0 1438.4 L1045.0 1438.5 L1046.0 1438.5 L1047.0 1438.6 L1048.0 1438.6 L1049.0 1438.6 L1050.0 1438.5 L1051.0 1438.6 L1052.0 1438.7 L1053.0 1438.8 L1054.0 1438.8 L1055.0 1438.9 L1056.0 1438.8 L1057.0 1438.8 L1058.0 1438.8 L1059.0 1438.7 L1060.0 1438.7 L1061.0 1438.8 L1062.0 1438.9 L1063.0 1439.1 L1064.0 1439.1 L1065.0 1439.1 L1066.0 1439.0 L1067.0 1438.9 L1068.0 1438.8 L1069.0 1438.8 L1070.0 1438.9 L1071.0 1439.0 L1072.0 1439.0 L1073.0 1439.0 L1074.0 1438.9 L1075.0 1438.8 L1076.0 1438.7 L1077.0 1438.7 L1078.0 1438.6 L1079.0 1438.7 L1080.0 1438.8 L1081.0 1438.8 L1082.0 1438.8 L1083.0 1438.7 L1084.0 1438.7 L1085.0 1438.7 L1086.0 1438.9 L1087.0 1439.1 L1088.0 1439.2 L1089.0 1439.4 L1090.0 1439.5 L1091.0 1439.5 L1092.0 1439.7 L1093.0 1440.1 L1094.0 1440.5 L1095.0 1440.7 L1096.0 1440.4 L1097.0 1440.2 L1098.0 1440.2 L1099.0 1440.4 L1100.0 1440.6 L1101.0 1440.6 L1102.0 1440.4 L1103.0 1440.2 L1104.0 1440.1 L1105.0 1440.2 L1106.0 1440.1 L1107.0 1439.9 L1108.0 1439.6 L1109.0 1439.5 L1110.0 1439.5 L1111.0 1439.5 L1112.0 1439.5 L1113.0 1439.4 L1114.0 1439.2 L1115.0 1439.0 L1116.0 1439.0 L1117.0 1439.0 L1118.0 1439.0 L1119.0 1439.0 L1120.0 1439.0 L1121.0 1439.0 L1122.0 1439.0 L1123.0 1438.8 L1124.0 1438.7 L1125.0 1438.6 L1126.0 1438.6 L1127.0 1438.7 L1128.0 1438.7 L1129.0 1438.8 L1130.0 1439.0 L1131.0 1439.3 L1132.0 1439.5 L1133.0 1439.5 L1134.0 1439.2 L1135.0 1438.8 L1136.0 1438.3 L1137.0 1438.1 L1138.0 1437.9 L1139.0 1437.6 L1140.0 1437.5 L1141.0 1437.5 L1142.0 1437.8 L1143.0 1438.2 L1144.0 1438.4 L1145.0 1438.5 L1146.0 1438.5 L1147.0 1438.5 L1148.0 1438.6 L1149.0 1438.7 L1150.0 1438.6 L1151.0 1438.6 L1152.0 1438.5 L1153.0 1438.5 L1154.0 1438.5 L1155.0 1438.6 L1156.0 1438.6 L1157.0 1438.5 L1158.0 1438.3 L1159.0 1438.1 L1160.0 1438.0 L1161.0 1437.9 L1162.0 1437.9 L1163.0 1438.1 L1164.0 1438.5 L1165.0 1438.9 L1166.0 1439.2 L1167.0 1439.2 L1168.0 1439.0 L1169.0 1438.9 L1170.0 1438.8 L1171.0 1438.9 L1172.0 1439.1 L1173.0 1439.3 L1174.0 1439.2 L1175.0 1439.0 L1176.0 1438.8 L1177.0 1438.8 L1178.0 1439.0 L1179.0 1439.1 L1180.0 1438.9 L1181.0 1438.6 L1182.0 1438.6 L1183.0 1439.0 L1184.0 1439.6 L1185.0 1439.9 L1186.0 1439.9 L1187.0 1439.4 L1188.0 1438.8 L1189.0 1438.3 L1190.0 1438.0 L1191.0 1438.0 L1192.0 1438.1 L1193.0 1438.3 L1194.0 1438.5 L1195.0 1438.5 L1196.0 1438.5 L1197.0 1438.3 L1198.0 1438.0 L1199.0 1437.8 L1200.0 1437.7 L1201.0 1437.8 L1202.0 1438.2 L1203.0 1438.5 L1204.0 1438.6 L1205.0 1438.5 L1206.0 1438.4 L1207.0 1438.3 L1208.0 1438.2 L1209.0 1438.2 L1210.0 1438.4 L1211.0 1438.7 L1212.0 1439.1 L1213.0 1439.3 L1214.0 1439.2 L1215.0 1439.0 L1216.0 1439.1 L1217.0 1439.2 L1218.0 1439.1 L1219.0 1438.8 L1220.0 1438.6 L1221.0 1438.4 L1222.0 1438.3 L1223.0 1438.2 L1224.0 1438.2 L1225.0 1438.2 L1226.0 1438.2 L1227.0 1438.0 L1228.0 1437.8 L1229.0 1437.6 L1230.0 1437.7 L1231.0 1437.9 L1232.0 1438.2 L1233.0 1438.2 L1234.0 1438.0 L1235.0 1437.7 L1236.0 1437.5 L1237.0 1437.6 L1238.0 1437.7 L1239.0 1437.9 L1240.0 1438.0 L1241.0 1437.9 L1242.0 1438.0 L1243.0 1438.2 L1244.0 1438.4 L1245.0 1438.4 L1246.0 1438.2 L1247.0 1438.1 L1248.0 1438.0 L1249.0 1437.9 L1250.0 1437.7 L1251.0 1437.5 L1252.0 1437.3 L1253.0 1437.5 L1254.0 1437.7 L1255.0 1437.9 L1256.0 1438.0 L1257.0 1438.2 L1258.0 1438.5 L1259.0 1438.6 L1260.0 1438.3 L1261.0 1437.9 L1262.0 1437.8 L1263.0 1438.1 L1264.0 1438.4 L1265.0 1438.4 L1266.0 1438.2 L1267.0 1438.1 L1268.0 1438.0 L1269.0 1438.1 L1270.0 1438.1 L1271.0 1438.3 L1272.0 1438.3 L1273.0 1438.2 L1274.0 1437.9 L1275.0 1437.6 L1276.0 1437.5 L1277.0 1437.6 L1278.0 1437.8 L1279.0 1437.9 L1280.0 1437.7 L1281.0 1437.4 L1282.0 1437.1 L1283.0 1436.9 L1284.0 1436.8 L1285.0 1437.0 L1286.0 1437.4 L1287.0 1437.9 L1288.0 1438.3 L1289.0 1438.5 L1290.0 1438.6 L1291.0 1438.6 L1292.0 1438.4 L1293.0 1438.3 L1294.0 1438.2 L1295.0 1438.0 L1296.0 1437.6 L1297.0 1437.1 L1298.0 1436.6 L1299.0 1436.4 L1300.0 1436.2 L1301.0 1436.1 L1302.0 1436.1 L1303.0 1436.3 L1304.0 1436.7 L1305.0 1437.2 L1306.0 1437.5 L1307.0 1437.4 L1308.0 1437.0 L1309.0 1436.7 L1310.0 1436.6 L1311.0 1436.4 L1312.0 1436.2 L1313.0 1436.1 L1314.0 1436.3 L1315.0 1436.7 L1316.0 1437.1 L1317.0 1437.5 L1318.0 1437.6 L1319.0 1437.4 L1320.0 1437.0 L1321.0 1436.8 L1322.0 1436.9 L1323.0 1436.9 L1324.0 1436.8 L1325.0 1436.6 L1326.0 1436.4 L1327.0 1436.4 L1328.0 1436.3 L1329.0 1436.1 L1330.0 1435.9 L1331.0 1435.7 L1332.0 1435.6 L1333.0 1435.5 L1334.0 1435.4 L1335.0 1435.5 L1336.0 1435.7 L1337.0 1436.0 L1338.0 1436.3 L1339.0 1436.5 L1340.0 1436.8 L1341.0 1437.1 L1342.0 1437.5 L1343.0 1437.7 L1344.0 1437.6 L1345.0 1437.6 L1346.0 1437.8 L1347.0 1438.1 L1348.0 1438.1 L1349.0 1437.9 L1350.0 1437.6 L1351.0 1437.3 L1352.0 1437.2 L1353.0 1437.1 L1354.0 1437.0 L1355.0 1437.0 L1356.0 1437.0 L1357.0 1437.1 L1358.0 1437.3 L1359.0 1437.6 L1360.0 1437.8 L1361.0 1437.7 L1362.0 1437.5 L1363.0 1437.3 L1364.0 1437.2 L1365.0 1437.0 L1366.0 1436.8 L1367.0 1436.5 L1368.0 1436.3 L1369.0 1436.4 L1370.0 1436.7 L1371.0 1437.1 L1372.0 1437.2 L1373.0 1436.9 L1374.0 1436.5 L1375.0 1436.3 L1376.0 1436.4 L1377.0 1436.7 L1378.0 1436.9 L1379.0 1437.0 L1380.0 1437.0 L1381.0 1437.0 L1382.0 1437.1 L1383.0 1437.1 L1384.0 1437.0 L1385.0 1437.0 L1386.0 1437.2 L1387.0 1437.4 L1388.0 1437.5 L1389.0 1437.5 L1390.0 1437.4 L1391.0 1437.3 L1392.0 1437.0 L1393.0 1436.8 L1394.0 1436.8 L1395.0 1437.0 L1396.0 1437.1 L1397.0 1437.1 L1398.0 1437.2 L1399.0 1437.4 L1400.0 1437.7 L1401.0 1438.0 L1402.0 1438.3 L1403.0 1438.6 L1404.0 1438.8 L1405.0 1438.7 L1406.0 1438.5 L1407.0 1438.4 L1408.0 1438.5 L1409.0 1438.6 L1410.0 1438.6 L1411.0 1438.5 L1412.0 1438.6 L1413.0 1438.8 L1414.0 1439.1 L1415.0 1439.6 L1416.0 1440.0 L1417.0 1440.4 L1418.0 1440.5 L1419.0 1440.2 L1420.0 1439.7 L1421.0 1439.2 L1422.0 1438.8 L1423.0 1438.3 L1424.0 1437.8 L1425.0 1437.3 L1426.0 1436.7 L1427.0 1436.2 L1428.0 1435.7 L1429.0 1435.3 L1430.0 1434.8 L1431.0 1434.3 L1432.0 1433.9 L1433.0 1433.5 L1434.0 1433.2 L1435.0 1432.8 L1436.0 1432.4 L1437.0 1432.2 L1438.0 1431.9 L1439.0 1431.7 L1440.0 1431.5 L1441.0 1431.3 L1442.0 1431.2 L1443.0 1431.0 L1444.0 1430.8 L1445.0 1430.5 L1446.0 1430.3 L1447.0 1430.2 L1448.0 1430.1 L1449.0 1430.0 L1450.0 1429.9 L1451.0 1429.7 L1452.0 1429.5 L1453.0 1429.3 L1454.0 1429.2 L1455.0 1429.0 L1456.0 1428.8 L1457.0 1428.7 L1458.0 1428.5 L1459.0 1428.4 L1460.0 1428.2 L1461.0 1428.0 L1462.0 1427.8 L1463.0 1427.5 L1464.0 1427.3 L1465.0 1427.0 L1466.0 1426.8 L1467.0 1426.5 L1468.0 1426.2 L1469.0 1425.8 L1470.0 1425.4 L1471.0 1425.0 L1472.0 1424.5 L1473.0 1423.9 L1474.0 1423.3 L1475.0 1422.5 L1476.0 1421.8 L1477.0 1421.0 L1478.0 1420.2 L1479.0 1419.3 L1480.0 1418.5 L1481.0 1417.7 L1482.0 1416.9 L1483.0 1416.1 L1484.0 1415.2 L1485.0 1414.4 L1486.0 1413.6 L1487.0 1412.7 L1488.0 1411.9 L1489.0 1411.0 L1490.0 1410.1 L1491.0 1409.2 L1492.0 1408.3 L1493.0 1407.4 L1494.0 1406.4 L1495.0 1405.5 L1496.0 1404.6 L1497.0 1403.6 L1498.0 1402.7 L1499.0 1401.7 L1500.0 1400.7 L1501.0 1399.7 L1502.0 1398.6 L1503.0 1397.6 L1504.0 1396.6 L1505.0 1395.5 L1506.0 1394.5 L1507.0 1393.5 L1508.0 1392.5 L1509.0 1391.6 L1510.0 1390.6 L1511.0 1389.7 L1512.0 1388.7 L1513.0 1387.7 L1514.0 1386.7 L1515.0 1385.7 L1516.0 1384.8 L1517.0 1383.9 L1518.0 1383.0 L1519.0 1382.2 L1520.0 1381.6 L1521.0 1381.0 L1522.0 1380.5 L1523.0 1380.1 L1524.0 1379.9 L1525.0 1380.0 L1526.0 1380.2 L1527.0 1380.4 L1528.0 1380.6 L1529.0 1380.9 L1530.0 1381.3 L1531.0 1381.7 L1532.0 1382.1 L1533.0 1382.5 L1534.0 1383.0 L1535.0 1383.6 L1536.0 1384.1 L1537.0 1384.7 L1538.0 1385.2 L1539.0 1385.9 L1540.0 1386.6 L1541.0 1387.4 L1542.0 1388.3 L1543.0 1389.3 L1544.0 1390.3 L1545.0 1391.4 L1546.0 1392.5 L1547.0 1393.7 L1548.0 1394.8 L1549.0 1395.8 L1550.0 1396.9 L1551.0 1398.0 L1552.0 1399.1 L1553.0 1400.2 L1554.0 1401.3 L1555.0 1402.3 L1556.0 1403.4 L1557.0 1404.4 L1558.0 1405.3 L1559.0 1406.2 L1560.0 1406.9 L1561.0 1407.6 L1562.0 1408.3 L1563.0 1408.9 L1564.0 1409.4 L1565.0 1410.0 L1566.0 1410.6 L1567.0 1411.1 L1568.0 1411.6 L1569.0 1412.1 L1570.0 1412.6 L1571.0 1412.9 L1572.0 1413.3 L1573.0 1413.6 L1574.0 1414.0 L1575.0 1414.2 L1576.0 1414.4 L1577.0 1414.6 L1578.0 1414.7 L1579.0 1414.7 L1580.0 1414.7 L1581.0 1414.7 L1582.0 1414.6 L1583.0 1414.4 L1584.0 1414.3 L1585.0 1414.0 L1586.0 1413.8 L1587.0 1413.5 L1588.0 1413.2 L1589.0 1412.8 L1590.0 1412.5 L1591.0 1412.1 L1592.0 1411.7 L1593.0 1411.3 L1594.0 1410.8 L1595.0 1410.4 L1596.0 1409.9 L1597.0 1409.4 L1598.0 1408.9 L1599.0 1408.4 L1600.0 1407.7 L1601.0 1407.0 L1602.0 1406.3 L1603.0 1405.4 L1604.0 1404.6 L1605.0 1403.6 L1606.0 1402.7 L1607.0 1401.6 L1608.0 1400.6 L1609.0 1399.4 L1610.0 1398.2 L1611.0 1396.9 L1612.0 1395.4 L1613.0 1393.7 L1614.0 1392.0 L1615.0 1390.2 L1616.0 1388.5 L1617.0 1386.9 L1618.0 1385.4 L1619.0 1384.1 L1620.0 1382.9 L1621.0 1381.7 L1622.0 1380.7 L1623.0 1379.7 L1624.0 1378.8 L1625.0 1378.0 L1626.0 1377.4 L1627.0 1376.9 L1628.0 1376.6 L1629.0 1376.6 L1630.0 1376.9 L1631.0 1377.3 L1632.0 1377.8 L1633.0 1378.4 L1634.0 1379.1 L1635.0 1379.9 L1636.0 1380.7 L1637.0 1381.6 L1638.0 1382.6 L1639.0 1383.6 L1640.0 1384.6 L1641.0 1385.8 L1642.0 1387.0 L1643.0 1388.4 L1644.0 1390.0 L1645.0 1391.7 L1646.0 1393.5 L1647.0 1395.3 L1648.0 1397.2 L1649.0 1399.0 L1650.0 1400.8 L1651.0 1402.4 L1652.0 1404.0 L1653.0 1405.4 L1654.0 1406.9 L1655.0 1408.3 L1656.0 1409.7 L1657.0 1411.0 L1658.0 1412.3 L1659.0 1413.4 L1660.0 1414.4 L1661.0 1415.3 L1662.0 1416.0 L1663.0 1416.6 L1664.0 1417.1 L1665.0 1417.4 L1666.0 1417.7 L1667.0 1418.0 L1668.0 1418.2 L1669.0 1418.4 L1670.0 1418.6 L1671.0 1418.8 L1672.0 1419.0 L1673.0 1419.2 L1674.0 1419.5 L1675.0 1419.8 L1676.0 1420.2 L1677.0 1420.6 L1678.0 1421.1 L1679.0 1421.5 L1680.0 1422.0 L1681.0 1422.5 L1682.0 1423.0 L1683.0 1423.5 L1684.0 1424.0 L1685.0 1424.5 L1686.0 1425.0 L1687.0 1425.5 L1688.0 1425.9 L1689.0 1426.4 L1690.0 1426.8 L1691.0 1427.1 L1692.0 1427.4 L1693.0 1427.7 L1694.0 1428.0 L1695.0 1428.3 L1696.0 1428.6 L1697.0 1428.9 L1698.0 1429.2 L1699.0 1429.5 L1700.0 1429.7 L1701.0 1430.0 L1702.0 1430.2 L1703.0 1430.5 L1704.0 1430.8 L1705.0 1431.0 L1706.0 1431.2 L1707.0 1431.4 L1708.0 1431.7 L1709.0 1431.9 L1710.0 1432.2 L1711.0 1432.4 L1712.0 1432.6 L1713.0 1432.8 L1714.0 1433.0 L1715.0 1433.2 L1716.0 1433.5 L1717.0 1433.8 L1718.0 1434.0 L1719.0 1434.2 L1720.0 1434.4 L1721.0 1434.6 L1722.0 1434.7 L1723.0 1434.8 L1724.0 1435.0 L1725.0 1435.1 L1726.0 1435.3 L1727.0 1435.5 L1728.0 1435.6 L1729.0 1435.7 L1730.0 1435.8 L1731.0 1435.9 L1732.0 1436.0 L1733.0 1436.1 L1734.0 1436.3 L1735.0 1436.5 L1736.0 1436.6 L1737.0 1436.5 L1738.0 1436.4 L1739.0 1436.5 L1740.0 1436.7 L1741.0 1436.9 L1742.0 1437.1 L1743.0 1437.2 L1744.0 1437.2 L1745.0 1437.2 L1746.0 1437.1 L1747.0 1437.1 L1748.0 1437.0 L1749.0 1436.9 L1750.0 1436.9 L1751.0 1437.1 L1752.0 1437.4 L1753.0 1437.5 L1754.0 1437.4 L1755.0 1437.2 L1756.0 1437.1 L1757.0 1437.1 L1758.0 1437.1 L1759.0 1437.2 L1760.0 1437.4 L1761.0 1437.5 L1762.0 1437.5 L1763.0 1437.6 L1764.0 1437.4 L1765.0 1437.0 L1766.0 1436.6 L1767.0 1436.3 L1768.0 1436.2 L1769.0 1436.2 L1770.0 1436.3 L1771.0 1436.4 L1772.0 1436.3 L1773.0 1436.1 L1774.0 1436.1 L1775.0 1436.2 L1776.0 1436.4 L1777.0 1436.7 L1778.0 1437.0 L1779.0 1437.2 L1780.0 1437.3 L1781.0 1437.4 L1782.0 1437.5 L1783.0 1437.6 L1784.0 1437.6 L1785.0 1437.4 L1786.0 1437.1 L1787.0 1437.0 L1788.0 1436.9 L1789.0 1436.9 L1790.0 1436.8 L1791.0 1436.6 L1792.0 1436.5 L1793.0 1436.6 L1794.0 1436.8 L1795.0 1437.0 L1796.0 1437.2 L1797.0 1437.2 L1798.0 1437.0 L1799.0 1436.6 L1800.0 1436.1 L1801.0 1435.9 L1802.0 1435.9 L1803.0 1436.2 L1804.0 1436.2 L1805.0 1436.0 L1806.0 1435.6 L1807.0 1435.1 L1808.0 1434.6 L1809.0 1434.2 L1810.0 1433.9 L1811.0 1433.7 L1812.0 1433.6 L1813.0 1433.5 L1814.0 1433.3 L1815.0 1433.0 L1816.0 1432.9 L1817.0 1432.9 L1818.0 1433.0 L1819.0 1433.0 L1820.0 1433.0 L1821.0 1432.8 L1822.0 1432.6 L1823.0 1432.3 L1824.0 1432.1 L1825.0 1432.1 L1826.0 1432.2 L1827.0 1432.0 L1828.0 1431.6 L1829.0 1431.1 L1830.0 1430.9 L1831.0 1431.0 L1832.0 1431.1 L1833.0 1431.2 L1834.0 1431.1 L1835.0 1431.0 L1836.0 1430.8 L1837.0 1430.5 L1838.0 1430.2 L1839.0 1429.8 L1840.0 1429.4 L1841.0 1429.0 L1842.0 1428.6 L1843.0 1428.1 L1844.0 1427.7 L1845.0 1427.3 L1846.0 1426.9 L1847.0 1426.5 L1848.0 1426.1 L1849.0 1425.7 L1850.0 1425.2 L1851.0 1424.8 L1852.0 1424.4 L1853.0 1423.9 L1854.0 1423.5 L1855.0 1423.1 L1856.0 1422.7 L1857.0 1422.4 L1858.0 1422.1 L1859.0 1421.7 L1860.0 1421.4 L1861.0 1421.2 L1862.0 1420.9 L1863.0 1420.7 L1864.0 1420.5 L1865.0 1420.3 L1866.0 1419.9 L1867.0 1419.5 L1868.0 1418.9 L1869.0 1418.2 L1870.0 1417.4 L1871.0 1416.4 L1872.0 1415.4 L1873.0 1414.4 L1874.0 1413.3 L1875.0 1412.1 L1876.0 1411.0 L1877.0 1409.9 L1878.0 1408.8 L1879.0 1407.7 L1880.0 1406.7 L1881.0 1405.8 L1882.0 1404.9 L1883.0 1404.1 L1884.0 1403.2 L1885.0 1402.4 L1886.0 1401.6 L1887.0 1400.7 L1888.0 1399.9 L1889.0 1399.1 L1890.0 1398.3 L1891.0 1397.6 L1892.0 1396.9 L1893.0 1396.2 L1894.0 1395.7 L1895.0 1395.2 L1896.0 1394.9 L1897.0 1394.6 L1898.0 1394.4 L1899.0 1394.2 L1900.0 1394.2 L1901.0 1394.2 L1902.0 1394.4 L1903.0 1394.6 L1904.0 1394.8 L1905.0 1395.1 L1906.0 1395.3 L1907.0 1395.7 L1908.0 1396.0 L1909.0 1396.3 L1910.0 1396.6 L1911.0 1397.0 L1912.0 1397.4 L1913.0 1397.8 L1914.0 1398.2 L1915.0 1398.7 L1916.0 1399.4 L1917.0 1400.1 L1918.0 1401.0 L1919.0 1402.1 L1920.0 1403.2 L1921.0 1404.5 L1922.0 1405.9 L1923.0 1407.3 L1924.0 1408.7 L1925.0 1410.2 L1926.0 1411.6 L1927.0 1413.0 L1928.0 1414.3 L1929.0 1415.5 L1930.0 1416.6 L1931.0 1417.6 L1932.0 1418.5 L1933.0 1419.3 L1934.0 1420.1 L1935.0 1420.9 L1936.0 1421.6 L1937.0 1422.3 L1938.0 1423.0 L1939.0 1423.7 L1940.0 1424.3 L1941.0 1424.9 L1942.0 1425.5 L1943.0 1426.1 L1944.0 1426.6 L1945.0 1427.1 L1946.0 1427.5 L1947.0 1428.0 L1948.0 1428.4 L1949.0 1428.8 L1950.0 1429.2 L1951.0 1429.6 L1952.0 1429.9 L1953.0 1430.3 L1954.0 1430.6 L1955.0 1430.9 L1956.0 1431.2 L1957.0 1431.5 L1958.0 1431.8 L1959.0 1432.1 L1960.0 1432.4 L1961.0 1432.7 L1962.0 1433.0 L1963.0 1433.3 L1964.0 1433.5 L1965.0 1433.8 L1966.0 1434.0 L1967.0 1434.2 L1968.0 1434.4 L1969.0 1434.6 L1970.0 1434.8 L1971.0 1434.9 L1972.0 1435.1 L1973.0 1435.3 L1974.0 1435.4 L1975.0 1435.6 L1976.0 1435.7 L1977.0 1435.8 L1978.0 1435.9 L1979.0 1436.0 L1980.0 1436.1 L1981.0 1436.4 L1982.0 1436.6 L1983.0 1436.8 L1984.0 1437.0 L1985.0 1437.3 L1986.0 1437.5 L1987.0 1437.6 L1988.0 1437.6 L1989.0 1437.6 L1990.0 1437.7 L1991.0 1437.8 L1992.0 1437.9 L1993.0 1438.0 L1994.0 1438.2 L1995.0 1438.3 L1996.0 1438.3 L1997.0 1438.1 L1998.0 1438.0 L1999.0 1438.0 L2000.0 1438.0 L2001.0 1438.1 L2002.0 1438.3 L2003.0 1438.4 L2004.0 1438.5 L2005.0 1438.5 L2006.0 1438.5 L2007.0 1438.5 L2008.0 1438.7 L2009.0 1438.7 L2010.0 1438.6 L2011.0 1438.6 L2012.0 1438.7 L2013.0 1438.8 L2014.0 1438.9 L2015.0 1438.9 L2016.0 1438.9 L2017.0 1439.1 L2018.0 1439.2 L2019.0 1439.3 L2020.0 1439.2 L2021.0 1439.3 L2022.0 1439.6 L2023.0 1440.0 L2024.0 1440.4 L2025.0 1440.5 L2026.0 1440.3 L2027.0 1440.0 L2028.0 1439.8 L2029.0 1439.7 L2030.0 1439.9 L2031.0 1440.2 L2032.0 1440.5 L2033.0 1440.7 L2034.0 1440.6 L2035.0 1440.5 L2036.0 1440.5 L2037.0 1440.4 L2038.0 1440.4 L2039.0 1440.3 L2040.0 1440.3 L2041.0 1440.2 L2042.0 1440.0 L2043.0 1439.8 L2044.0 1439.8 L2045.0 1439.9 L2046.0 1440.2 L2047.0 1440.5 L2048.0 1440.5 L2049.0 1440.4 L2050.0 1440.4 L2051.0 1440.6 L2052.0 1440.9 L2053.0 1441.0 L2054.0 1440.8 L2055.0 1440.5 L2056.0 1440.2 L2057.0 1440.1 L2058.0 1440.3 L2059.0 1440.8 L2060.0 1441.2 L2061.0 1441.5 L2062.0 1441.6 L2063.0 1441.5 L2064.0 1441.3 L2065.0 1440.9 L2066.0 1440.6 L2067.0 1440.4 L2068.0 1440.2 L2069.0 1440.1 L2070.0 1440.0 L2071.0 1439.8 L2072.0 1439.6 L2073.0 1439.7 L2074.0 1440.1 L2075.0 1440.5 L2076.0 1440.7 L2077.0 1440.8 L2078.0 1440.9 L2079.0 1441.0 L2080.0 1441.0 L2081.0 1440.9 L2082.0 1440.7 L2083.0 1440.6 L2084.0 1440.4 L2085.0 1440.4 L2086.0 1440.6 L2087.0 1441.1 L2088.0 1441.8 L2089.0 1442.3 L2090.0 1442.3 L2091.0 1441.8 L2092.0 1441.2 L2093.0 1440.9 L2094.0 1441.0 L2095.0 1441.0 L2096.0 1440.9 L2097.0 1440.5 L2098.0 1440.4 L2099.0 1440.5 L2100.0 1440.8 L2101.0 1441.1 L2102.0 1441.1 L2103.0 1440.9 L2104.0 1440.6 L2105.0 1440.5 L2106.0 1440.6 L2107.0 1440.6 L2108.0 1440.5 L2109.0 1440.3 L2110.0 1440.3 L2111.0 1440.7 L2112.0 1440.9 L2113.0 1440.7 L2114.0 1440.4 L2115.0 1440.2 L2116.0 1440.2 L2117.0 1440.1 L2118.0 1440.0 L2119.0 1439.7 L2120.0 1439.6 L2121.0 1439.7 L2122.0 1439.8 L2123.0 1439.8 L2124.0 1439.8 L2125.0 1439.7 L2126.0 1439.6 L2127.0 1439.5 L2128.0 1439.6 L2129.0 1439.9 L2130.0 1440.2 L2131.0 1440.2 L2132.0 1440.0 L2133.0 1439.8 L2134.0 1439.9 L2135.0 1439.9 L2136.0 1439.9 L2137.0 1439.8 L2138.0 1439.8 L2139.0 1439.8 L2140.0 1439.8 L2141.0 1439.9 L2142.0 1440.0 L2143.0 1440.0 L2144.0 1440.2 L2145.0 1440.4 L2146.0 1440.4 L2147.0 1440.1 L2148.0 1439.9 L2149.0 1439.9 L2150.0 1440.0 L2151.0 1439.9 L2152.0 1439.9 L2153.0 1440.0 L2154.0 1440.5 L2155.0 1440.9 L2156.0 1441.0 L2157.0 1440.9 L2158.0 1440.6 L2159.0 1440.4 L2160.0 1440.3 L2161.0 1440.3 L2162.0 1440.3 L2163.0 1440.2 L2164.0 1440.3 L2165.0 1440.3 L2166.0 1440.4 L2167.0 1440.4 L2168.0 1440.3 L2169.0 1440.3 L2170.0 1440.3 L2171.0 1440.3 L2172.0 1440.3 L2173.0 1440.2 L2174.0 1440.2 L2175.0 1440.2 L2176.0 1440.3 L2177.0 1440.4 L2178.0 1440.4 L2179.0 1440.3 L2180.0 1440.2 L2181.0 1440.2 L2182.0 1440.3 L2183.0 1440.3 L2184.0 1440.4 L2185.0 1440.4 L2186.0 1440.5 L2187.0 1440.6 L2188.0 1440.7 L2189.0 1440.7 L2190.0 1440.7 L2191.0 1440.6 L2192.0 1440.5 L2193.0 1440.5 L2194.0 1440.6 L2195.0 1440.6 L2196.0 1440.7 L2197.0 1440.6 L2198.0 1440.6 L2199.0 1440.6 L2200.0 1440.5 L2201.0 1440.5 L2202.0 1440.5 L2203.0 1440.4 L2204.0 1440.5 L2205.0 1440.5 L2206.0 1440.6 L2207.0 1440.6 L2208.0 1440.6 L2209.0 1440.5 L2210.0 1440.5 L2211.0 1440.4 L2212.0 1440.4 L2213.0 1440.3 L2214.0 1440.3 L2215.0 1440.3 L2216.0 1440.3 L2217.0 1440.3 L2218.0 1440.3 L2219.0 1440.3 L2220.0 1440.4 L2221.0 1440.4 L2222.0 1440.3 L2223.0 1440.3 L2224.0 1440.2 L2225.0 1440.1 L2226.0 1440.1 L2227.0 1440.2 L2228.0 1440.1 L2229.0 1440.1 L2230.0 1440.1 L2231.0 1440.1 L2232.0 1440.2 L2233.0 1440.3 L2234.0 1440.3 L2235.0 1440.3 L2236.0 1440.3 L2237.0 1440.3 L2238.0 1440.4 L2239.0 1440.4 L2240.0 1440.3 L2241.0 1440.2" stroke="#000000"/>
</g>
<rect x="211.5" y="26.5" width="2030" height="1492" fill="none" stroke="#000" stroke-width="7"/>
<path d="M2128.7 1518V1503.5 M2015.9 1518V1488.5 M1903.2 1518V1503.5 M1790.4 1518V1488.5 M1677.6 1518V1503.5 M1564.8 1518V1488.5 M1452.1 1518V1503.5 M1339.3 1518V1488.5 M1226.5 1518V1503.5 M1113.7 1518V1488.5 M1000.9 1518V1503.5 M888.2 1518V1488.5 M775.4 1518V1503.5 M662.6 1518V1488.5 M549.8 1518V1503.5 M437.1 1518V1488.5 M324.3 1518V1503.5" stroke="#000" stroke-width="7" stroke-linecap="round" fill="none"/>
<g class="serif" font-size="62" text-anchor="middle" fill="#000">
<text x="2241.5" y="1596">0</text>
<text x="2015.9" y="1596">10</text>
<text x="1790.4" y="1596">20</text>
<text x="1564.8" y="1596">30</text>
<text x="1339.3" y="1596">40</text>
<text x="1113.7" y="1596">50</text>
<text x="888.2" y="1596">60</text>
<text x="662.6" y="1596">70</text>
<text x="437.1" y="1596">80</text>
<text x="211.5" y="1596">90</text>
</g>
<text class="serif" font-size="77" font-weight="bold" x="899.22" y="1714" textLength="656.43" lengthAdjust="spacingAndGlyphs">Chemical shift (ppm)</text>
<text class="serif" font-size="77" font-weight="bold" transform="translate(0 0) rotate(-90) translate(0 74.1)" x="-1005.30" y="0" textLength="462.86" lengthAdjust="spacingAndGlyphs">Intensity (a.u.)</text>
<line x1="268.5" y1="102.5" x2="410.5" y2="102.5" stroke="#008000" stroke-width="9" stroke-linecap="round"/>
<text class="serif" font-size="62"  x="423.11" y="124.8" textLength="219.80" lengthAdjust="spacingAndGlyphs">FSA-T10</text>
<line x1="268.5" y1="181.5" x2="410.5" y2="181.5" stroke="#ff00ff" stroke-width="9" stroke-linecap="round"/>
<text class="serif" font-size="62"  x="423.09" y="204.4" textLength="238.30" lengthAdjust="spacingAndGlyphs">FSA-M10</text>
<line x1="268.5" y1="260.4" x2="410.5" y2="260.4" stroke="#0000ff" stroke-width="9" stroke-linecap="round"/>
<text class="serif" font-size="62"  x="423.11" y="282" textLength="206.95" lengthAdjust="spacingAndGlyphs">FSA-M5</text>
<line x1="268.5" y1="338.5" x2="410.5" y2="338.5" stroke="#ff0000" stroke-width="9" stroke-linecap="round"/>
<text class="serif" font-size="62"  x="423.12" y="361.1" textLength="205.64" lengthAdjust="spacingAndGlyphs">FSA-M1</text>
<line x1="268.5" y1="417.4" x2="410.5" y2="417.4" stroke="#000" stroke-width="9" stroke-linecap="round"/>
<text class="serif" font-size="62"  x="423.08" y="439" textLength="108.43" lengthAdjust="spacingAndGlyphs">FSA</text>
<g class="serif" font-size="48" fill="#000" text-anchor="middle">
<text x="643.9" y="555.2">ε</text>
<text x="1522.8" y="655.2">δ</text>
<text x="1632" y="647.5">β, γ</text>
<text x="1897.4" y="675.6">α</text>
</g>
<text class="serif" font-size="48" x="2170.1" y="602.4">α'</text>
<g class="sans" font-size="49" fill="#000">
<text x="778.3" y="191.5">R</text>
<text x="759.3" y="277.1">R</text>
<text x="791.3" y="333.1">R</text>
<text x="874.2" y="246.2">Si</text>
<text x="959" y="263.3">O</text>
<text x="986.5" y="333">Si</text>
<text x="931.1" y="392.9">O</text>
<text x="1014" y="418.1">O</text>
<text x="1110" y="265.3">S</text>
<text x="1223.1" y="331.9">O</text>
<text x="1339" y="264.9">O</text>
<text x="1458.3" y="332.4">S</text>
<text x="1567.1" y="265.1">Si</text>
<text x="1535.4" y="204.3">O</text>
<text x="1621.1" y="215.5">O</text>
<text x="1615.1" y="340">O</text>
<text x="1697.2" y="304.3">Si</text>
<text x="1808.2" y="242.9">R</text>
<text x="1820.2" y="336.9">R</text>
<text x="1788.5" y="392.1">R</text>
</g>
<line x1="822" y1="188.5" x2="871.5" y2="214" stroke="#000" stroke-width="4.5"/>
<line x1="798" y1="255" x2="870.5" y2="236" stroke="#000" stroke-width="7"/>
<line x1="827" y1="297" x2="874.5" y2="250" stroke="#000" stroke-width="4.5"/>
<line x1="923" y1="234" x2="956" y2="242" stroke="#000" stroke-width="6"/>
<line x1="988" y1="268" x2="999" y2="291" stroke="#000" stroke-width="6"/>
<line x1="988.5" y1="335.5" x2="966.3" y2="358.5" stroke="#000" stroke-width="4.5"/>
<line x1="1016.6" y1="342" x2="1026.4" y2="377.3" stroke="#000" stroke-width="4.5"/>
<line x1="1567.5" y1="208.8" x2="1575.5" y2="224" stroke="#000" stroke-width="4.5"/>
<line x1="1612.3" y1="225.5" x2="1622.7" y2="215.4" stroke="#000" stroke-width="4.5"/>
<line x1="1605" y1="275.7" x2="1621.7" y2="303.8" stroke="#000" stroke-width="6"/>
<line x1="1655.9" y1="314.8" x2="1692" y2="297.8" stroke="#000" stroke-width="6"/>
<line x1="1747.2" y1="270.6" x2="1802.4" y2="239.5" stroke="#000" stroke-width="4.5"/>
<line x1="1747.2" y1="294.7" x2="1814.5" y2="314.4" stroke="#000" stroke-width="7"/>
<line x1="1742.2" y1="311.8" x2="1786.4" y2="354.6" stroke="#000" stroke-width="4.5"/>
<polyline points="1024.5,289 1048,249 1086.4,315.5 1113,270" fill="none" stroke="#000" stroke-width="7.2" stroke-linejoin="round"/>
<polyline points="1138,270 1164,316.5 1202.3,249.5 1229.7,294" fill="none" stroke="#000" stroke-width="7.2" stroke-linejoin="round"/>
<polyline points="1253.4,294 1280.3,249.5 1318.6,314 1345.6,270" fill="none" stroke="#000" stroke-width="7.2" stroke-linejoin="round"/>
<polyline points="1370.3,270 1395.8,313.5 1434.5,249.5 1461.6,294" fill="none" stroke="#000" stroke-width="7.2" stroke-linejoin="round"/>
<polyline points="1485.2,293.7 1511.9,249.5 1550.4,314.5 1576.1,273.7" fill="none" stroke="#000" stroke-width="7.2" stroke-linejoin="round"/>
<g fill="none" stroke="#000" stroke-width="4.7" stroke-linecap="butt" stroke-linejoin="round">
<path d="M936.5 397.2 C935.5 397.2 932.7 396.6 930.7 397.2 C928.8 397.8 925.8 399.1 924.8 400.5 C923.8 401.9 924.0 403.9 924.5 405.6 C925.0 407.3 926.5 409.1 927.8 410.7 C929.1 412.3 931.3 413.7 932.1 415.1 C932.9 416.6 933.0 417.9 932.5 419.4 C932.0 420.8 930.6 423.0 929.2 423.8 C927.8 424.6 926.2 424.6 924.1 424.2 C922.0 423.8 919.0 421.5 916.8 421.6 C914.6 421.7 912.1 423.1 911.0 424.6 C909.9 426.1 909.6 428.5 910.2 430.4 C910.8 432.3 913.2 434.5 914.6 436.2 C916.0 437.9 917.6 439.0 918.3 440.6 C919.0 442.2 918.5 445.2 918.6 446.1"/>
<path d="M1030.7 425.3 C1029.8 426.0 1026.6 428.0 1025.6 429.7 C1024.6 431.4 1024.0 433.7 1024.5 435.5 C1025.0 437.3 1026.8 439.4 1028.6 440.3 C1030.4 441.2 1033.3 440.1 1035.1 441.0 C1036.9 441.9 1038.9 444.1 1039.5 445.7 C1040.1 447.3 1039.9 449.5 1038.8 450.9 C1037.7 452.2 1034.9 452.9 1032.9 453.8 C1031.0 454.7 1028.5 454.9 1027.1 456.0 C1025.6 457.1 1024.7 459.7 1024.2 460.4"/>
<path d="M1541.8 165.0 C1542.5 164.2 1545.1 161.9 1545.7 160.3 C1546.3 158.8 1546.2 157.0 1545.3 155.7 C1544.4 154.4 1542.2 153.0 1540.3 152.6 C1538.4 152.2 1536.2 152.8 1534.0 153.0 C1531.8 153.2 1528.8 154.4 1527.1 154.1 C1525.4 153.8 1524.1 152.4 1523.6 151.0 C1523.1 149.6 1523.2 147.2 1524.0 145.6 C1524.8 144.0 1527.2 143.1 1528.6 141.7 C1529.9 140.3 1531.4 138.6 1532.1 137.1 C1532.8 135.6 1532.4 133.2 1532.5 132.4"/>
<path d="M1648.1 173.5 C1649.1 173.2 1652.9 173.2 1654.3 172.0 C1655.7 170.8 1656.5 168.3 1656.2 166.5 C1655.9 164.7 1654.3 162.5 1652.7 161.1 C1651.1 159.7 1647.9 159.4 1646.5 158.0 C1645.1 156.6 1644.2 154.3 1644.2 152.6 C1644.2 150.9 1645.0 148.9 1646.5 147.9 C1648.0 146.9 1651.2 146.9 1653.5 146.4 C1655.8 145.9 1658.9 146.0 1660.5 144.8 C1662.1 143.6 1663.1 141.1 1663.2 139.4 C1663.3 137.7 1662.1 135.8 1661.3 134.7 C1660.5 133.6 1658.7 133.1 1658.2 132.8"/>
</g>
<g class="serif" font-size="59" fill="#ff0000" text-anchor="middle">
<text x="1048" y="236.2">α</text><text x="1089" y="373.3">β</text><text x="1165.4" y="365.2">γ</text>
<text x="1202.4" y="235.2">δ</text><text x="1277.4" y="228.4">ε</text>
</g>
<text class="serif" font-size="59" fill="#ff0000" x="1258.5" y="465.8">α'</text>
<text class="serif" font-weight="bold" font-size="50" x="1173" y="521.4">R= CH<tspan font-size="37" font-weight="bold" dy="10">3</tspan><tspan dy="-10">,</tspan></text>
<text class="sans" font-size="40" x="1374.5" y="526.5">O</text>
<path d="M1412.3 512.5 C1412.5 513.1 1412.4 515.0 1413.6 516.3 C1414.8 517.6 1417.4 520.1 1419.3 520.4 C1421.2 520.7 1423.5 519.2 1424.7 517.9 C1425.9 516.6 1426.1 514.3 1426.7 512.6 C1427.3 510.9 1427.1 509.1 1428.3 507.7 C1429.5 506.3 1432.1 504.4 1434.1 504.4 C1436.0 504.4 1438.8 506.1 1440.0 507.7 C1441.2 509.3 1441.0 512.1 1441.5 513.8 C1442.0 515.5 1441.9 516.8 1443.1 517.9 C1444.3 519.0 1446.7 520.4 1448.5 520.4 C1450.3 520.4 1452.9 519.2 1454.2 517.9 C1455.5 516.6 1455.7 514.3 1456.3 512.6 C1456.9 510.9 1456.6 509.1 1457.8 507.7 C1459.0 506.3 1461.7 504.4 1463.7 504.4 C1465.7 504.4 1468.4 506.1 1469.6 507.7 C1470.8 509.3 1470.3 511.9 1470.9 513.8 C1471.5 515.6 1472.0 517.7 1473.1 518.8 C1474.2 519.9 1476.8 520.1 1477.6 520.4" fill="none" stroke="#000" stroke-width="4.7" stroke-linejoin="round"/>
</svg></body></html>
